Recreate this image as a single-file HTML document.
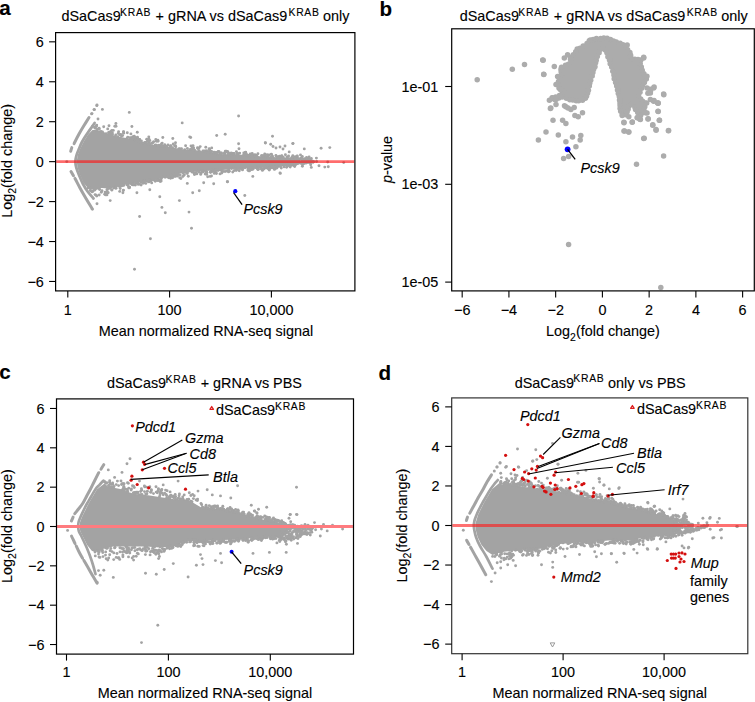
<!DOCTYPE html><html><head><meta charset="utf-8"><style>html,body{margin:0;padding:0;background:#fff;}svg{display:block;}</style></head><body><svg width="755" height="702" viewBox="0 0 755 702" font-family='"Liberation Sans", sans-serif'>
<rect width="755" height="702" fill="#fff"/>
<style>text{stroke:#000;stroke-width:0.12px;}</style>
<text x="-0.8" y="15.4" font-size="20.6" text-anchor="start" font-weight="bold" fill="#000">a</text>
<text x="61.5" y="21.2" font-size="14.4" text-anchor="start" font-weight="normal" fill="#000">dSaCas9</text>
<text x="120.1" y="16.0" font-size="10.4" letter-spacing="0.7">KRAB</text>
<text x="155.6" y="21.2" font-size="14.4" text-anchor="start" font-weight="normal" fill="#000">+ gRNA vs dSaCas9</text>
<text x="288.5" y="16.0" font-size="10.4" letter-spacing="0.7">KRAB</text>
<text x="323.0" y="21.2" font-size="14.4" text-anchor="start" font-weight="normal" fill="#000">only</text>
<polygon points="92.5,130.0 95.0,130.0 101.5,131.0 108.0,134.0 115.0,136.0 121.0,137.0 128.0,138.5 141.0,141.5 154.5,145.0 168.0,146.4 183.0,149.5 196.5,150.2 210.0,152.5 223.0,154.3 236.0,154.2 250.0,155.5 263.0,156.5 282.0,157.4 290.0,158.5 300.0,161.6 290.0,165.4 282.0,166.6 262.7,167.7 249.5,168.1 236.0,168.8 223.0,170.1 209.7,170.7 196.5,171.4 183.0,173.0 167.7,176.5 154.5,180.0 141.2,182.0 128.0,184.0 121.4,185.5 114.7,187.5 108.0,188.5 101.5,188.0 94.9,190.5 87.9,188.0 83.6,183.0 80.0,175.0 77.5,167.6 76.8,161.6 77.6,155.5 80.0,149.0 84.0,141.0 88.5,134.0" fill="#a3a3a3"/>
<circle cx="192.5" cy="149.2" r="1.45" fill="#a3a3a3"/>
<circle cx="296.8" cy="157.8" r="1.45" fill="#a3a3a3"/>
<circle cx="204.7" cy="151.0" r="1.45" fill="#a3a3a3"/>
<circle cx="133.3" cy="138.8" r="1.45" fill="#a3a3a3"/>
<circle cx="231.7" cy="154.4" r="1.45" fill="#a3a3a3"/>
<circle cx="113.3" cy="130.4" r="1.45" fill="#a3a3a3"/>
<circle cx="112.5" cy="134.8" r="1.45" fill="#a3a3a3"/>
<circle cx="245.7" cy="152.2" r="1.45" fill="#a3a3a3"/>
<circle cx="309.6" cy="160.7" r="1.45" fill="#a3a3a3"/>
<circle cx="237.0" cy="153.8" r="1.45" fill="#a3a3a3"/>
<circle cx="127.3" cy="132.8" r="1.45" fill="#a3a3a3"/>
<circle cx="209.3" cy="148.6" r="1.45" fill="#a3a3a3"/>
<circle cx="134.5" cy="137.8" r="1.45" fill="#a3a3a3"/>
<circle cx="99.1" cy="128.2" r="1.45" fill="#a3a3a3"/>
<circle cx="189.9" cy="150.1" r="1.45" fill="#a3a3a3"/>
<circle cx="207.2" cy="151.6" r="1.45" fill="#a3a3a3"/>
<circle cx="202.9" cy="151.0" r="1.45" fill="#a3a3a3"/>
<circle cx="193.6" cy="147.9" r="1.45" fill="#a3a3a3"/>
<circle cx="313.0" cy="162.2" r="1.45" fill="#a3a3a3"/>
<circle cx="278.2" cy="157.2" r="1.45" fill="#a3a3a3"/>
<circle cx="162.2" cy="143.1" r="1.45" fill="#a3a3a3"/>
<circle cx="156.4" cy="141.2" r="1.45" fill="#a3a3a3"/>
<circle cx="261.8" cy="155.7" r="1.45" fill="#a3a3a3"/>
<circle cx="279.6" cy="156.2" r="1.45" fill="#a3a3a3"/>
<circle cx="304.2" cy="159.7" r="1.45" fill="#a3a3a3"/>
<circle cx="92.6" cy="126.3" r="1.45" fill="#a3a3a3"/>
<circle cx="293.7" cy="157.8" r="1.45" fill="#a3a3a3"/>
<circle cx="309.2" cy="159.1" r="1.45" fill="#a3a3a3"/>
<circle cx="108.6" cy="132.7" r="1.45" fill="#a3a3a3"/>
<circle cx="264.6" cy="155.4" r="1.45" fill="#a3a3a3"/>
<circle cx="111.8" cy="130.5" r="1.45" fill="#a3a3a3"/>
<circle cx="305.6" cy="159.6" r="1.45" fill="#a3a3a3"/>
<circle cx="118.6" cy="131.8" r="1.45" fill="#a3a3a3"/>
<circle cx="114.8" cy="126.2" r="1.45" fill="#a3a3a3"/>
<circle cx="268.6" cy="155.1" r="1.45" fill="#a3a3a3"/>
<circle cx="216.1" cy="152.5" r="1.45" fill="#a3a3a3"/>
<circle cx="134.6" cy="140.0" r="1.45" fill="#a3a3a3"/>
<circle cx="121.4" cy="136.1" r="1.45" fill="#a3a3a3"/>
<circle cx="118.2" cy="133.4" r="1.45" fill="#a3a3a3"/>
<circle cx="139.5" cy="139.5" r="1.45" fill="#a3a3a3"/>
<circle cx="307.1" cy="160.0" r="1.45" fill="#a3a3a3"/>
<circle cx="159.7" cy="145.9" r="1.45" fill="#a3a3a3"/>
<circle cx="139.1" cy="139.9" r="1.45" fill="#a3a3a3"/>
<circle cx="281.3" cy="157.2" r="1.45" fill="#a3a3a3"/>
<circle cx="114.7" cy="136.6" r="1.45" fill="#a3a3a3"/>
<circle cx="139.6" cy="139.4" r="1.45" fill="#a3a3a3"/>
<circle cx="263.3" cy="155.6" r="1.45" fill="#a3a3a3"/>
<circle cx="158.0" cy="141.3" r="1.45" fill="#a3a3a3"/>
<circle cx="112.4" cy="133.0" r="1.45" fill="#a3a3a3"/>
<circle cx="146.2" cy="142.4" r="1.45" fill="#a3a3a3"/>
<circle cx="174.6" cy="145.7" r="1.45" fill="#a3a3a3"/>
<circle cx="304.5" cy="158.7" r="1.45" fill="#a3a3a3"/>
<circle cx="219.5" cy="154.3" r="1.45" fill="#a3a3a3"/>
<circle cx="132.9" cy="136.6" r="1.45" fill="#a3a3a3"/>
<circle cx="293.3" cy="158.9" r="1.45" fill="#a3a3a3"/>
<circle cx="147.6" cy="140.8" r="1.45" fill="#a3a3a3"/>
<circle cx="255.9" cy="156.6" r="1.45" fill="#a3a3a3"/>
<circle cx="135.9" cy="141.0" r="1.45" fill="#a3a3a3"/>
<circle cx="287.5" cy="157.8" r="1.45" fill="#a3a3a3"/>
<circle cx="185.6" cy="145.8" r="1.45" fill="#a3a3a3"/>
<circle cx="101.1" cy="131.5" r="1.45" fill="#a3a3a3"/>
<circle cx="145.2" cy="142.5" r="1.45" fill="#a3a3a3"/>
<circle cx="149.3" cy="143.9" r="1.45" fill="#a3a3a3"/>
<circle cx="224.3" cy="153.2" r="1.45" fill="#a3a3a3"/>
<circle cx="131.3" cy="139.1" r="1.45" fill="#a3a3a3"/>
<circle cx="107.7" cy="128.9" r="1.45" fill="#a3a3a3"/>
<circle cx="216.1" cy="153.8" r="1.45" fill="#a3a3a3"/>
<circle cx="228.3" cy="152.8" r="1.45" fill="#a3a3a3"/>
<circle cx="295.2" cy="156.7" r="1.45" fill="#a3a3a3"/>
<circle cx="96.2" cy="126.5" r="1.45" fill="#a3a3a3"/>
<circle cx="191.0" cy="145.9" r="1.45" fill="#a3a3a3"/>
<circle cx="131.5" cy="137.6" r="1.45" fill="#a3a3a3"/>
<circle cx="218.9" cy="151.6" r="1.45" fill="#a3a3a3"/>
<circle cx="172.5" cy="147.6" r="1.45" fill="#a3a3a3"/>
<circle cx="309.2" cy="159.9" r="1.45" fill="#a3a3a3"/>
<circle cx="245.3" cy="154.8" r="1.45" fill="#a3a3a3"/>
<circle cx="123.5" cy="131.6" r="1.45" fill="#a3a3a3"/>
<circle cx="96.5" cy="130.6" r="1.45" fill="#a3a3a3"/>
<circle cx="247.4" cy="156.0" r="1.45" fill="#a3a3a3"/>
<circle cx="97.2" cy="129.2" r="1.45" fill="#a3a3a3"/>
<circle cx="199.1" cy="150.6" r="1.45" fill="#a3a3a3"/>
<circle cx="163.0" cy="146.7" r="1.45" fill="#a3a3a3"/>
<circle cx="109.1" cy="132.1" r="1.45" fill="#a3a3a3"/>
<circle cx="255.4" cy="156.5" r="1.45" fill="#a3a3a3"/>
<circle cx="255.4" cy="156.1" r="1.45" fill="#a3a3a3"/>
<circle cx="267.8" cy="157.3" r="1.45" fill="#a3a3a3"/>
<circle cx="170.3" cy="146.0" r="1.45" fill="#a3a3a3"/>
<circle cx="291.6" cy="159.0" r="1.45" fill="#a3a3a3"/>
<circle cx="184.7" cy="149.6" r="1.45" fill="#a3a3a3"/>
<circle cx="283.3" cy="157.2" r="1.45" fill="#a3a3a3"/>
<circle cx="230.6" cy="153.1" r="1.45" fill="#a3a3a3"/>
<circle cx="221.3" cy="153.9" r="1.45" fill="#a3a3a3"/>
<circle cx="110.2" cy="133.0" r="1.45" fill="#a3a3a3"/>
<circle cx="312.0" cy="161.5" r="1.45" fill="#a3a3a3"/>
<circle cx="253.4" cy="155.1" r="1.45" fill="#a3a3a3"/>
<circle cx="254.9" cy="155.7" r="1.45" fill="#a3a3a3"/>
<circle cx="189.9" cy="150.1" r="1.45" fill="#a3a3a3"/>
<circle cx="111.0" cy="134.0" r="1.45" fill="#a3a3a3"/>
<circle cx="99.1" cy="129.2" r="1.45" fill="#a3a3a3"/>
<circle cx="198.8" cy="148.3" r="1.45" fill="#a3a3a3"/>
<circle cx="246.8" cy="154.7" r="1.45" fill="#a3a3a3"/>
<circle cx="228.3" cy="154.9" r="1.45" fill="#a3a3a3"/>
<circle cx="149.0" cy="139.1" r="1.45" fill="#a3a3a3"/>
<circle cx="159.0" cy="145.1" r="1.45" fill="#a3a3a3"/>
<circle cx="137.3" cy="138.2" r="1.45" fill="#a3a3a3"/>
<circle cx="292.7" cy="158.4" r="1.45" fill="#a3a3a3"/>
<circle cx="190.2" cy="150.3" r="1.45" fill="#a3a3a3"/>
<circle cx="164.8" cy="145.6" r="1.45" fill="#a3a3a3"/>
<circle cx="136.4" cy="139.3" r="1.45" fill="#a3a3a3"/>
<circle cx="270.6" cy="157.5" r="1.45" fill="#a3a3a3"/>
<circle cx="287.0" cy="157.0" r="1.45" fill="#a3a3a3"/>
<circle cx="221.4" cy="153.0" r="1.45" fill="#a3a3a3"/>
<circle cx="122.6" cy="135.6" r="1.45" fill="#a3a3a3"/>
<circle cx="277.5" cy="157.6" r="1.45" fill="#a3a3a3"/>
<circle cx="249.7" cy="156.2" r="1.45" fill="#a3a3a3"/>
<circle cx="153.7" cy="141.8" r="1.45" fill="#a3a3a3"/>
<circle cx="192.1" cy="147.8" r="1.45" fill="#a3a3a3"/>
<circle cx="139.8" cy="140.2" r="1.45" fill="#a3a3a3"/>
<circle cx="230.8" cy="153.5" r="1.45" fill="#a3a3a3"/>
<circle cx="162.2" cy="146.0" r="1.45" fill="#a3a3a3"/>
<circle cx="309.5" cy="159.3" r="1.45" fill="#a3a3a3"/>
<circle cx="109.0" cy="125.7" r="1.45" fill="#a3a3a3"/>
<circle cx="285.4" cy="154.7" r="1.45" fill="#a3a3a3"/>
<circle cx="249.1" cy="155.2" r="1.45" fill="#a3a3a3"/>
<circle cx="160.8" cy="145.7" r="1.45" fill="#a3a3a3"/>
<circle cx="96.7" cy="125.1" r="1.45" fill="#a3a3a3"/>
<circle cx="193.0" cy="145.6" r="1.45" fill="#a3a3a3"/>
<circle cx="275.9" cy="155.5" r="1.45" fill="#a3a3a3"/>
<circle cx="123.6" cy="131.9" r="1.45" fill="#a3a3a3"/>
<circle cx="231.5" cy="153.3" r="1.45" fill="#a3a3a3"/>
<circle cx="231.7" cy="154.0" r="1.45" fill="#a3a3a3"/>
<circle cx="270.9" cy="157.6" r="1.45" fill="#a3a3a3"/>
<circle cx="243.8" cy="153.0" r="1.45" fill="#a3a3a3"/>
<circle cx="197.5" cy="147.7" r="1.45" fill="#a3a3a3"/>
<circle cx="94.9" cy="128.0" r="1.45" fill="#a3a3a3"/>
<circle cx="250.3" cy="154.0" r="1.45" fill="#a3a3a3"/>
<circle cx="152.7" cy="142.7" r="1.45" fill="#a3a3a3"/>
<circle cx="246.6" cy="154.7" r="1.45" fill="#a3a3a3"/>
<circle cx="228.3" cy="154.4" r="1.45" fill="#a3a3a3"/>
<circle cx="179.5" cy="148.7" r="1.45" fill="#a3a3a3"/>
<circle cx="292.8" cy="155.8" r="1.45" fill="#a3a3a3"/>
<circle cx="298.6" cy="158.7" r="1.45" fill="#a3a3a3"/>
<circle cx="121.2" cy="134.9" r="1.45" fill="#a3a3a3"/>
<circle cx="230.7" cy="154.8" r="1.45" fill="#a3a3a3"/>
<circle cx="175.8" cy="146.7" r="1.45" fill="#a3a3a3"/>
<circle cx="286.8" cy="158.3" r="1.45" fill="#a3a3a3"/>
<circle cx="301.2" cy="158.1" r="1.45" fill="#a3a3a3"/>
<circle cx="236.4" cy="151.8" r="1.45" fill="#a3a3a3"/>
<circle cx="252.0" cy="156.1" r="1.45" fill="#a3a3a3"/>
<circle cx="234.3" cy="154.1" r="1.45" fill="#a3a3a3"/>
<circle cx="139.6" cy="141.7" r="1.45" fill="#a3a3a3"/>
<circle cx="309.2" cy="160.6" r="1.45" fill="#a3a3a3"/>
<circle cx="211.2" cy="152.8" r="1.45" fill="#a3a3a3"/>
<circle cx="163.3" cy="146.4" r="1.45" fill="#a3a3a3"/>
<circle cx="281.6" cy="156.1" r="1.45" fill="#a3a3a3"/>
<circle cx="110.8" cy="131.5" r="1.45" fill="#a3a3a3"/>
<circle cx="214.1" cy="153.2" r="1.45" fill="#a3a3a3"/>
<circle cx="200.2" cy="146.6" r="1.45" fill="#a3a3a3"/>
<circle cx="271.3" cy="154.3" r="1.45" fill="#a3a3a3"/>
<circle cx="269.3" cy="155.0" r="1.45" fill="#a3a3a3"/>
<circle cx="166.5" cy="146.3" r="1.45" fill="#a3a3a3"/>
<circle cx="123.6" cy="133.3" r="1.45" fill="#a3a3a3"/>
<circle cx="206.7" cy="151.8" r="1.45" fill="#a3a3a3"/>
<circle cx="278.1" cy="157.2" r="1.45" fill="#a3a3a3"/>
<circle cx="301.5" cy="158.2" r="1.45" fill="#a3a3a3"/>
<circle cx="302.3" cy="156.4" r="1.45" fill="#a3a3a3"/>
<circle cx="141.4" cy="141.0" r="1.45" fill="#a3a3a3"/>
<circle cx="156.6" cy="145.1" r="1.45" fill="#a3a3a3"/>
<circle cx="233.7" cy="153.5" r="1.45" fill="#a3a3a3"/>
<circle cx="278.9" cy="156.8" r="1.45" fill="#a3a3a3"/>
<circle cx="161.4" cy="143.9" r="1.45" fill="#a3a3a3"/>
<circle cx="279.3" cy="157.8" r="1.45" fill="#a3a3a3"/>
<circle cx="138.5" cy="141.3" r="1.45" fill="#a3a3a3"/>
<circle cx="306.5" cy="159.1" r="1.45" fill="#a3a3a3"/>
<circle cx="219.1" cy="152.0" r="1.45" fill="#a3a3a3"/>
<circle cx="210.9" cy="151.7" r="1.45" fill="#a3a3a3"/>
<circle cx="226.3" cy="151.3" r="1.45" fill="#a3a3a3"/>
<circle cx="306.7" cy="159.1" r="1.45" fill="#a3a3a3"/>
<circle cx="181.0" cy="149.1" r="1.45" fill="#a3a3a3"/>
<circle cx="216.9" cy="152.8" r="1.45" fill="#a3a3a3"/>
<circle cx="245.2" cy="152.4" r="1.45" fill="#a3a3a3"/>
<circle cx="211.6" cy="151.5" r="1.45" fill="#a3a3a3"/>
<circle cx="304.0" cy="159.8" r="1.45" fill="#a3a3a3"/>
<circle cx="152.0" cy="143.2" r="1.45" fill="#a3a3a3"/>
<circle cx="120.6" cy="134.5" r="1.45" fill="#a3a3a3"/>
<circle cx="272.8" cy="157.5" r="1.45" fill="#a3a3a3"/>
<circle cx="197.8" cy="148.6" r="1.45" fill="#a3a3a3"/>
<circle cx="134.8" cy="139.6" r="1.45" fill="#a3a3a3"/>
<circle cx="297.0" cy="156.2" r="1.45" fill="#a3a3a3"/>
<circle cx="264.7" cy="153.9" r="1.45" fill="#a3a3a3"/>
<circle cx="135.4" cy="137.9" r="1.45" fill="#a3a3a3"/>
<circle cx="244.3" cy="153.7" r="1.45" fill="#a3a3a3"/>
<circle cx="171.0" cy="145.7" r="1.45" fill="#a3a3a3"/>
<circle cx="115.7" cy="135.0" r="1.45" fill="#a3a3a3"/>
<circle cx="119.6" cy="134.7" r="1.45" fill="#a3a3a3"/>
<circle cx="147.9" cy="140.9" r="1.45" fill="#a3a3a3"/>
<circle cx="209.7" cy="151.2" r="1.45" fill="#a3a3a3"/>
<circle cx="175.5" cy="145.6" r="1.45" fill="#a3a3a3"/>
<circle cx="209.5" cy="149.6" r="1.45" fill="#a3a3a3"/>
<circle cx="137.6" cy="140.4" r="1.45" fill="#a3a3a3"/>
<circle cx="233.6" cy="153.5" r="1.45" fill="#a3a3a3"/>
<circle cx="280.6" cy="157.0" r="1.45" fill="#a3a3a3"/>
<circle cx="281.8" cy="155.6" r="1.45" fill="#a3a3a3"/>
<circle cx="256.2" cy="156.4" r="1.45" fill="#a3a3a3"/>
<circle cx="292.0" cy="157.1" r="1.45" fill="#a3a3a3"/>
<circle cx="162.1" cy="146.3" r="1.45" fill="#a3a3a3"/>
<circle cx="140.7" cy="142.2" r="1.45" fill="#a3a3a3"/>
<circle cx="288.6" cy="155.9" r="1.45" fill="#a3a3a3"/>
<circle cx="145.4" cy="142.6" r="1.45" fill="#a3a3a3"/>
<circle cx="149.8" cy="140.4" r="1.45" fill="#a3a3a3"/>
<circle cx="276.4" cy="156.3" r="1.45" fill="#a3a3a3"/>
<circle cx="267.1" cy="154.8" r="1.45" fill="#a3a3a3"/>
<circle cx="181.5" cy="148.7" r="1.45" fill="#a3a3a3"/>
<circle cx="96.4" cy="125.9" r="1.45" fill="#a3a3a3"/>
<circle cx="243.3" cy="155.5" r="1.45" fill="#a3a3a3"/>
<circle cx="306.5" cy="157.4" r="1.45" fill="#a3a3a3"/>
<circle cx="204.3" cy="151.5" r="1.45" fill="#a3a3a3"/>
<circle cx="203.6" cy="151.2" r="1.45" fill="#a3a3a3"/>
<circle cx="134.3" cy="136.3" r="1.45" fill="#a3a3a3"/>
<circle cx="116.0" cy="126.3" r="1.45" fill="#a3a3a3"/>
<circle cx="214.4" cy="152.4" r="1.45" fill="#a3a3a3"/>
<circle cx="218.2" cy="151.5" r="1.45" fill="#a3a3a3"/>
<circle cx="133.3" cy="137.1" r="1.45" fill="#a3a3a3"/>
<circle cx="278.2" cy="158.0" r="1.45" fill="#a3a3a3"/>
<circle cx="297.3" cy="156.0" r="1.45" fill="#a3a3a3"/>
<circle cx="106.2" cy="133.7" r="1.45" fill="#a3a3a3"/>
<circle cx="194.6" cy="150.1" r="1.45" fill="#a3a3a3"/>
<circle cx="164.7" cy="144.7" r="1.45" fill="#a3a3a3"/>
<circle cx="206.4" cy="150.6" r="1.45" fill="#a3a3a3"/>
<circle cx="225.3" cy="151.2" r="1.45" fill="#a3a3a3"/>
<circle cx="247.4" cy="155.7" r="1.45" fill="#a3a3a3"/>
<circle cx="132.6" cy="138.3" r="1.45" fill="#a3a3a3"/>
<circle cx="255.9" cy="155.3" r="1.45" fill="#a3a3a3"/>
<circle cx="135.6" cy="137.6" r="1.45" fill="#a3a3a3"/>
<circle cx="205.8" cy="147.3" r="1.45" fill="#a3a3a3"/>
<circle cx="289.9" cy="158.8" r="1.45" fill="#a3a3a3"/>
<circle cx="248.2" cy="155.8" r="1.45" fill="#a3a3a3"/>
<circle cx="231.6" cy="153.1" r="1.45" fill="#a3a3a3"/>
<circle cx="225.0" cy="153.8" r="1.45" fill="#a3a3a3"/>
<circle cx="309.7" cy="160.3" r="1.45" fill="#a3a3a3"/>
<circle cx="149.6" cy="144.3" r="1.45" fill="#a3a3a3"/>
<circle cx="257.0" cy="156.4" r="1.45" fill="#a3a3a3"/>
<circle cx="272.5" cy="156.1" r="1.45" fill="#a3a3a3"/>
<circle cx="290.6" cy="159.0" r="1.45" fill="#a3a3a3"/>
<circle cx="246.1" cy="155.4" r="1.45" fill="#a3a3a3"/>
<circle cx="261.6" cy="155.7" r="1.45" fill="#a3a3a3"/>
<circle cx="252.2" cy="153.5" r="1.45" fill="#a3a3a3"/>
<circle cx="168.0" cy="145.0" r="1.45" fill="#a3a3a3"/>
<circle cx="94.8" cy="127.2" r="1.45" fill="#a3a3a3"/>
<circle cx="233.7" cy="153.8" r="1.45" fill="#a3a3a3"/>
<circle cx="143.8" cy="142.9" r="1.45" fill="#a3a3a3"/>
<circle cx="239.7" cy="153.1" r="1.45" fill="#a3a3a3"/>
<circle cx="238.3" cy="153.8" r="1.45" fill="#a3a3a3"/>
<circle cx="210.3" cy="151.1" r="1.45" fill="#a3a3a3"/>
<circle cx="313.5" cy="161.6" r="1.45" fill="#a3a3a3"/>
<circle cx="247.5" cy="155.5" r="1.45" fill="#a3a3a3"/>
<circle cx="309.1" cy="157.0" r="1.45" fill="#a3a3a3"/>
<circle cx="228.5" cy="154.4" r="1.45" fill="#a3a3a3"/>
<circle cx="149.2" cy="142.3" r="1.45" fill="#a3a3a3"/>
<circle cx="103.7" cy="126.8" r="1.45" fill="#a3a3a3"/>
<circle cx="175.5" cy="142.8" r="1.45" fill="#a3a3a3"/>
<circle cx="147.9" cy="143.8" r="1.45" fill="#a3a3a3"/>
<circle cx="214.1" cy="152.3" r="1.45" fill="#a3a3a3"/>
<circle cx="306.2" cy="159.2" r="1.45" fill="#a3a3a3"/>
<circle cx="312.4" cy="161.1" r="1.45" fill="#a3a3a3"/>
<circle cx="271.4" cy="154.4" r="1.45" fill="#a3a3a3"/>
<circle cx="224.6" cy="154.5" r="1.45" fill="#a3a3a3"/>
<circle cx="102.5" cy="131.9" r="1.45" fill="#a3a3a3"/>
<circle cx="127.8" cy="137.1" r="1.45" fill="#a3a3a3"/>
<circle cx="129.9" cy="137.7" r="1.45" fill="#a3a3a3"/>
<circle cx="227.6" cy="151.5" r="1.45" fill="#a3a3a3"/>
<circle cx="301.4" cy="158.0" r="1.45" fill="#a3a3a3"/>
<circle cx="208.9" cy="151.8" r="1.45" fill="#a3a3a3"/>
<circle cx="173.3" cy="144.0" r="1.45" fill="#a3a3a3"/>
<circle cx="237.3" cy="153.7" r="1.45" fill="#a3a3a3"/>
<circle cx="155.2" cy="144.9" r="1.45" fill="#a3a3a3"/>
<circle cx="157.9" cy="140.3" r="1.45" fill="#a3a3a3"/>
<circle cx="146.7" cy="139.3" r="1.45" fill="#a3a3a3"/>
<circle cx="127.1" cy="138.2" r="1.45" fill="#a3a3a3"/>
<circle cx="178.7" cy="149.0" r="1.45" fill="#a3a3a3"/>
<circle cx="257.9" cy="153.8" r="1.45" fill="#a3a3a3"/>
<circle cx="311.0" cy="161.1" r="1.45" fill="#a3a3a3"/>
<circle cx="108.7" cy="134.5" r="1.45" fill="#a3a3a3"/>
<circle cx="187.4" cy="148.5" r="1.45" fill="#a3a3a3"/>
<circle cx="307.6" cy="158.2" r="1.45" fill="#a3a3a3"/>
<circle cx="208.2" cy="152.8" r="1.45" fill="#a3a3a3"/>
<circle cx="252.2" cy="155.2" r="1.45" fill="#a3a3a3"/>
<circle cx="308.8" cy="160.2" r="1.45" fill="#a3a3a3"/>
<circle cx="225.9" cy="152.1" r="1.45" fill="#a3a3a3"/>
<circle cx="230.5" cy="153.4" r="1.45" fill="#a3a3a3"/>
<circle cx="137.5" cy="137.2" r="1.45" fill="#a3a3a3"/>
<circle cx="209.2" cy="149.3" r="1.45" fill="#a3a3a3"/>
<circle cx="190.4" cy="149.5" r="1.45" fill="#a3a3a3"/>
<circle cx="193.2" cy="147.8" r="1.45" fill="#a3a3a3"/>
<circle cx="221.2" cy="153.3" r="1.45" fill="#a3a3a3"/>
<circle cx="264.4" cy="156.3" r="1.45" fill="#a3a3a3"/>
<circle cx="313.0" cy="162.1" r="1.45" fill="#a3a3a3"/>
<circle cx="254.8" cy="154.6" r="1.45" fill="#a3a3a3"/>
<circle cx="117.7" cy="136.6" r="1.45" fill="#a3a3a3"/>
<circle cx="265.8" cy="156.6" r="1.45" fill="#a3a3a3"/>
<circle cx="168.9" cy="177.7" r="1.45" fill="#a3a3a3"/>
<circle cx="242.4" cy="168.9" r="1.45" fill="#a3a3a3"/>
<circle cx="221.4" cy="170.4" r="1.45" fill="#a3a3a3"/>
<circle cx="257.9" cy="169.5" r="1.45" fill="#a3a3a3"/>
<circle cx="144.1" cy="180.8" r="1.45" fill="#a3a3a3"/>
<circle cx="294.5" cy="163.9" r="1.45" fill="#a3a3a3"/>
<circle cx="96.8" cy="196.0" r="1.45" fill="#a3a3a3"/>
<circle cx="149.0" cy="181.9" r="1.45" fill="#a3a3a3"/>
<circle cx="228.5" cy="171.9" r="1.45" fill="#a3a3a3"/>
<circle cx="210.1" cy="176.4" r="1.45" fill="#a3a3a3"/>
<circle cx="107.4" cy="189.4" r="1.45" fill="#a3a3a3"/>
<circle cx="212.1" cy="171.5" r="1.45" fill="#a3a3a3"/>
<circle cx="172.1" cy="176.3" r="1.45" fill="#a3a3a3"/>
<circle cx="135.4" cy="185.0" r="1.45" fill="#a3a3a3"/>
<circle cx="255.9" cy="167.5" r="1.45" fill="#a3a3a3"/>
<circle cx="104.7" cy="194.3" r="1.45" fill="#a3a3a3"/>
<circle cx="270.5" cy="167.3" r="1.45" fill="#a3a3a3"/>
<circle cx="261.3" cy="169.0" r="1.45" fill="#a3a3a3"/>
<circle cx="183.6" cy="175.5" r="1.45" fill="#a3a3a3"/>
<circle cx="270.6" cy="168.1" r="1.45" fill="#a3a3a3"/>
<circle cx="235.4" cy="168.1" r="1.45" fill="#a3a3a3"/>
<circle cx="161.3" cy="178.7" r="1.45" fill="#a3a3a3"/>
<circle cx="256.2" cy="167.3" r="1.45" fill="#a3a3a3"/>
<circle cx="184.4" cy="174.7" r="1.45" fill="#a3a3a3"/>
<circle cx="109.8" cy="188.0" r="1.45" fill="#a3a3a3"/>
<circle cx="105.6" cy="194.9" r="1.45" fill="#a3a3a3"/>
<circle cx="215.2" cy="171.9" r="1.45" fill="#a3a3a3"/>
<circle cx="242.5" cy="169.9" r="1.45" fill="#a3a3a3"/>
<circle cx="262.9" cy="169.6" r="1.45" fill="#a3a3a3"/>
<circle cx="136.0" cy="183.3" r="1.45" fill="#a3a3a3"/>
<circle cx="106.3" cy="192.2" r="1.45" fill="#a3a3a3"/>
<circle cx="251.5" cy="168.1" r="1.45" fill="#a3a3a3"/>
<circle cx="151.7" cy="182.9" r="1.45" fill="#a3a3a3"/>
<circle cx="168.6" cy="176.2" r="1.45" fill="#a3a3a3"/>
<circle cx="170.6" cy="178.3" r="1.45" fill="#a3a3a3"/>
<circle cx="247.9" cy="168.7" r="1.45" fill="#a3a3a3"/>
<circle cx="295.1" cy="163.6" r="1.45" fill="#a3a3a3"/>
<circle cx="294.0" cy="165.2" r="1.45" fill="#a3a3a3"/>
<circle cx="269.1" cy="168.4" r="1.45" fill="#a3a3a3"/>
<circle cx="159.6" cy="179.7" r="1.45" fill="#a3a3a3"/>
<circle cx="298.8" cy="162.9" r="1.45" fill="#a3a3a3"/>
<circle cx="143.9" cy="182.9" r="1.45" fill="#a3a3a3"/>
<circle cx="170.4" cy="177.1" r="1.45" fill="#a3a3a3"/>
<circle cx="177.1" cy="175.8" r="1.45" fill="#a3a3a3"/>
<circle cx="131.9" cy="184.6" r="1.45" fill="#a3a3a3"/>
<circle cx="267.7" cy="167.7" r="1.45" fill="#a3a3a3"/>
<circle cx="276.6" cy="167.3" r="1.45" fill="#a3a3a3"/>
<circle cx="127.7" cy="184.5" r="1.45" fill="#a3a3a3"/>
<circle cx="286.6" cy="167.3" r="1.45" fill="#a3a3a3"/>
<circle cx="92.9" cy="191.2" r="1.45" fill="#a3a3a3"/>
<circle cx="210.7" cy="172.0" r="1.45" fill="#a3a3a3"/>
<circle cx="305.9" cy="163.0" r="1.45" fill="#a3a3a3"/>
<circle cx="269.4" cy="169.6" r="1.45" fill="#a3a3a3"/>
<circle cx="211.3" cy="170.8" r="1.45" fill="#a3a3a3"/>
<circle cx="106.9" cy="194.9" r="1.45" fill="#a3a3a3"/>
<circle cx="254.2" cy="167.4" r="1.45" fill="#a3a3a3"/>
<circle cx="107.0" cy="189.7" r="1.45" fill="#a3a3a3"/>
<circle cx="120.4" cy="186.3" r="1.45" fill="#a3a3a3"/>
<circle cx="234.3" cy="170.5" r="1.45" fill="#a3a3a3"/>
<circle cx="137.6" cy="182.5" r="1.45" fill="#a3a3a3"/>
<circle cx="205.6" cy="171.1" r="1.45" fill="#a3a3a3"/>
<circle cx="176.9" cy="176.1" r="1.45" fill="#a3a3a3"/>
<circle cx="306.3" cy="162.9" r="1.45" fill="#a3a3a3"/>
<circle cx="199.3" cy="172.2" r="1.45" fill="#a3a3a3"/>
<circle cx="250.5" cy="168.1" r="1.45" fill="#a3a3a3"/>
<circle cx="294.3" cy="165.2" r="1.45" fill="#a3a3a3"/>
<circle cx="274.3" cy="167.1" r="1.45" fill="#a3a3a3"/>
<circle cx="280.5" cy="166.4" r="1.45" fill="#a3a3a3"/>
<circle cx="276.0" cy="166.4" r="1.45" fill="#a3a3a3"/>
<circle cx="304.0" cy="163.1" r="1.45" fill="#a3a3a3"/>
<circle cx="206.1" cy="171.4" r="1.45" fill="#a3a3a3"/>
<circle cx="268.9" cy="168.0" r="1.45" fill="#a3a3a3"/>
<circle cx="182.8" cy="176.6" r="1.45" fill="#a3a3a3"/>
<circle cx="255.1" cy="167.2" r="1.45" fill="#a3a3a3"/>
<circle cx="172.6" cy="177.7" r="1.45" fill="#a3a3a3"/>
<circle cx="134.0" cy="184.9" r="1.45" fill="#a3a3a3"/>
<circle cx="153.8" cy="179.4" r="1.45" fill="#a3a3a3"/>
<circle cx="101.3" cy="192.2" r="1.45" fill="#a3a3a3"/>
<circle cx="113.8" cy="188.0" r="1.45" fill="#a3a3a3"/>
<circle cx="263.0" cy="169.0" r="1.45" fill="#a3a3a3"/>
<circle cx="102.0" cy="190.7" r="1.45" fill="#a3a3a3"/>
<circle cx="219.7" cy="169.7" r="1.45" fill="#a3a3a3"/>
<circle cx="96.1" cy="195.3" r="1.45" fill="#a3a3a3"/>
<circle cx="129.5" cy="187.7" r="1.45" fill="#a3a3a3"/>
<circle cx="141.0" cy="182.0" r="1.45" fill="#a3a3a3"/>
<circle cx="222.1" cy="171.9" r="1.45" fill="#a3a3a3"/>
<circle cx="129.6" cy="187.1" r="1.45" fill="#a3a3a3"/>
<circle cx="126.8" cy="184.7" r="1.45" fill="#a3a3a3"/>
<circle cx="158.2" cy="179.5" r="1.45" fill="#a3a3a3"/>
<circle cx="272.2" cy="167.7" r="1.45" fill="#a3a3a3"/>
<circle cx="146.7" cy="180.7" r="1.45" fill="#a3a3a3"/>
<circle cx="294.2" cy="165.5" r="1.45" fill="#a3a3a3"/>
<circle cx="211.4" cy="170.0" r="1.45" fill="#a3a3a3"/>
<circle cx="196.8" cy="173.9" r="1.45" fill="#a3a3a3"/>
<circle cx="99.1" cy="188.4" r="1.45" fill="#a3a3a3"/>
<circle cx="268.7" cy="168.1" r="1.45" fill="#a3a3a3"/>
<circle cx="206.9" cy="172.4" r="1.45" fill="#a3a3a3"/>
<circle cx="149.8" cy="179.9" r="1.45" fill="#a3a3a3"/>
<circle cx="236.2" cy="170.4" r="1.45" fill="#a3a3a3"/>
<circle cx="90.4" cy="190.2" r="1.45" fill="#a3a3a3"/>
<circle cx="171.7" cy="175.3" r="1.45" fill="#a3a3a3"/>
<circle cx="248.8" cy="168.5" r="1.45" fill="#a3a3a3"/>
<circle cx="123.4" cy="190.1" r="1.45" fill="#a3a3a3"/>
<circle cx="160.5" cy="180.1" r="1.45" fill="#a3a3a3"/>
<circle cx="284.0" cy="166.9" r="1.45" fill="#a3a3a3"/>
<circle cx="231.6" cy="168.5" r="1.45" fill="#a3a3a3"/>
<circle cx="148.0" cy="181.6" r="1.45" fill="#a3a3a3"/>
<circle cx="121.9" cy="185.8" r="1.45" fill="#a3a3a3"/>
<circle cx="88.2" cy="187.9" r="1.45" fill="#a3a3a3"/>
<circle cx="278.8" cy="166.4" r="1.45" fill="#a3a3a3"/>
<circle cx="106.5" cy="192.5" r="1.45" fill="#a3a3a3"/>
<circle cx="249.5" cy="170.9" r="1.45" fill="#a3a3a3"/>
<circle cx="196.2" cy="172.5" r="1.45" fill="#a3a3a3"/>
<circle cx="303.5" cy="163.2" r="1.45" fill="#a3a3a3"/>
<circle cx="281.3" cy="168.1" r="1.45" fill="#a3a3a3"/>
<circle cx="266.0" cy="168.1" r="1.45" fill="#a3a3a3"/>
<circle cx="294.7" cy="166.6" r="1.45" fill="#a3a3a3"/>
<circle cx="274.3" cy="168.7" r="1.45" fill="#a3a3a3"/>
<circle cx="210.5" cy="172.3" r="1.45" fill="#a3a3a3"/>
<circle cx="123.4" cy="185.1" r="1.45" fill="#a3a3a3"/>
<circle cx="158.2" cy="180.5" r="1.45" fill="#a3a3a3"/>
<circle cx="105.1" cy="192.1" r="1.45" fill="#a3a3a3"/>
<circle cx="193.3" cy="171.9" r="1.45" fill="#a3a3a3"/>
<circle cx="169.1" cy="176.2" r="1.45" fill="#a3a3a3"/>
<circle cx="111.8" cy="189.9" r="1.45" fill="#a3a3a3"/>
<circle cx="192.1" cy="171.2" r="1.45" fill="#a3a3a3"/>
<circle cx="275.1" cy="167.1" r="1.45" fill="#a3a3a3"/>
<circle cx="90.7" cy="190.9" r="1.45" fill="#a3a3a3"/>
<circle cx="248.1" cy="170.0" r="1.45" fill="#a3a3a3"/>
<circle cx="215.2" cy="172.0" r="1.45" fill="#a3a3a3"/>
<circle cx="90.3" cy="188.1" r="1.45" fill="#a3a3a3"/>
<circle cx="268.3" cy="168.8" r="1.45" fill="#a3a3a3"/>
<circle cx="226.9" cy="171.0" r="1.45" fill="#a3a3a3"/>
<circle cx="172.7" cy="176.0" r="1.45" fill="#a3a3a3"/>
<circle cx="155.2" cy="181.2" r="1.45" fill="#a3a3a3"/>
<circle cx="176.4" cy="174.8" r="1.45" fill="#a3a3a3"/>
<circle cx="145.8" cy="183.4" r="1.45" fill="#a3a3a3"/>
<circle cx="252.9" cy="169.3" r="1.45" fill="#a3a3a3"/>
<circle cx="301.1" cy="163.4" r="1.45" fill="#a3a3a3"/>
<circle cx="251.2" cy="169.4" r="1.45" fill="#a3a3a3"/>
<circle cx="274.4" cy="169.4" r="1.45" fill="#a3a3a3"/>
<circle cx="119.7" cy="191.4" r="1.45" fill="#a3a3a3"/>
<circle cx="240.8" cy="168.5" r="1.45" fill="#a3a3a3"/>
<circle cx="128.5" cy="186.5" r="1.45" fill="#a3a3a3"/>
<circle cx="276.7" cy="167.2" r="1.45" fill="#a3a3a3"/>
<circle cx="108.2" cy="192.8" r="1.45" fill="#a3a3a3"/>
<circle cx="123.3" cy="190.6" r="1.45" fill="#a3a3a3"/>
<circle cx="179.7" cy="177.7" r="1.45" fill="#a3a3a3"/>
<circle cx="295.6" cy="164.8" r="1.45" fill="#a3a3a3"/>
<circle cx="203.3" cy="171.7" r="1.45" fill="#a3a3a3"/>
<circle cx="260.9" cy="167.3" r="1.45" fill="#a3a3a3"/>
<circle cx="175.0" cy="176.5" r="1.45" fill="#a3a3a3"/>
<circle cx="180.9" cy="178.5" r="1.45" fill="#a3a3a3"/>
<circle cx="178.3" cy="174.3" r="1.45" fill="#a3a3a3"/>
<circle cx="309.4" cy="162.6" r="1.45" fill="#a3a3a3"/>
<circle cx="236.8" cy="169.0" r="1.45" fill="#a3a3a3"/>
<circle cx="92.1" cy="191.9" r="1.45" fill="#a3a3a3"/>
<circle cx="165.1" cy="177.3" r="1.45" fill="#a3a3a3"/>
<circle cx="111.9" cy="190.0" r="1.45" fill="#a3a3a3"/>
<circle cx="202.8" cy="171.1" r="1.45" fill="#a3a3a3"/>
<circle cx="274.1" cy="167.2" r="1.45" fill="#a3a3a3"/>
<circle cx="123.6" cy="185.4" r="1.45" fill="#a3a3a3"/>
<circle cx="291.6" cy="165.4" r="1.45" fill="#a3a3a3"/>
<circle cx="167.4" cy="177.1" r="1.45" fill="#a3a3a3"/>
<circle cx="119.9" cy="186.6" r="1.45" fill="#a3a3a3"/>
<circle cx="310.5" cy="163.0" r="1.45" fill="#a3a3a3"/>
<circle cx="249.3" cy="167.8" r="1.45" fill="#a3a3a3"/>
<circle cx="132.4" cy="182.8" r="1.45" fill="#a3a3a3"/>
<circle cx="229.4" cy="171.2" r="1.45" fill="#a3a3a3"/>
<circle cx="106.7" cy="192.7" r="1.45" fill="#a3a3a3"/>
<circle cx="218.0" cy="170.6" r="1.45" fill="#a3a3a3"/>
<circle cx="162.2" cy="177.3" r="1.45" fill="#a3a3a3"/>
<circle cx="169.4" cy="176.9" r="1.45" fill="#a3a3a3"/>
<circle cx="115.9" cy="186.4" r="1.45" fill="#a3a3a3"/>
<circle cx="118.5" cy="186.0" r="1.45" fill="#a3a3a3"/>
<circle cx="210.5" cy="172.1" r="1.45" fill="#a3a3a3"/>
<circle cx="214.3" cy="173.4" r="1.45" fill="#a3a3a3"/>
<circle cx="293.0" cy="163.9" r="1.45" fill="#a3a3a3"/>
<circle cx="272.3" cy="167.3" r="1.45" fill="#a3a3a3"/>
<circle cx="115.6" cy="187.0" r="1.45" fill="#a3a3a3"/>
<circle cx="153.0" cy="179.7" r="1.45" fill="#a3a3a3"/>
<circle cx="142.2" cy="182.3" r="1.45" fill="#a3a3a3"/>
<circle cx="275.3" cy="168.8" r="1.45" fill="#a3a3a3"/>
<circle cx="211.5" cy="176.0" r="1.45" fill="#a3a3a3"/>
<circle cx="95.1" cy="194.6" r="1.45" fill="#a3a3a3"/>
<circle cx="310.6" cy="162.1" r="1.45" fill="#a3a3a3"/>
<circle cx="236.4" cy="170.0" r="1.45" fill="#a3a3a3"/>
<circle cx="239.3" cy="168.5" r="1.45" fill="#a3a3a3"/>
<circle cx="174.0" cy="175.5" r="1.45" fill="#a3a3a3"/>
<circle cx="269.2" cy="170.1" r="1.45" fill="#a3a3a3"/>
<circle cx="132.9" cy="184.9" r="1.45" fill="#a3a3a3"/>
<circle cx="120.2" cy="188.6" r="1.45" fill="#a3a3a3"/>
<circle cx="216.4" cy="173.6" r="1.45" fill="#a3a3a3"/>
<circle cx="205.2" cy="174.0" r="1.45" fill="#a3a3a3"/>
<circle cx="216.0" cy="172.6" r="1.45" fill="#a3a3a3"/>
<circle cx="232.7" cy="172.0" r="1.45" fill="#a3a3a3"/>
<circle cx="239.3" cy="170.8" r="1.45" fill="#a3a3a3"/>
<circle cx="304.3" cy="163.2" r="1.45" fill="#a3a3a3"/>
<circle cx="193.9" cy="173.1" r="1.45" fill="#a3a3a3"/>
<circle cx="228.6" cy="169.5" r="1.45" fill="#a3a3a3"/>
<circle cx="258.9" cy="167.6" r="1.45" fill="#a3a3a3"/>
<circle cx="197.5" cy="170.6" r="1.45" fill="#a3a3a3"/>
<circle cx="277.0" cy="166.4" r="1.45" fill="#a3a3a3"/>
<circle cx="180.2" cy="175.1" r="1.45" fill="#a3a3a3"/>
<circle cx="215.6" cy="170.0" r="1.45" fill="#a3a3a3"/>
<circle cx="206.6" cy="172.3" r="1.45" fill="#a3a3a3"/>
<circle cx="185.4" cy="172.2" r="1.45" fill="#a3a3a3"/>
<circle cx="160.2" cy="181.5" r="1.45" fill="#a3a3a3"/>
<circle cx="251.6" cy="167.5" r="1.45" fill="#a3a3a3"/>
<circle cx="253.0" cy="168.3" r="1.45" fill="#a3a3a3"/>
<circle cx="257.5" cy="169.0" r="1.45" fill="#a3a3a3"/>
<circle cx="221.8" cy="173.0" r="1.45" fill="#a3a3a3"/>
<circle cx="116.0" cy="188.3" r="1.45" fill="#a3a3a3"/>
<circle cx="201.3" cy="173.0" r="1.45" fill="#a3a3a3"/>
<circle cx="99.6" cy="189.6" r="1.45" fill="#a3a3a3"/>
<circle cx="206.6" cy="174.3" r="1.45" fill="#a3a3a3"/>
<circle cx="157.0" cy="180.4" r="1.45" fill="#a3a3a3"/>
<circle cx="141.1" cy="185.1" r="1.45" fill="#a3a3a3"/>
<circle cx="293.5" cy="163.9" r="1.45" fill="#a3a3a3"/>
<circle cx="238.1" cy="168.2" r="1.45" fill="#a3a3a3"/>
<circle cx="183.0" cy="172.9" r="1.45" fill="#a3a3a3"/>
<circle cx="137.9" cy="182.5" r="1.45" fill="#a3a3a3"/>
<circle cx="215.8" cy="170.0" r="1.45" fill="#a3a3a3"/>
<circle cx="110.1" cy="188.3" r="1.45" fill="#a3a3a3"/>
<circle cx="115.8" cy="188.0" r="1.45" fill="#a3a3a3"/>
<circle cx="302.4" cy="166.2" r="1.45" fill="#a3a3a3"/>
<circle cx="142.9" cy="183.3" r="1.45" fill="#a3a3a3"/>
<circle cx="161.2" cy="181.1" r="1.45" fill="#a3a3a3"/>
<circle cx="289.8" cy="165.1" r="1.45" fill="#a3a3a3"/>
<circle cx="177.5" cy="175.9" r="1.45" fill="#a3a3a3"/>
<circle cx="220.0" cy="173.9" r="1.45" fill="#a3a3a3"/>
<circle cx="94.9" cy="190.1" r="1.45" fill="#a3a3a3"/>
<circle cx="157.4" cy="180.0" r="1.45" fill="#a3a3a3"/>
<circle cx="298.6" cy="162.8" r="1.45" fill="#a3a3a3"/>
<circle cx="194.5" cy="174.2" r="1.45" fill="#a3a3a3"/>
<circle cx="154.5" cy="179.4" r="1.45" fill="#a3a3a3"/>
<circle cx="290.2" cy="167.1" r="1.45" fill="#a3a3a3"/>
<circle cx="276.9" cy="168.0" r="1.45" fill="#a3a3a3"/>
<circle cx="194.5" cy="174.4" r="1.45" fill="#a3a3a3"/>
<circle cx="286.4" cy="165.2" r="1.45" fill="#a3a3a3"/>
<circle cx="133.5" cy="183.9" r="1.45" fill="#a3a3a3"/>
<circle cx="131.1" cy="183.2" r="1.45" fill="#a3a3a3"/>
<circle cx="99.2" cy="195.0" r="1.45" fill="#a3a3a3"/>
<circle cx="251.6" cy="169.5" r="1.45" fill="#a3a3a3"/>
<circle cx="291.0" cy="164.7" r="1.45" fill="#a3a3a3"/>
<circle cx="248.8" cy="170.7" r="1.45" fill="#a3a3a3"/>
<circle cx="244.9" cy="167.7" r="1.45" fill="#a3a3a3"/>
<circle cx="188.3" cy="176.3" r="1.45" fill="#a3a3a3"/>
<circle cx="138.3" cy="184.4" r="1.45" fill="#a3a3a3"/>
<circle cx="248.2" cy="170.3" r="1.45" fill="#a3a3a3"/>
<circle cx="128.7" cy="187.8" r="1.45" fill="#a3a3a3"/>
<circle cx="237.8" cy="168.4" r="1.45" fill="#a3a3a3"/>
<circle cx="171.9" cy="175.7" r="1.45" fill="#a3a3a3"/>
<circle cx="287.4" cy="166.1" r="1.45" fill="#a3a3a3"/>
<circle cx="139.6" cy="184.0" r="1.45" fill="#a3a3a3"/>
<circle cx="297.0" cy="163.8" r="1.45" fill="#a3a3a3"/>
<circle cx="150.4" cy="180.9" r="1.45" fill="#a3a3a3"/>
<circle cx="108.2" cy="187.8" r="1.45" fill="#a3a3a3"/>
<circle cx="187.2" cy="173.5" r="1.45" fill="#a3a3a3"/>
<circle cx="207.7" cy="176.7" r="1.45" fill="#a3a3a3"/>
<circle cx="223.2" cy="171.4" r="1.45" fill="#a3a3a3"/>
<circle cx="144.5" cy="181.3" r="1.45" fill="#a3a3a3"/>
<circle cx="107.6" cy="192.4" r="1.45" fill="#a3a3a3"/>
<circle cx="258.4" cy="169.2" r="1.45" fill="#a3a3a3"/>
<circle cx="150.9" cy="181.1" r="1.45" fill="#a3a3a3"/>
<circle cx="129.9" cy="183.4" r="1.45" fill="#a3a3a3"/>
<circle cx="310.7" cy="164.8" r="1.45" fill="#a3a3a3"/>
<circle cx="192.0" cy="172.0" r="1.45" fill="#a3a3a3"/>
<circle cx="174.7" cy="174.3" r="1.45" fill="#a3a3a3"/>
<circle cx="200.7" cy="174.4" r="1.45" fill="#a3a3a3"/>
<circle cx="213.3" cy="171.3" r="1.45" fill="#a3a3a3"/>
<circle cx="169.0" cy="176.3" r="1.45" fill="#a3a3a3"/>
<circle cx="264.5" cy="167.9" r="1.45" fill="#a3a3a3"/>
<circle cx="202.0" cy="170.9" r="1.45" fill="#a3a3a3"/>
<circle cx="242.3" cy="169.0" r="1.45" fill="#a3a3a3"/>
<circle cx="302.6" cy="164.6" r="1.45" fill="#a3a3a3"/>
<circle cx="263.8" cy="169.1" r="1.45" fill="#a3a3a3"/>
<circle cx="225.1" cy="171.5" r="1.45" fill="#a3a3a3"/>
<circle cx="187.3" cy="172.5" r="1.45" fill="#a3a3a3"/>
<circle cx="265.3" cy="167.2" r="1.45" fill="#a3a3a3"/>
<circle cx="294.0" cy="161.5" r="1.45" fill="#a3a3a3"/>
<circle cx="293.6" cy="162.1" r="1.45" fill="#a3a3a3"/>
<circle cx="300.7" cy="158.9" r="1.45" fill="#a3a3a3"/>
<circle cx="303.2" cy="162.0" r="1.45" fill="#a3a3a3"/>
<circle cx="302.6" cy="162.6" r="1.45" fill="#a3a3a3"/>
<circle cx="292.6" cy="159.5" r="1.45" fill="#a3a3a3"/>
<circle cx="288.5" cy="161.9" r="1.45" fill="#a3a3a3"/>
<circle cx="299.1" cy="160.8" r="1.45" fill="#a3a3a3"/>
<circle cx="294.7" cy="163.2" r="1.45" fill="#a3a3a3"/>
<circle cx="289.8" cy="164.8" r="1.45" fill="#a3a3a3"/>
<circle cx="302.5" cy="161.3" r="1.45" fill="#a3a3a3"/>
<circle cx="308.2" cy="160.5" r="1.45" fill="#a3a3a3"/>
<circle cx="291.7" cy="160.6" r="1.45" fill="#a3a3a3"/>
<circle cx="289.1" cy="160.6" r="1.45" fill="#a3a3a3"/>
<circle cx="303.8" cy="161.3" r="1.45" fill="#a3a3a3"/>
<circle cx="294.8" cy="162.0" r="1.45" fill="#a3a3a3"/>
<circle cx="290.3" cy="164.1" r="1.45" fill="#a3a3a3"/>
<circle cx="292.4" cy="160.2" r="1.45" fill="#a3a3a3"/>
<circle cx="292.1" cy="163.0" r="1.45" fill="#a3a3a3"/>
<circle cx="309.2" cy="162.4" r="1.45" fill="#a3a3a3"/>
<circle cx="289.6" cy="161.3" r="1.45" fill="#a3a3a3"/>
<circle cx="297.3" cy="159.8" r="1.45" fill="#a3a3a3"/>
<circle cx="312.7" cy="161.3" r="1.45" fill="#a3a3a3"/>
<circle cx="300.5" cy="162.1" r="1.45" fill="#a3a3a3"/>
<circle cx="313.1" cy="161.5" r="1.45" fill="#a3a3a3"/>
<circle cx="299.6" cy="162.1" r="1.45" fill="#a3a3a3"/>
<circle cx="289.0" cy="160.1" r="1.45" fill="#a3a3a3"/>
<circle cx="310.7" cy="160.7" r="1.45" fill="#a3a3a3"/>
<circle cx="298.0" cy="160.1" r="1.45" fill="#a3a3a3"/>
<circle cx="298.8" cy="159.0" r="1.45" fill="#a3a3a3"/>
<circle cx="288.9" cy="165.5" r="1.45" fill="#a3a3a3"/>
<circle cx="307.5" cy="162.2" r="1.45" fill="#a3a3a3"/>
<circle cx="293.9" cy="160.1" r="1.45" fill="#a3a3a3"/>
<circle cx="302.1" cy="160.0" r="1.45" fill="#a3a3a3"/>
<circle cx="299.8" cy="162.9" r="1.45" fill="#a3a3a3"/>
<circle cx="297.3" cy="160.4" r="1.45" fill="#a3a3a3"/>
<circle cx="313.0" cy="161.6" r="1.45" fill="#a3a3a3"/>
<circle cx="289.0" cy="161.3" r="1.45" fill="#a3a3a3"/>
<circle cx="304.6" cy="159.5" r="1.45" fill="#a3a3a3"/>
<circle cx="296.8" cy="162.3" r="1.45" fill="#a3a3a3"/>
<circle cx="310.0" cy="161.8" r="1.45" fill="#a3a3a3"/>
<circle cx="310.6" cy="161.4" r="1.45" fill="#a3a3a3"/>
<circle cx="298.0" cy="162.9" r="1.45" fill="#a3a3a3"/>
<circle cx="297.7" cy="162.6" r="1.45" fill="#a3a3a3"/>
<circle cx="293.5" cy="160.7" r="1.45" fill="#a3a3a3"/>
<circle cx="292.7" cy="162.0" r="1.45" fill="#a3a3a3"/>
<circle cx="292.2" cy="159.8" r="1.45" fill="#a3a3a3"/>
<circle cx="293.5" cy="161.4" r="1.45" fill="#a3a3a3"/>
<circle cx="295.9" cy="161.1" r="1.45" fill="#a3a3a3"/>
<circle cx="313.3" cy="161.6" r="1.45" fill="#a3a3a3"/>
<circle cx="310.0" cy="160.6" r="1.45" fill="#a3a3a3"/>
<circle cx="297.8" cy="159.0" r="1.45" fill="#a3a3a3"/>
<circle cx="305.6" cy="160.8" r="1.45" fill="#a3a3a3"/>
<circle cx="295.0" cy="158.7" r="1.45" fill="#a3a3a3"/>
<circle cx="292.6" cy="160.2" r="1.45" fill="#a3a3a3"/>
<circle cx="298.0" cy="163.3" r="1.45" fill="#a3a3a3"/>
<circle cx="306.2" cy="160.5" r="1.45" fill="#a3a3a3"/>
<circle cx="297.2" cy="159.4" r="1.45" fill="#a3a3a3"/>
<circle cx="311.9" cy="161.4" r="1.45" fill="#a3a3a3"/>
<circle cx="307.5" cy="162.1" r="1.45" fill="#a3a3a3"/>
<circle cx="311.1" cy="160.6" r="1.45" fill="#a3a3a3"/>
<circle cx="296.2" cy="160.7" r="1.45" fill="#a3a3a3"/>
<circle cx="290.1" cy="164.6" r="1.45" fill="#a3a3a3"/>
<circle cx="296.3" cy="162.8" r="1.45" fill="#a3a3a3"/>
<circle cx="301.2" cy="159.1" r="1.45" fill="#a3a3a3"/>
<circle cx="298.0" cy="159.8" r="1.45" fill="#a3a3a3"/>
<circle cx="289.0" cy="159.5" r="1.45" fill="#a3a3a3"/>
<circle cx="303.2" cy="159.2" r="1.45" fill="#a3a3a3"/>
<circle cx="296.0" cy="160.9" r="1.45" fill="#a3a3a3"/>
<circle cx="301.9" cy="159.5" r="1.45" fill="#a3a3a3"/>
<circle cx="96.8" cy="105.6" r="1.5" fill="#a3a3a3"/>
<circle cx="94.4" cy="109.4" r="1.5" fill="#a3a3a3"/>
<circle cx="91.6" cy="113.7" r="1.5" fill="#a3a3a3"/>
<path d="M89.0,117.5 C88.2,118.8 85.7,122.8 84.0,125.5 C82.3,128.2 80.7,131.0 79.0,134.0 C77.3,137.0 74.9,142.0 74.1,143.6" fill="none" stroke="#a3a3a3" stroke-width="3.0" stroke-linecap="round"/>
<path d="M71.8,147.6 C71.6,148.2 70.9,150.7 70.7,151.3" fill="none" stroke="#a3a3a3" stroke-width="3.0" stroke-linecap="round"/>
<path d="M71.0,171.5 C71.7,172.7 73.5,175.8 75.0,178.5 C76.5,181.2 78.2,184.7 80.0,188.0 C81.8,191.3 84.0,195.1 86.0,198.5 C88.0,201.9 91.0,206.8 92.0,208.5" fill="none" stroke="#a3a3a3" stroke-width="3.0" stroke-linecap="round" stroke-dasharray="5 3 35 3"/>
<path d="M94.6,123.0 C94.1,123.7 92.9,125.6 91.6,127.4 C90.3,129.2 88.6,131.6 87.0,134.0 C85.4,136.4 83.4,139.3 82.0,142.0 C80.6,144.7 79.5,147.7 78.5,150.0 C77.5,152.3 76.8,154.1 76.3,156.0 C75.8,157.9 75.4,159.7 75.4,161.6 C75.4,163.5 75.7,165.4 76.3,167.6 C76.9,169.8 77.9,172.3 79.0,175.0 C80.1,177.7 81.5,181.2 83.0,184.0 C84.5,186.8 86.2,189.6 88.0,192.0 C89.8,194.4 92.6,197.4 93.5,198.5" fill="none" stroke="#a3a3a3" stroke-width="2.8" stroke-linecap="round"/>
<circle cx="97.0" cy="105.0" r="1.45" fill="#a3a3a3"/>
<circle cx="94.0" cy="109.6" r="1.45" fill="#a3a3a3"/>
<circle cx="102.4" cy="109.4" r="1.45" fill="#a3a3a3"/>
<circle cx="92.0" cy="113.6" r="1.45" fill="#a3a3a3"/>
<circle cx="98.0" cy="119.0" r="1.45" fill="#a3a3a3"/>
<circle cx="129.3" cy="112.4" r="1.45" fill="#a3a3a3"/>
<circle cx="182.2" cy="122.9" r="1.45" fill="#a3a3a3"/>
<circle cx="131.9" cy="126.5" r="1.45" fill="#a3a3a3"/>
<circle cx="137.3" cy="132.3" r="1.45" fill="#a3a3a3"/>
<circle cx="115.9" cy="123.5" r="1.45" fill="#a3a3a3"/>
<circle cx="216.7" cy="135.5" r="1.45" fill="#a3a3a3"/>
<circle cx="225.2" cy="134.3" r="1.45" fill="#a3a3a3"/>
<circle cx="238.6" cy="116.0" r="1.45" fill="#a3a3a3"/>
<circle cx="189.7" cy="136.9" r="1.45" fill="#a3a3a3"/>
<circle cx="190.7" cy="137.5" r="1.45" fill="#a3a3a3"/>
<circle cx="162.8" cy="137.5" r="1.45" fill="#a3a3a3"/>
<circle cx="172.8" cy="138.5" r="1.45" fill="#a3a3a3"/>
<circle cx="148.8" cy="136.9" r="1.45" fill="#a3a3a3"/>
<circle cx="155.8" cy="139.5" r="1.45" fill="#a3a3a3"/>
<circle cx="130.9" cy="133.9" r="1.45" fill="#a3a3a3"/>
<circle cx="211.7" cy="147.9" r="1.45" fill="#a3a3a3"/>
<circle cx="159.8" cy="196.7" r="1.45" fill="#a3a3a3"/>
<circle cx="161.9" cy="207.4" r="1.45" fill="#a3a3a3"/>
<circle cx="165.3" cy="212.7" r="1.45" fill="#a3a3a3"/>
<circle cx="139.6" cy="216.5" r="1.45" fill="#a3a3a3"/>
<circle cx="150.4" cy="238.8" r="1.45" fill="#a3a3a3"/>
<circle cx="134.5" cy="269.3" r="1.45" fill="#a3a3a3"/>
<circle cx="179.4" cy="200.6" r="1.45" fill="#a3a3a3"/>
<circle cx="189.0" cy="212.1" r="1.45" fill="#a3a3a3"/>
<circle cx="191.5" cy="228.2" r="1.45" fill="#a3a3a3"/>
<circle cx="192.7" cy="192.8" r="1.45" fill="#a3a3a3"/>
<circle cx="199.3" cy="190.8" r="1.45" fill="#a3a3a3"/>
<circle cx="187.3" cy="183.4" r="1.45" fill="#a3a3a3"/>
<circle cx="203.7" cy="182.8" r="1.45" fill="#a3a3a3"/>
<circle cx="213.7" cy="183.8" r="1.45" fill="#a3a3a3"/>
<circle cx="227.6" cy="181.8" r="1.45" fill="#a3a3a3"/>
<circle cx="110.2" cy="200.6" r="1.45" fill="#a3a3a3"/>
<circle cx="97.0" cy="203.7" r="1.45" fill="#a3a3a3"/>
<circle cx="92.4" cy="209.3" r="1.45" fill="#a3a3a3"/>
<circle cx="122.9" cy="192.8" r="1.45" fill="#a3a3a3"/>
<circle cx="136.9" cy="192.8" r="1.45" fill="#a3a3a3"/>
<circle cx="149.8" cy="189.8" r="1.45" fill="#a3a3a3"/>
<circle cx="272.5" cy="136.3" r="1.45" fill="#a3a3a3"/>
<circle cx="238.6" cy="143.7" r="1.45" fill="#a3a3a3"/>
<circle cx="239.0" cy="148.7" r="1.45" fill="#a3a3a3"/>
<circle cx="265.3" cy="142.7" r="1.45" fill="#a3a3a3"/>
<circle cx="293.0" cy="143.5" r="1.45" fill="#a3a3a3"/>
<circle cx="304.3" cy="148.9" r="1.45" fill="#a3a3a3"/>
<circle cx="321.1" cy="148.3" r="1.45" fill="#a3a3a3"/>
<circle cx="329.8" cy="147.6" r="1.45" fill="#a3a3a3"/>
<circle cx="343.7" cy="162.6" r="1.45" fill="#a3a3a3"/>
<circle cx="327.7" cy="162.0" r="1.45" fill="#a3a3a3"/>
<circle cx="324.8" cy="167.1" r="1.45" fill="#a3a3a3"/>
<circle cx="328.3" cy="166.7" r="1.45" fill="#a3a3a3"/>
<circle cx="316.4" cy="158.1" r="1.45" fill="#a3a3a3"/>
<circle cx="319.0" cy="165.7" r="1.45" fill="#a3a3a3"/>
<circle cx="244.8" cy="195.5" r="1.45" fill="#a3a3a3"/>
<circle cx="227.3" cy="181.7" r="1.45" fill="#a3a3a3"/>
<circle cx="252.8" cy="176.4" r="1.45" fill="#a3a3a3"/>
<circle cx="280.0" cy="172.9" r="1.45" fill="#a3a3a3"/>
<circle cx="265.4" cy="143.0" r="1.45" fill="#a3a3a3"/>
<circle cx="270.7" cy="144.2" r="1.45" fill="#a3a3a3"/>
<circle cx="273.0" cy="146.5" r="1.45" fill="#a3a3a3"/>
<circle cx="276.0" cy="148.0" r="1.45" fill="#a3a3a3"/>
<circle cx="280.0" cy="147.0" r="1.45" fill="#a3a3a3"/>
<circle cx="283.0" cy="149.0" r="1.45" fill="#a3a3a3"/>
<circle cx="285.0" cy="146.0" r="1.45" fill="#a3a3a3"/>
<circle cx="292.8" cy="143.6" r="1.45" fill="#a3a3a3"/>
<circle cx="289.2" cy="151.9" r="1.45" fill="#a3a3a3"/>
<circle cx="300.5" cy="154.9" r="1.45" fill="#a3a3a3"/>
<circle cx="311.3" cy="158.5" r="1.45" fill="#a3a3a3"/>
<circle cx="316.6" cy="161.5" r="1.45" fill="#a3a3a3"/>
<circle cx="311.3" cy="167.4" r="1.45" fill="#a3a3a3"/>
<circle cx="280.3" cy="173.4" r="1.45" fill="#a3a3a3"/>
<circle cx="262.4" cy="170.4" r="1.45" fill="#a3a3a3"/>
<circle cx="66.8" cy="161.6" r="1.45" fill="#a3a3a3"/>
<line x1="56.2" y1="161.65" x2="354.3" y2="161.65" stroke="#ff1414" stroke-opacity="0.62" stroke-width="2.8"/>
<circle cx="235.3" cy="191.2" r="2.1" fill="#0000ff"/>
<line x1="233.50" y1="192.50" x2="242.10" y2="204.70" stroke="#000" stroke-width="1.3"/>
<text x="243.4" y="213.7" font-size="14.4" text-anchor="start" font-weight="normal" font-style="italic" fill="#000">Pcsk9</text>
<rect x="55.60" y="32.60" width="299.30" height="258.30" fill="none" stroke="#000" stroke-width="1.2"/>
<line x1="49.10" y1="41.83" x2="55.60" y2="41.83" stroke="#000" stroke-width="1.1"/>
<text x="43.8" y="46.9" font-size="14.4" text-anchor="end" font-weight="normal" fill="#000">6</text>
<line x1="49.10" y1="81.77" x2="55.60" y2="81.77" stroke="#000" stroke-width="1.1"/>
<text x="43.8" y="86.9" font-size="14.4" text-anchor="end" font-weight="normal" fill="#000">4</text>
<line x1="49.10" y1="121.71" x2="55.60" y2="121.71" stroke="#000" stroke-width="1.1"/>
<text x="43.8" y="126.8" font-size="14.4" text-anchor="end" font-weight="normal" fill="#000">2</text>
<line x1="49.10" y1="161.65" x2="55.60" y2="161.65" stroke="#000" stroke-width="1.1"/>
<text x="43.8" y="166.8" font-size="14.4" text-anchor="end" font-weight="normal" fill="#000">0</text>
<line x1="49.10" y1="201.59" x2="55.60" y2="201.59" stroke="#000" stroke-width="1.1"/>
<text x="43.8" y="206.7" font-size="14.4" text-anchor="end" font-weight="normal" fill="#000">−2</text>
<line x1="49.10" y1="241.53" x2="55.60" y2="241.53" stroke="#000" stroke-width="1.1"/>
<text x="43.8" y="246.6" font-size="14.4" text-anchor="end" font-weight="normal" fill="#000">−4</text>
<line x1="49.10" y1="281.47" x2="55.60" y2="281.47" stroke="#000" stroke-width="1.1"/>
<text x="43.8" y="286.6" font-size="14.4" text-anchor="end" font-weight="normal" fill="#000">−6</text>
<line x1="67.80" y1="290.90" x2="67.80" y2="297.40" stroke="#000" stroke-width="1.1"/>
<text x="67.8" y="314.6" font-size="14.4" text-anchor="middle" font-weight="normal" fill="#000">1</text>
<line x1="169.60" y1="290.90" x2="169.60" y2="297.40" stroke="#000" stroke-width="1.1"/>
<text x="169.6" y="314.6" font-size="14.4" text-anchor="middle" font-weight="normal" fill="#000">100</text>
<line x1="271.40" y1="290.90" x2="271.40" y2="297.40" stroke="#000" stroke-width="1.1"/>
<text x="271.4" y="314.6" font-size="14.4" text-anchor="middle" font-weight="normal" fill="#000">10,000</text>
<text x="206.0" y="336.0" font-size="14.4" text-anchor="middle" font-weight="normal" fill="#000">Mean normalized RNA-seq signal</text>
<text transform="translate(11.8,160.9) rotate(-90)" font-size="14.4" text-anchor="middle">Log<tspan font-size="10.4" dy="4.6">2</tspan><tspan dy="-4.6">(fold change)</tspan></text>
<text x="379.4" y="15.5" font-size="20.6" text-anchor="start" font-weight="bold" fill="#000">b</text>
<text x="459.7" y="21.2" font-size="14.4" text-anchor="start" font-weight="normal" fill="#000">dSaCas9</text>
<text x="518.3" y="16.0" font-size="10.4" letter-spacing="0.7">KRAB</text>
<text x="553.8" y="21.2" font-size="14.4" text-anchor="start" font-weight="normal" fill="#000">+ gRNA vs dSaCas9</text>
<text x="686.7" y="16.0" font-size="10.4" letter-spacing="0.7">KRAB</text>
<text x="721.2" y="21.2" font-size="14.4" text-anchor="start" font-weight="normal" fill="#000">only</text>
<polygon points="588.8,39.9 584.5,44.8 584.4,44.9 584.3,45.0 584.1,45.1 584.0,45.1 575.6,49.3 575.2,51.4 575.1,51.6 575.1,51.7 575.0,51.9 574.9,52.0 574.8,52.2 574.7,52.3 569.2,57.3 570.1,60.9 570.1,61.1 570.1,61.2 570.1,61.4 570.1,61.6 570.0,61.7 570.0,61.9 569.9,62.0 569.9,62.2 569.8,62.3 569.7,62.4 569.5,62.5 569.4,62.6 569.3,62.7 569.1,62.8 562.4,65.6 558.6,67.9 560.0,69.4 560.0,69.5 560.1,69.6 560.2,69.7 560.3,69.9 560.3,70.0 560.4,70.2 560.4,70.3 561.0,75.4 561.0,75.6 561.0,75.7 561.0,75.9 560.9,76.0 560.9,76.1 560.8,76.3 560.8,76.4 557.6,81.8 557.1,86.4 562.2,91.6 562.3,91.7 562.4,91.8 562.5,91.9 562.6,92.1 562.6,92.2 562.7,92.4 562.7,92.6 562.7,92.7 562.7,92.9 562.7,93.0 562.6,93.2 562.6,93.3 562.5,93.5 562.4,93.6 562.3,93.7 562.2,93.8 562.1,93.9 562.0,94.0 561.8,94.1 561.7,94.2 561.5,94.2 552.2,96.9 550.5,98.4 554.9,100.1 562.4,98.0 562.5,97.9 562.7,97.9 562.8,97.9 563.0,97.9 563.1,97.9 563.3,98.0 563.4,98.0 570.0,100.8 583.7,101.3 587.5,96.5 589.1,89.0 589.1,88.9 592.0,77.5 592.1,77.4 595.5,66.1 598.3,55.8 598.3,55.6 598.4,55.5 601.6,48.9 601.6,48.8 601.7,48.6 601.8,48.5 601.9,48.4 602.1,48.3 602.2,48.2 602.3,48.2 602.5,48.1 602.6,48.0 602.8,48.0 602.9,48.0 603.1,48.0 603.2,48.0 603.4,48.0 603.5,48.1 603.7,48.1 603.8,48.2 603.9,48.3 604.1,48.4 604.2,48.5 604.3,48.6 604.4,48.8 604.4,48.9 604.5,49.0 608.7,60.2 608.7,60.4 612.2,72.9 612.2,72.9 615.6,85.4 615.7,85.4 618.7,98.0 618.7,98.2 619.8,109.5 620.9,114.4 624.1,115.8 626.9,114.9 630.2,106.1 630.3,106.0 630.3,105.9 630.4,105.7 630.5,105.6 630.6,105.5 630.8,105.4 630.9,105.3 631.0,105.2 631.2,105.2 631.3,105.1 631.5,105.1 631.6,105.1 631.8,105.1 631.9,105.1 632.1,105.1 632.2,105.2 632.4,105.3 632.5,105.3 632.6,105.4 632.8,105.5 632.9,105.6 633.0,105.7 633.1,105.9 636.6,111.7 640.1,116.2 644.6,111.8 646.6,103.6 639.9,97.3 639.8,97.1 639.7,97.0 639.6,96.9 639.5,96.7 639.5,96.6 639.4,96.4 639.4,96.3 639.4,96.1 639.4,96.0 639.4,95.8 639.5,95.7 639.5,95.5 641.8,89.8 644.1,84.1 644.2,84.0 644.2,83.9 644.3,83.7 647.4,79.6 647.4,75.8 644.6,73.4 644.5,73.3 644.3,73.2 644.2,73.1 644.2,72.9 644.1,72.7 641.2,64.7 641.1,64.6 641.1,64.4 641.1,64.2 641.1,64.1 641.6,58.9 632.9,58.4 632.7,58.4 632.6,58.3 632.4,58.3 632.3,58.2 632.2,58.2 632.0,58.1 631.9,58.0 631.8,57.8 631.7,57.7 631.6,57.6 631.5,57.4 631.5,57.3 631.4,57.1 630.4,52.4 625.2,45.5 618.7,42.2 608.7,37.9 597.2,37.3" fill="#acacac"/>
<circle cx="589.3" cy="40.7" r="2.75" fill="#acacac"/>
<circle cx="587.0" cy="43.6" r="2.75" fill="#acacac"/>
<circle cx="583.2" cy="46.1" r="2.75" fill="#acacac"/>
<circle cx="580.0" cy="48.3" r="2.75" fill="#acacac"/>
<circle cx="577.2" cy="49.1" r="2.75" fill="#acacac"/>
<circle cx="575.7" cy="51.7" r="2.75" fill="#acacac"/>
<circle cx="573.3" cy="54.7" r="2.75" fill="#acacac"/>
<circle cx="570.4" cy="57.2" r="2.75" fill="#acacac"/>
<circle cx="570.5" cy="59.3" r="2.75" fill="#acacac"/>
<circle cx="570.9" cy="62.1" r="2.75" fill="#acacac"/>
<circle cx="568.4" cy="64.3" r="2.75" fill="#acacac"/>
<circle cx="565.5" cy="65.3" r="2.75" fill="#acacac"/>
<circle cx="561.5" cy="67.2" r="2.75" fill="#acacac"/>
<circle cx="561.0" cy="69.4" r="2.75" fill="#acacac"/>
<circle cx="561.2" cy="71.9" r="2.75" fill="#acacac"/>
<circle cx="561.3" cy="75.0" r="2.75" fill="#acacac"/>
<circle cx="560.0" cy="78.6" r="2.75" fill="#acacac"/>
<circle cx="558.5" cy="81.5" r="2.75" fill="#acacac"/>
<circle cx="557.8" cy="84.6" r="2.75" fill="#acacac"/>
<circle cx="559.0" cy="88.1" r="2.75" fill="#acacac"/>
<circle cx="561.6" cy="90.0" r="2.75" fill="#acacac"/>
<circle cx="563.5" cy="91.7" r="2.75" fill="#acacac"/>
<circle cx="561.6" cy="94.5" r="2.75" fill="#acacac"/>
<circle cx="559.4" cy="95.4" r="2.75" fill="#acacac"/>
<circle cx="555.7" cy="97.1" r="2.75" fill="#acacac"/>
<circle cx="552.1" cy="97.8" r="2.75" fill="#acacac"/>
<circle cx="554.6" cy="99.6" r="2.75" fill="#acacac"/>
<circle cx="558.9" cy="97.9" r="2.75" fill="#acacac"/>
<circle cx="562.3" cy="97.1" r="2.75" fill="#acacac"/>
<circle cx="566.4" cy="98.3" r="2.75" fill="#acacac"/>
<circle cx="569.8" cy="99.8" r="2.75" fill="#acacac"/>
<circle cx="572.8" cy="99.9" r="2.75" fill="#acacac"/>
<circle cx="576.2" cy="100.7" r="2.75" fill="#acacac"/>
<circle cx="578.7" cy="100.8" r="2.75" fill="#acacac"/>
<circle cx="582.5" cy="100.3" r="2.75" fill="#acacac"/>
<circle cx="585.4" cy="98.3" r="2.75" fill="#acacac"/>
<circle cx="586.6" cy="95.9" r="2.75" fill="#acacac"/>
<circle cx="587.6" cy="93.0" r="2.75" fill="#acacac"/>
<circle cx="588.4" cy="90.2" r="2.75" fill="#acacac"/>
<circle cx="589.3" cy="85.9" r="2.75" fill="#acacac"/>
<circle cx="589.7" cy="83.2" r="2.75" fill="#acacac"/>
<circle cx="590.7" cy="80.2" r="2.75" fill="#acacac"/>
<circle cx="592.2" cy="76.0" r="2.75" fill="#acacac"/>
<circle cx="592.9" cy="72.6" r="2.75" fill="#acacac"/>
<circle cx="593.6" cy="69.3" r="2.75" fill="#acacac"/>
<circle cx="595.0" cy="66.8" r="2.75" fill="#acacac"/>
<circle cx="595.6" cy="62.7" r="2.75" fill="#acacac"/>
<circle cx="596.2" cy="60.2" r="2.75" fill="#acacac"/>
<circle cx="597.3" cy="56.4" r="2.75" fill="#acacac"/>
<circle cx="599.1" cy="52.7" r="2.75" fill="#acacac"/>
<circle cx="600.6" cy="49.3" r="2.75" fill="#acacac"/>
<circle cx="603.0" cy="47.5" r="2.75" fill="#acacac"/>
<circle cx="605.3" cy="50.1" r="2.75" fill="#acacac"/>
<circle cx="606.9" cy="52.8" r="2.75" fill="#acacac"/>
<circle cx="607.9" cy="56.7" r="2.75" fill="#acacac"/>
<circle cx="609.5" cy="59.9" r="2.75" fill="#acacac"/>
<circle cx="610.2" cy="63.7" r="2.75" fill="#acacac"/>
<circle cx="611.7" cy="67.1" r="2.75" fill="#acacac"/>
<circle cx="612.8" cy="71.2" r="2.75" fill="#acacac"/>
<circle cx="613.9" cy="75.1" r="2.75" fill="#acacac"/>
<circle cx="614.2" cy="78.8" r="2.75" fill="#acacac"/>
<circle cx="615.6" cy="82.6" r="2.75" fill="#acacac"/>
<circle cx="616.7" cy="85.9" r="2.75" fill="#acacac"/>
<circle cx="617.5" cy="90.1" r="2.75" fill="#acacac"/>
<circle cx="618.3" cy="93.5" r="2.75" fill="#acacac"/>
<circle cx="619.3" cy="96.5" r="2.75" fill="#acacac"/>
<circle cx="619.5" cy="99.9" r="2.75" fill="#acacac"/>
<circle cx="620.0" cy="103.0" r="2.75" fill="#acacac"/>
<circle cx="620.1" cy="105.5" r="2.75" fill="#acacac"/>
<circle cx="620.1" cy="108.5" r="2.75" fill="#acacac"/>
<circle cx="620.7" cy="111.2" r="2.75" fill="#acacac"/>
<circle cx="622.4" cy="114.4" r="2.75" fill="#acacac"/>
<circle cx="625.7" cy="114.8" r="2.75" fill="#acacac"/>
<circle cx="627.1" cy="112.0" r="2.75" fill="#acacac"/>
<circle cx="628.1" cy="109.3" r="2.75" fill="#acacac"/>
<circle cx="629.2" cy="106.0" r="2.75" fill="#acacac"/>
<circle cx="631.9" cy="104.3" r="2.75" fill="#acacac"/>
<circle cx="634.8" cy="107.0" r="2.75" fill="#acacac"/>
<circle cx="636.4" cy="109.7" r="2.75" fill="#acacac"/>
<circle cx="637.7" cy="112.4" r="2.75" fill="#acacac"/>
<circle cx="640.6" cy="115.5" r="2.75" fill="#acacac"/>
<circle cx="642.7" cy="112.8" r="2.75" fill="#acacac"/>
<circle cx="643.9" cy="110.3" r="2.75" fill="#acacac"/>
<circle cx="644.8" cy="106.8" r="2.75" fill="#acacac"/>
<circle cx="644.9" cy="103.0" r="2.75" fill="#acacac"/>
<circle cx="642.6" cy="101.3" r="2.75" fill="#acacac"/>
<circle cx="640.7" cy="99.0" r="2.75" fill="#acacac"/>
<circle cx="638.6" cy="96.0" r="2.75" fill="#acacac"/>
<circle cx="640.0" cy="92.2" r="2.75" fill="#acacac"/>
<circle cx="641.6" cy="88.3" r="2.75" fill="#acacac"/>
<circle cx="642.6" cy="85.4" r="2.75" fill="#acacac"/>
<circle cx="644.4" cy="82.5" r="2.75" fill="#acacac"/>
<circle cx="646.3" cy="79.1" r="2.75" fill="#acacac"/>
<circle cx="646.9" cy="76.2" r="2.75" fill="#acacac"/>
<circle cx="643.9" cy="73.7" r="2.75" fill="#acacac"/>
<circle cx="642.2" cy="70.2" r="2.75" fill="#acacac"/>
<circle cx="641.3" cy="67.0" r="2.75" fill="#acacac"/>
<circle cx="640.2" cy="63.4" r="2.75" fill="#acacac"/>
<circle cx="640.8" cy="59.9" r="2.75" fill="#acacac"/>
<circle cx="638.0" cy="59.4" r="2.75" fill="#acacac"/>
<circle cx="634.9" cy="59.3" r="2.75" fill="#acacac"/>
<circle cx="631.7" cy="58.8" r="2.75" fill="#acacac"/>
<circle cx="630.6" cy="55.3" r="2.75" fill="#acacac"/>
<circle cx="629.9" cy="52.5" r="2.75" fill="#acacac"/>
<circle cx="627.6" cy="49.8" r="2.75" fill="#acacac"/>
<circle cx="625.7" cy="46.8" r="2.75" fill="#acacac"/>
<circle cx="623.0" cy="44.8" r="2.75" fill="#acacac"/>
<circle cx="620.1" cy="43.2" r="2.75" fill="#acacac"/>
<circle cx="616.3" cy="41.9" r="2.75" fill="#acacac"/>
<circle cx="613.5" cy="41.0" r="2.75" fill="#acacac"/>
<circle cx="610.5" cy="39.5" r="2.75" fill="#acacac"/>
<circle cx="607.1" cy="38.2" r="2.75" fill="#acacac"/>
<circle cx="603.8" cy="38.0" r="2.75" fill="#acacac"/>
<circle cx="600.7" cy="38.4" r="2.75" fill="#acacac"/>
<circle cx="596.4" cy="38.4" r="2.75" fill="#acacac"/>
<circle cx="593.2" cy="39.6" r="2.75" fill="#acacac"/>
<circle cx="590.3" cy="40.0" r="2.75" fill="#acacac"/>
<circle cx="477.2" cy="79.8" r="2.75" fill="#acacac"/>
<circle cx="512.3" cy="69.2" r="2.75" fill="#acacac"/>
<circle cx="524.5" cy="64.6" r="2.75" fill="#acacac"/>
<circle cx="542.7" cy="59.9" r="2.75" fill="#acacac"/>
<circle cx="543.7" cy="74.2" r="2.75" fill="#acacac"/>
<circle cx="543.2" cy="60.2" r="2.75" fill="#acacac"/>
<circle cx="543.8" cy="74.4" r="2.75" fill="#acacac"/>
<circle cx="550.8" cy="108.1" r="2.75" fill="#acacac"/>
<circle cx="564.5" cy="105.8" r="2.75" fill="#acacac"/>
<circle cx="574.2" cy="107.5" r="2.75" fill="#acacac"/>
<circle cx="568.0" cy="108.0" r="2.75" fill="#acacac"/>
<circle cx="556.0" cy="104.5" r="2.75" fill="#acacac"/>
<circle cx="550.4" cy="108.6" r="2.75" fill="#acacac"/>
<circle cx="553.0" cy="120.2" r="2.75" fill="#acacac"/>
<circle cx="546.0" cy="132.1" r="2.75" fill="#acacac"/>
<circle cx="538.4" cy="140.0" r="2.75" fill="#acacac"/>
<circle cx="558.3" cy="135.1" r="2.75" fill="#acacac"/>
<circle cx="562.6" cy="120.2" r="2.75" fill="#acacac"/>
<circle cx="565.9" cy="123.5" r="2.75" fill="#acacac"/>
<circle cx="565.9" cy="141.7" r="2.75" fill="#acacac"/>
<circle cx="572.5" cy="137.1" r="2.75" fill="#acacac"/>
<circle cx="580.8" cy="135.4" r="2.75" fill="#acacac"/>
<circle cx="580.2" cy="140.0" r="2.75" fill="#acacac"/>
<circle cx="575.9" cy="146.7" r="2.75" fill="#acacac"/>
<circle cx="563.6" cy="158.6" r="2.75" fill="#acacac"/>
<circle cx="568.6" cy="156.6" r="2.75" fill="#acacac"/>
<circle cx="636.5" cy="164.2" r="2.75" fill="#acacac"/>
<circle cx="663.6" cy="156.0" r="2.75" fill="#acacac"/>
<circle cx="643.7" cy="138.4" r="2.75" fill="#acacac"/>
<circle cx="668.6" cy="130.5" r="2.75" fill="#acacac"/>
<circle cx="656.0" cy="129.5" r="2.75" fill="#acacac"/>
<circle cx="652.7" cy="125.2" r="2.75" fill="#acacac"/>
<circle cx="659.3" cy="120.2" r="2.75" fill="#acacac"/>
<circle cx="648.0" cy="118.9" r="2.75" fill="#acacac"/>
<circle cx="658.0" cy="111.3" r="2.75" fill="#acacac"/>
<circle cx="663.6" cy="94.0" r="2.75" fill="#acacac"/>
<circle cx="624.5" cy="131.1" r="2.75" fill="#acacac"/>
<circle cx="628.8" cy="132.1" r="2.75" fill="#acacac"/>
<circle cx="623.9" cy="122.2" r="2.75" fill="#acacac"/>
<circle cx="632.2" cy="122.2" r="2.75" fill="#acacac"/>
<circle cx="638.8" cy="117.9" r="2.75" fill="#acacac"/>
<circle cx="647.0" cy="112.9" r="2.75" fill="#acacac"/>
<circle cx="653.7" cy="101.3" r="2.75" fill="#acacac"/>
<circle cx="657.6" cy="103.0" r="2.75" fill="#acacac"/>
<circle cx="653.7" cy="88.1" r="2.75" fill="#acacac"/>
<circle cx="650.4" cy="93.0" r="2.75" fill="#acacac"/>
<circle cx="643.7" cy="57.3" r="2.75" fill="#acacac"/>
<circle cx="654.1" cy="87.0" r="2.75" fill="#acacac"/>
<circle cx="650.1" cy="89.3" r="2.75" fill="#acacac"/>
<circle cx="663.8" cy="94.7" r="2.75" fill="#acacac"/>
<circle cx="653.6" cy="100.7" r="2.75" fill="#acacac"/>
<circle cx="658.1" cy="102.9" r="2.75" fill="#acacac"/>
<circle cx="647.9" cy="93.2" r="2.75" fill="#acacac"/>
<circle cx="646.7" cy="102.9" r="2.75" fill="#acacac"/>
<circle cx="624.0" cy="122.8" r="2.75" fill="#acacac"/>
<circle cx="632.3" cy="122.0" r="2.75" fill="#acacac"/>
<circle cx="624.0" cy="131.1" r="2.75" fill="#acacac"/>
<circle cx="628.7" cy="132.0" r="2.75" fill="#acacac"/>
<circle cx="644.2" cy="138.3" r="2.75" fill="#acacac"/>
<circle cx="648.2" cy="118.8" r="2.75" fill="#acacac"/>
<circle cx="652.8" cy="124.8" r="2.75" fill="#acacac"/>
<circle cx="656.1" cy="130.2" r="2.75" fill="#acacac"/>
<circle cx="659.5" cy="120.2" r="2.75" fill="#acacac"/>
<circle cx="658.2" cy="111.5" r="2.75" fill="#acacac"/>
<circle cx="658.2" cy="103.3" r="2.75" fill="#acacac"/>
<circle cx="654.0" cy="100.5" r="2.75" fill="#acacac"/>
<circle cx="668.4" cy="130.8" r="2.75" fill="#acacac"/>
<circle cx="637.7" cy="117.4" r="2.75" fill="#acacac"/>
<circle cx="640.0" cy="119.2" r="2.75" fill="#acacac"/>
<circle cx="565.9" cy="106.8" r="2.75" fill="#acacac"/>
<circle cx="570.9" cy="109.5" r="2.75" fill="#acacac"/>
<circle cx="574.9" cy="115.4" r="2.75" fill="#acacac"/>
<circle cx="582.5" cy="112.8" r="2.75" fill="#acacac"/>
<circle cx="578.2" cy="116.8" r="2.75" fill="#acacac"/>
<circle cx="552.7" cy="97.9" r="2.75" fill="#acacac"/>
<circle cx="549.4" cy="100.2" r="2.75" fill="#acacac"/>
<circle cx="556.0" cy="99.5" r="2.75" fill="#acacac"/>
<circle cx="622.2" cy="115.4" r="2.75" fill="#acacac"/>
<circle cx="628.8" cy="116.8" r="2.75" fill="#acacac"/>
<circle cx="637.1" cy="117.7" r="2.75" fill="#acacac"/>
<circle cx="640.4" cy="119.4" r="2.75" fill="#acacac"/>
<circle cx="635.5" cy="109.5" r="2.75" fill="#acacac"/>
<circle cx="645.4" cy="112.8" r="2.75" fill="#acacac"/>
<circle cx="650.4" cy="91.3" r="2.75" fill="#acacac"/>
<circle cx="650.4" cy="99.5" r="2.75" fill="#acacac"/>
<circle cx="647.0" cy="88.0" r="2.75" fill="#acacac"/>
<circle cx="643.7" cy="58.1" r="2.75" fill="#acacac"/>
<circle cx="627.2" cy="44.9" r="2.75" fill="#acacac"/>
<circle cx="554.3" cy="66.4" r="2.75" fill="#acacac"/>
<circle cx="557.6" cy="76.4" r="2.75" fill="#acacac"/>
<circle cx="556.0" cy="84.6" r="2.75" fill="#acacac"/>
<circle cx="560.3" cy="89.6" r="2.75" fill="#acacac"/>
<circle cx="564.3" cy="58.1" r="2.75" fill="#acacac"/>
<circle cx="567.6" cy="54.8" r="2.75" fill="#acacac"/>
<circle cx="568.6" cy="244.4" r="2.75" fill="#acacac"/>
<circle cx="660.8" cy="287.4" r="2.75" fill="#acacac"/>
<circle cx="567.6" cy="149.3" r="2.9" fill="#0000ff"/>
<line x1="567.60" y1="149.30" x2="575.20" y2="159.30" stroke="#000" stroke-width="1.3"/>
<text x="580.5" y="172.6" font-size="14.4" text-anchor="start" font-weight="normal" font-style="italic" fill="#000">Pcsk9</text>
<rect x="451.70" y="28.80" width="302.60" height="262.10" fill="none" stroke="#000" stroke-width="1.2"/>
<line x1="445.20" y1="86.50" x2="451.70" y2="86.50" stroke="#000" stroke-width="1.1"/>
<text x="438.2" y="91.6" font-size="14.4" text-anchor="end" font-weight="normal" fill="#000">1e-01</text>
<line x1="445.20" y1="184.30" x2="451.70" y2="184.30" stroke="#000" stroke-width="1.1"/>
<text x="438.2" y="189.4" font-size="14.4" text-anchor="end" font-weight="normal" fill="#000">1e-03</text>
<line x1="445.20" y1="282.10" x2="451.70" y2="282.10" stroke="#000" stroke-width="1.1"/>
<text x="438.2" y="287.2" font-size="14.4" text-anchor="end" font-weight="normal" fill="#000">1e-05</text>
<line x1="462.18" y1="290.90" x2="462.18" y2="297.40" stroke="#000" stroke-width="1.1"/>
<text x="462.2" y="314.6" font-size="14.4" text-anchor="middle" font-weight="normal" fill="#000">−6</text>
<line x1="508.92" y1="290.90" x2="508.92" y2="297.40" stroke="#000" stroke-width="1.1"/>
<text x="508.9" y="314.6" font-size="14.4" text-anchor="middle" font-weight="normal" fill="#000">−4</text>
<line x1="555.66" y1="290.90" x2="555.66" y2="297.40" stroke="#000" stroke-width="1.1"/>
<text x="555.7" y="314.6" font-size="14.4" text-anchor="middle" font-weight="normal" fill="#000">−2</text>
<line x1="602.40" y1="290.90" x2="602.40" y2="297.40" stroke="#000" stroke-width="1.1"/>
<text x="602.4" y="314.6" font-size="14.4" text-anchor="middle" font-weight="normal" fill="#000">0</text>
<line x1="649.14" y1="290.90" x2="649.14" y2="297.40" stroke="#000" stroke-width="1.1"/>
<text x="649.1" y="314.6" font-size="14.4" text-anchor="middle" font-weight="normal" fill="#000">2</text>
<line x1="695.88" y1="290.90" x2="695.88" y2="297.40" stroke="#000" stroke-width="1.1"/>
<text x="695.9" y="314.6" font-size="14.4" text-anchor="middle" font-weight="normal" fill="#000">4</text>
<line x1="742.62" y1="290.90" x2="742.62" y2="297.40" stroke="#000" stroke-width="1.1"/>
<text x="742.6" y="314.6" font-size="14.4" text-anchor="middle" font-weight="normal" fill="#000">6</text>
<text x="603" y="336" font-size="14.4" text-anchor="middle">Log<tspan font-size="10.4" dy="4.6">2</tspan><tspan dy="-4.6">(fold change)</tspan></text>
<text transform="translate(392,159.5) rotate(-90)" font-size="14.4" text-anchor="middle"><tspan font-style="italic">p</tspan>-value</text>
<text x="-0.8" y="379.4" font-size="20.6" text-anchor="start" font-weight="bold" fill="#000">c</text>
<text x="106.9" y="388.1" font-size="14.4" text-anchor="start" font-weight="normal" fill="#000">dSaCas9</text>
<text x="165.5" y="382.9" font-size="10.4" letter-spacing="0.7">KRAB</text>
<text x="200.7" y="388.1" font-size="14.4" text-anchor="start" font-weight="normal" fill="#000">+ gRNA vs PBS</text>
<polygon points="104.5,483.5 108.0,486.6 115.0,487.9 121.5,489.2 128.0,491.9 135.0,493.9 148.0,495.2 161.0,497.2 174.5,499.2 188.0,499.8 203.0,508.6 216.5,508.6 230.0,510.5 243.0,513.9 256.0,517.8 269.5,521.1 280.0,522.5 282.0,523.3 292.0,526.5 282.0,538.0 280.0,538.0 269.5,536.5 256.0,537.7 243.0,539.0 230.0,539.7 216.5,540.3 203.0,540.3 190.0,540.3 173.0,546.5 159.5,547.5 146.0,546.5 133.0,546.5 120.0,546.5 113.0,546.5 106.5,548.5 100.0,549.2 94.5,551.5 92.0,551.0 87.1,545.0 82.6,536.0 80.2,531.0 79.6,526.5 80.1,522.0 82.2,516.5 89.0,502.8 97.0,489.2" fill="#a3a3a3"/>
<circle cx="297.3" cy="528.0" r="1.45" fill="#a3a3a3"/>
<circle cx="290.6" cy="524.8" r="1.45" fill="#a3a3a3"/>
<circle cx="227.9" cy="509.2" r="1.45" fill="#a3a3a3"/>
<circle cx="215.0" cy="505.9" r="1.45" fill="#a3a3a3"/>
<circle cx="144.5" cy="491.6" r="1.45" fill="#a3a3a3"/>
<circle cx="150.6" cy="492.3" r="1.45" fill="#a3a3a3"/>
<circle cx="109.7" cy="480.8" r="1.45" fill="#a3a3a3"/>
<circle cx="252.5" cy="515.1" r="1.45" fill="#a3a3a3"/>
<circle cx="211.4" cy="508.6" r="1.45" fill="#a3a3a3"/>
<circle cx="179.4" cy="493.9" r="1.45" fill="#a3a3a3"/>
<circle cx="267.8" cy="519.9" r="1.45" fill="#a3a3a3"/>
<circle cx="241.7" cy="513.5" r="1.45" fill="#a3a3a3"/>
<circle cx="306.9" cy="526.8" r="1.45" fill="#a3a3a3"/>
<circle cx="262.9" cy="517.4" r="1.45" fill="#a3a3a3"/>
<circle cx="223.8" cy="509.4" r="1.45" fill="#a3a3a3"/>
<circle cx="170.1" cy="491.9" r="1.45" fill="#a3a3a3"/>
<circle cx="203.3" cy="508.5" r="1.45" fill="#a3a3a3"/>
<circle cx="227.6" cy="509.2" r="1.45" fill="#a3a3a3"/>
<circle cx="238.4" cy="511.0" r="1.45" fill="#a3a3a3"/>
<circle cx="141.7" cy="490.3" r="1.45" fill="#a3a3a3"/>
<circle cx="274.6" cy="519.5" r="1.45" fill="#a3a3a3"/>
<circle cx="128.3" cy="483.3" r="1.45" fill="#a3a3a3"/>
<circle cx="112.6" cy="483.0" r="1.45" fill="#a3a3a3"/>
<circle cx="223.9" cy="509.9" r="1.45" fill="#a3a3a3"/>
<circle cx="173.5" cy="496.1" r="1.45" fill="#a3a3a3"/>
<circle cx="164.6" cy="493.1" r="1.45" fill="#a3a3a3"/>
<circle cx="266.6" cy="519.4" r="1.45" fill="#a3a3a3"/>
<circle cx="158.4" cy="488.7" r="1.45" fill="#a3a3a3"/>
<circle cx="267.9" cy="520.4" r="1.45" fill="#a3a3a3"/>
<circle cx="277.3" cy="520.3" r="1.45" fill="#a3a3a3"/>
<circle cx="218.2" cy="509.4" r="1.45" fill="#a3a3a3"/>
<circle cx="228.1" cy="510.9" r="1.45" fill="#a3a3a3"/>
<circle cx="139.4" cy="495.0" r="1.45" fill="#a3a3a3"/>
<circle cx="116.2" cy="484.6" r="1.45" fill="#a3a3a3"/>
<circle cx="109.4" cy="486.7" r="1.45" fill="#a3a3a3"/>
<circle cx="247.8" cy="516.1" r="1.45" fill="#a3a3a3"/>
<circle cx="272.3" cy="522.1" r="1.45" fill="#a3a3a3"/>
<circle cx="216.8" cy="509.4" r="1.45" fill="#a3a3a3"/>
<circle cx="260.7" cy="516.7" r="1.45" fill="#a3a3a3"/>
<circle cx="307.7" cy="526.8" r="1.45" fill="#a3a3a3"/>
<circle cx="144.8" cy="486.9" r="1.45" fill="#a3a3a3"/>
<circle cx="201.7" cy="504.8" r="1.45" fill="#a3a3a3"/>
<circle cx="299.2" cy="528.1" r="1.45" fill="#a3a3a3"/>
<circle cx="149.5" cy="487.6" r="1.45" fill="#a3a3a3"/>
<circle cx="214.8" cy="506.2" r="1.45" fill="#a3a3a3"/>
<circle cx="217.9" cy="509.1" r="1.45" fill="#a3a3a3"/>
<circle cx="157.3" cy="492.8" r="1.45" fill="#a3a3a3"/>
<circle cx="292.3" cy="526.4" r="1.45" fill="#a3a3a3"/>
<circle cx="176.0" cy="499.6" r="1.45" fill="#a3a3a3"/>
<circle cx="274.2" cy="522.2" r="1.45" fill="#a3a3a3"/>
<circle cx="247.9" cy="514.2" r="1.45" fill="#a3a3a3"/>
<circle cx="249.0" cy="516.0" r="1.45" fill="#a3a3a3"/>
<circle cx="237.8" cy="511.0" r="1.45" fill="#a3a3a3"/>
<circle cx="166.1" cy="494.5" r="1.45" fill="#a3a3a3"/>
<circle cx="265.4" cy="519.1" r="1.45" fill="#a3a3a3"/>
<circle cx="219.2" cy="509.3" r="1.45" fill="#a3a3a3"/>
<circle cx="127.1" cy="489.5" r="1.45" fill="#a3a3a3"/>
<circle cx="173.8" cy="497.5" r="1.45" fill="#a3a3a3"/>
<circle cx="278.7" cy="520.7" r="1.45" fill="#a3a3a3"/>
<circle cx="302.9" cy="526.1" r="1.45" fill="#a3a3a3"/>
<circle cx="221.7" cy="508.7" r="1.45" fill="#a3a3a3"/>
<circle cx="153.5" cy="493.6" r="1.45" fill="#a3a3a3"/>
<circle cx="202.6" cy="507.1" r="1.45" fill="#a3a3a3"/>
<circle cx="254.3" cy="511.1" r="1.45" fill="#a3a3a3"/>
<circle cx="183.1" cy="499.5" r="1.45" fill="#a3a3a3"/>
<circle cx="134.1" cy="493.7" r="1.45" fill="#a3a3a3"/>
<circle cx="146.9" cy="493.7" r="1.45" fill="#a3a3a3"/>
<circle cx="140.6" cy="491.5" r="1.45" fill="#a3a3a3"/>
<circle cx="192.6" cy="494.4" r="1.45" fill="#a3a3a3"/>
<circle cx="250.4" cy="515.0" r="1.45" fill="#a3a3a3"/>
<circle cx="248.2" cy="514.8" r="1.45" fill="#a3a3a3"/>
<circle cx="220.4" cy="508.5" r="1.45" fill="#a3a3a3"/>
<circle cx="166.6" cy="498.2" r="1.45" fill="#a3a3a3"/>
<circle cx="122.5" cy="489.6" r="1.45" fill="#a3a3a3"/>
<circle cx="284.5" cy="524.0" r="1.45" fill="#a3a3a3"/>
<circle cx="266.5" cy="519.9" r="1.45" fill="#a3a3a3"/>
<circle cx="230.7" cy="509.1" r="1.45" fill="#a3a3a3"/>
<circle cx="171.1" cy="495.3" r="1.45" fill="#a3a3a3"/>
<circle cx="167.5" cy="498.7" r="1.45" fill="#a3a3a3"/>
<circle cx="175.7" cy="496.7" r="1.45" fill="#a3a3a3"/>
<circle cx="192.0" cy="501.7" r="1.45" fill="#a3a3a3"/>
<circle cx="204.1" cy="507.9" r="1.45" fill="#a3a3a3"/>
<circle cx="157.8" cy="491.3" r="1.45" fill="#a3a3a3"/>
<circle cx="123.1" cy="483.7" r="1.45" fill="#a3a3a3"/>
<circle cx="159.5" cy="496.8" r="1.45" fill="#a3a3a3"/>
<circle cx="209.3" cy="505.6" r="1.45" fill="#a3a3a3"/>
<circle cx="201.0" cy="503.5" r="1.45" fill="#a3a3a3"/>
<circle cx="222.5" cy="508.5" r="1.45" fill="#a3a3a3"/>
<circle cx="283.5" cy="522.7" r="1.45" fill="#a3a3a3"/>
<circle cx="281.9" cy="522.0" r="1.45" fill="#a3a3a3"/>
<circle cx="309.4" cy="527.1" r="1.45" fill="#a3a3a3"/>
<circle cx="113.4" cy="487.3" r="1.45" fill="#a3a3a3"/>
<circle cx="162.0" cy="493.0" r="1.45" fill="#a3a3a3"/>
<circle cx="135.1" cy="493.8" r="1.45" fill="#a3a3a3"/>
<circle cx="123.3" cy="488.9" r="1.45" fill="#a3a3a3"/>
<circle cx="187.0" cy="499.4" r="1.45" fill="#a3a3a3"/>
<circle cx="165.6" cy="490.1" r="1.45" fill="#a3a3a3"/>
<circle cx="295.3" cy="527.2" r="1.45" fill="#a3a3a3"/>
<circle cx="139.9" cy="495.1" r="1.45" fill="#a3a3a3"/>
<circle cx="294.6" cy="525.9" r="1.45" fill="#a3a3a3"/>
<circle cx="108.5" cy="485.5" r="1.45" fill="#a3a3a3"/>
<circle cx="133.5" cy="492.6" r="1.45" fill="#a3a3a3"/>
<circle cx="202.3" cy="507.9" r="1.45" fill="#a3a3a3"/>
<circle cx="223.3" cy="509.7" r="1.45" fill="#a3a3a3"/>
<circle cx="275.8" cy="521.5" r="1.45" fill="#a3a3a3"/>
<circle cx="227.8" cy="508.7" r="1.45" fill="#a3a3a3"/>
<circle cx="132.5" cy="485.7" r="1.45" fill="#a3a3a3"/>
<circle cx="283.2" cy="522.4" r="1.45" fill="#a3a3a3"/>
<circle cx="193.4" cy="498.6" r="1.45" fill="#a3a3a3"/>
<circle cx="233.7" cy="510.9" r="1.45" fill="#a3a3a3"/>
<circle cx="283.6" cy="523.4" r="1.45" fill="#a3a3a3"/>
<circle cx="180.0" cy="498.7" r="1.45" fill="#a3a3a3"/>
<circle cx="259.8" cy="519.2" r="1.45" fill="#a3a3a3"/>
<circle cx="169.5" cy="498.6" r="1.45" fill="#a3a3a3"/>
<circle cx="309.1" cy="527.6" r="1.45" fill="#a3a3a3"/>
<circle cx="131.4" cy="488.9" r="1.45" fill="#a3a3a3"/>
<circle cx="265.9" cy="520.4" r="1.45" fill="#a3a3a3"/>
<circle cx="112.7" cy="484.2" r="1.45" fill="#a3a3a3"/>
<circle cx="255.5" cy="517.4" r="1.45" fill="#a3a3a3"/>
<circle cx="216.1" cy="506.5" r="1.45" fill="#a3a3a3"/>
<circle cx="189.3" cy="492.7" r="1.45" fill="#a3a3a3"/>
<circle cx="170.3" cy="495.8" r="1.45" fill="#a3a3a3"/>
<circle cx="276.1" cy="521.6" r="1.45" fill="#a3a3a3"/>
<circle cx="190.9" cy="495.5" r="1.45" fill="#a3a3a3"/>
<circle cx="170.2" cy="497.5" r="1.45" fill="#a3a3a3"/>
<circle cx="197.4" cy="500.6" r="1.45" fill="#a3a3a3"/>
<circle cx="275.8" cy="521.5" r="1.45" fill="#a3a3a3"/>
<circle cx="306.2" cy="527.1" r="1.45" fill="#a3a3a3"/>
<circle cx="234.4" cy="510.8" r="1.45" fill="#a3a3a3"/>
<circle cx="231.3" cy="511.4" r="1.45" fill="#a3a3a3"/>
<circle cx="309.1" cy="527.2" r="1.45" fill="#a3a3a3"/>
<circle cx="194.2" cy="495.7" r="1.45" fill="#a3a3a3"/>
<circle cx="279.7" cy="521.5" r="1.45" fill="#a3a3a3"/>
<circle cx="184.2" cy="494.9" r="1.45" fill="#a3a3a3"/>
<circle cx="111.6" cy="484.1" r="1.45" fill="#a3a3a3"/>
<circle cx="307.7" cy="527.4" r="1.45" fill="#a3a3a3"/>
<circle cx="252.3" cy="516.2" r="1.45" fill="#a3a3a3"/>
<circle cx="161.4" cy="490.3" r="1.45" fill="#a3a3a3"/>
<circle cx="230.1" cy="507.4" r="1.45" fill="#a3a3a3"/>
<circle cx="227.1" cy="509.4" r="1.45" fill="#a3a3a3"/>
<circle cx="217.6" cy="506.0" r="1.45" fill="#a3a3a3"/>
<circle cx="118.6" cy="485.6" r="1.45" fill="#a3a3a3"/>
<circle cx="134.9" cy="492.5" r="1.45" fill="#a3a3a3"/>
<circle cx="169.0" cy="496.9" r="1.45" fill="#a3a3a3"/>
<circle cx="260.9" cy="518.1" r="1.45" fill="#a3a3a3"/>
<circle cx="215.3" cy="506.4" r="1.45" fill="#a3a3a3"/>
<circle cx="176.9" cy="500.0" r="1.45" fill="#a3a3a3"/>
<circle cx="160.5" cy="491.7" r="1.45" fill="#a3a3a3"/>
<circle cx="207.3" cy="507.9" r="1.45" fill="#a3a3a3"/>
<circle cx="269.4" cy="518.9" r="1.45" fill="#a3a3a3"/>
<circle cx="305.2" cy="525.7" r="1.45" fill="#a3a3a3"/>
<circle cx="269.3" cy="520.2" r="1.45" fill="#a3a3a3"/>
<circle cx="292.4" cy="525.4" r="1.45" fill="#a3a3a3"/>
<circle cx="248.2" cy="516.1" r="1.45" fill="#a3a3a3"/>
<circle cx="243.6" cy="512.1" r="1.45" fill="#a3a3a3"/>
<circle cx="296.5" cy="527.9" r="1.45" fill="#a3a3a3"/>
<circle cx="127.6" cy="491.3" r="1.45" fill="#a3a3a3"/>
<circle cx="121.0" cy="480.9" r="1.45" fill="#a3a3a3"/>
<circle cx="270.3" cy="521.0" r="1.45" fill="#a3a3a3"/>
<circle cx="304.1" cy="527.4" r="1.45" fill="#a3a3a3"/>
<circle cx="211.2" cy="506.7" r="1.45" fill="#a3a3a3"/>
<circle cx="223.9" cy="510.4" r="1.45" fill="#a3a3a3"/>
<circle cx="239.3" cy="513.5" r="1.45" fill="#a3a3a3"/>
<circle cx="145.7" cy="494.0" r="1.45" fill="#a3a3a3"/>
<circle cx="257.1" cy="513.1" r="1.45" fill="#a3a3a3"/>
<circle cx="275.5" cy="519.6" r="1.45" fill="#a3a3a3"/>
<circle cx="149.8" cy="486.7" r="1.45" fill="#a3a3a3"/>
<circle cx="242.7" cy="512.1" r="1.45" fill="#a3a3a3"/>
<circle cx="307.9" cy="525.3" r="1.45" fill="#a3a3a3"/>
<circle cx="273.3" cy="521.7" r="1.45" fill="#a3a3a3"/>
<circle cx="223.2" cy="509.0" r="1.45" fill="#a3a3a3"/>
<circle cx="270.9" cy="520.8" r="1.45" fill="#a3a3a3"/>
<circle cx="133.6" cy="493.1" r="1.45" fill="#a3a3a3"/>
<circle cx="178.3" cy="498.2" r="1.45" fill="#a3a3a3"/>
<circle cx="211.3" cy="509.1" r="1.45" fill="#a3a3a3"/>
<circle cx="190.9" cy="501.3" r="1.45" fill="#a3a3a3"/>
<circle cx="121.6" cy="484.6" r="1.45" fill="#a3a3a3"/>
<circle cx="244.3" cy="514.1" r="1.45" fill="#a3a3a3"/>
<circle cx="278.0" cy="520.4" r="1.45" fill="#a3a3a3"/>
<circle cx="272.2" cy="521.6" r="1.45" fill="#a3a3a3"/>
<circle cx="134.3" cy="487.6" r="1.45" fill="#a3a3a3"/>
<circle cx="226.1" cy="510.7" r="1.45" fill="#a3a3a3"/>
<circle cx="232.5" cy="510.2" r="1.45" fill="#a3a3a3"/>
<circle cx="210.2" cy="508.8" r="1.45" fill="#a3a3a3"/>
<circle cx="213.4" cy="507.9" r="1.45" fill="#a3a3a3"/>
<circle cx="228.2" cy="510.9" r="1.45" fill="#a3a3a3"/>
<circle cx="271.4" cy="521.6" r="1.45" fill="#a3a3a3"/>
<circle cx="160.0" cy="494.9" r="1.45" fill="#a3a3a3"/>
<circle cx="276.1" cy="522.0" r="1.45" fill="#a3a3a3"/>
<circle cx="303.0" cy="528.0" r="1.45" fill="#a3a3a3"/>
<circle cx="131.1" cy="490.0" r="1.45" fill="#a3a3a3"/>
<circle cx="179.1" cy="495.7" r="1.45" fill="#a3a3a3"/>
<circle cx="208.9" cy="509.4" r="1.45" fill="#a3a3a3"/>
<circle cx="264.7" cy="515.9" r="1.45" fill="#a3a3a3"/>
<circle cx="156.2" cy="492.1" r="1.45" fill="#a3a3a3"/>
<circle cx="289.1" cy="525.7" r="1.45" fill="#a3a3a3"/>
<circle cx="137.8" cy="492.1" r="1.45" fill="#a3a3a3"/>
<circle cx="156.0" cy="486.8" r="1.45" fill="#a3a3a3"/>
<circle cx="228.1" cy="511.0" r="1.45" fill="#a3a3a3"/>
<circle cx="266.3" cy="520.1" r="1.45" fill="#a3a3a3"/>
<circle cx="136.3" cy="492.1" r="1.45" fill="#a3a3a3"/>
<circle cx="237.3" cy="512.6" r="1.45" fill="#a3a3a3"/>
<circle cx="197.6" cy="499.1" r="1.45" fill="#a3a3a3"/>
<circle cx="297.9" cy="526.6" r="1.45" fill="#a3a3a3"/>
<circle cx="258.5" cy="516.7" r="1.45" fill="#a3a3a3"/>
<circle cx="267.0" cy="518.4" r="1.45" fill="#a3a3a3"/>
<circle cx="123.8" cy="486.4" r="1.45" fill="#a3a3a3"/>
<circle cx="204.6" cy="508.7" r="1.45" fill="#a3a3a3"/>
<circle cx="188.7" cy="499.3" r="1.45" fill="#a3a3a3"/>
<circle cx="183.0" cy="499.3" r="1.45" fill="#a3a3a3"/>
<circle cx="140.8" cy="494.6" r="1.45" fill="#a3a3a3"/>
<circle cx="301.4" cy="525.7" r="1.45" fill="#a3a3a3"/>
<circle cx="283.5" cy="524.2" r="1.45" fill="#a3a3a3"/>
<circle cx="249.0" cy="512.6" r="1.45" fill="#a3a3a3"/>
<circle cx="257.3" cy="518.0" r="1.45" fill="#a3a3a3"/>
<circle cx="235.1" cy="512.5" r="1.45" fill="#a3a3a3"/>
<circle cx="301.9" cy="527.6" r="1.45" fill="#a3a3a3"/>
<circle cx="297.4" cy="526.1" r="1.45" fill="#a3a3a3"/>
<circle cx="166.7" cy="495.7" r="1.45" fill="#a3a3a3"/>
<circle cx="213.5" cy="509.3" r="1.45" fill="#a3a3a3"/>
<circle cx="237.1" cy="512.2" r="1.45" fill="#a3a3a3"/>
<circle cx="234.0" cy="512.2" r="1.45" fill="#a3a3a3"/>
<circle cx="188.0" cy="499.7" r="1.45" fill="#a3a3a3"/>
<circle cx="229.6" cy="509.3" r="1.45" fill="#a3a3a3"/>
<circle cx="175.2" cy="494.5" r="1.45" fill="#a3a3a3"/>
<circle cx="106.8" cy="482.8" r="1.45" fill="#a3a3a3"/>
<circle cx="167.1" cy="490.7" r="1.45" fill="#a3a3a3"/>
<circle cx="205.7" cy="507.0" r="1.45" fill="#a3a3a3"/>
<circle cx="297.6" cy="527.7" r="1.45" fill="#a3a3a3"/>
<circle cx="243.2" cy="514.4" r="1.45" fill="#a3a3a3"/>
<circle cx="161.8" cy="489.5" r="1.45" fill="#a3a3a3"/>
<circle cx="231.6" cy="509.0" r="1.45" fill="#a3a3a3"/>
<circle cx="309.9" cy="526.8" r="1.45" fill="#a3a3a3"/>
<circle cx="289.3" cy="525.2" r="1.45" fill="#a3a3a3"/>
<circle cx="124.0" cy="488.3" r="1.45" fill="#a3a3a3"/>
<circle cx="249.0" cy="513.6" r="1.45" fill="#a3a3a3"/>
<circle cx="297.7" cy="528.0" r="1.45" fill="#a3a3a3"/>
<circle cx="247.8" cy="516.1" r="1.45" fill="#a3a3a3"/>
<circle cx="309.5" cy="526.2" r="1.45" fill="#a3a3a3"/>
<circle cx="256.8" cy="517.7" r="1.45" fill="#a3a3a3"/>
<circle cx="257.1" cy="515.6" r="1.45" fill="#a3a3a3"/>
<circle cx="217.8" cy="508.3" r="1.45" fill="#a3a3a3"/>
<circle cx="281.7" cy="520.7" r="1.45" fill="#a3a3a3"/>
<circle cx="182.7" cy="497.0" r="1.45" fill="#a3a3a3"/>
<circle cx="269.5" cy="517.6" r="1.45" fill="#a3a3a3"/>
<circle cx="117.4" cy="481.1" r="1.45" fill="#a3a3a3"/>
<circle cx="128.7" cy="488.2" r="1.45" fill="#a3a3a3"/>
<circle cx="285.0" cy="523.7" r="1.45" fill="#a3a3a3"/>
<circle cx="125.6" cy="489.2" r="1.45" fill="#a3a3a3"/>
<circle cx="173.9" cy="497.6" r="1.45" fill="#a3a3a3"/>
<circle cx="260.4" cy="517.2" r="1.45" fill="#a3a3a3"/>
<circle cx="257.4" cy="517.3" r="1.45" fill="#a3a3a3"/>
<circle cx="282.1" cy="523.6" r="1.45" fill="#a3a3a3"/>
<circle cx="292.4" cy="527.1" r="1.45" fill="#a3a3a3"/>
<circle cx="163.3" cy="494.7" r="1.45" fill="#a3a3a3"/>
<circle cx="265.5" cy="520.1" r="1.45" fill="#a3a3a3"/>
<circle cx="256.8" cy="518.1" r="1.45" fill="#a3a3a3"/>
<circle cx="276.4" cy="521.4" r="1.45" fill="#a3a3a3"/>
<circle cx="238.0" cy="509.9" r="1.45" fill="#a3a3a3"/>
<circle cx="204.0" cy="508.5" r="1.45" fill="#a3a3a3"/>
<circle cx="295.0" cy="527.5" r="1.45" fill="#a3a3a3"/>
<circle cx="196.1" cy="500.0" r="1.45" fill="#a3a3a3"/>
<circle cx="289.1" cy="526.3" r="1.45" fill="#a3a3a3"/>
<circle cx="144.4" cy="485.9" r="1.45" fill="#a3a3a3"/>
<circle cx="287.6" cy="525.4" r="1.45" fill="#a3a3a3"/>
<circle cx="127.3" cy="492.3" r="1.45" fill="#a3a3a3"/>
<circle cx="226.9" cy="510.2" r="1.45" fill="#a3a3a3"/>
<circle cx="272.6" cy="519.4" r="1.45" fill="#a3a3a3"/>
<circle cx="213.4" cy="506.2" r="1.45" fill="#a3a3a3"/>
<circle cx="232.2" cy="510.1" r="1.45" fill="#a3a3a3"/>
<circle cx="269.2" cy="517.5" r="1.45" fill="#a3a3a3"/>
<circle cx="147.4" cy="491.2" r="1.45" fill="#a3a3a3"/>
<circle cx="104.8" cy="481.9" r="1.45" fill="#a3a3a3"/>
<circle cx="305.2" cy="527.7" r="1.45" fill="#a3a3a3"/>
<circle cx="142.0" cy="494.4" r="1.45" fill="#a3a3a3"/>
<circle cx="151.4" cy="490.0" r="1.45" fill="#a3a3a3"/>
<circle cx="237.4" cy="511.2" r="1.45" fill="#a3a3a3"/>
<circle cx="146.5" cy="487.1" r="1.45" fill="#a3a3a3"/>
<circle cx="141.4" cy="488.8" r="1.45" fill="#a3a3a3"/>
<circle cx="294.6" cy="525.1" r="1.45" fill="#a3a3a3"/>
<circle cx="217.1" cy="506.6" r="1.45" fill="#a3a3a3"/>
<circle cx="254.7" cy="511.0" r="1.45" fill="#a3a3a3"/>
<circle cx="181.9" cy="499.2" r="1.45" fill="#a3a3a3"/>
<circle cx="109.9" cy="484.2" r="1.45" fill="#a3a3a3"/>
<circle cx="172.5" cy="496.7" r="1.45" fill="#a3a3a3"/>
<circle cx="235.6" cy="509.4" r="1.45" fill="#a3a3a3"/>
<circle cx="285.0" cy="523.5" r="1.45" fill="#a3a3a3"/>
<circle cx="265.5" cy="516.5" r="1.45" fill="#a3a3a3"/>
<circle cx="124.1" cy="483.7" r="1.45" fill="#a3a3a3"/>
<circle cx="122.0" cy="483.8" r="1.45" fill="#a3a3a3"/>
<circle cx="133.6" cy="486.3" r="1.45" fill="#a3a3a3"/>
<circle cx="282.1" cy="523.0" r="1.45" fill="#a3a3a3"/>
<circle cx="208.0" cy="507.7" r="1.45" fill="#a3a3a3"/>
<circle cx="273.5" cy="517.9" r="1.45" fill="#a3a3a3"/>
<circle cx="114.0" cy="486.4" r="1.45" fill="#a3a3a3"/>
<circle cx="106.0" cy="483.3" r="1.45" fill="#a3a3a3"/>
<circle cx="234.8" cy="512.2" r="1.45" fill="#a3a3a3"/>
<circle cx="104.6" cy="481.7" r="1.45" fill="#a3a3a3"/>
<circle cx="169.8" cy="496.8" r="1.45" fill="#a3a3a3"/>
<circle cx="111.4" cy="486.7" r="1.45" fill="#a3a3a3"/>
<circle cx="304.0" cy="527.3" r="1.45" fill="#a3a3a3"/>
<circle cx="243.4" cy="514.5" r="1.45" fill="#a3a3a3"/>
<circle cx="280.4" cy="523.0" r="1.45" fill="#a3a3a3"/>
<circle cx="206.1" cy="505.3" r="1.45" fill="#a3a3a3"/>
<circle cx="270.1" cy="521.5" r="1.45" fill="#a3a3a3"/>
<circle cx="250.6" cy="514.2" r="1.45" fill="#a3a3a3"/>
<circle cx="307.8" cy="527.2" r="1.45" fill="#a3a3a3"/>
<circle cx="169.6" cy="498.1" r="1.45" fill="#a3a3a3"/>
<circle cx="151.2" cy="490.0" r="1.45" fill="#a3a3a3"/>
<circle cx="293.2" cy="525.0" r="1.45" fill="#a3a3a3"/>
<circle cx="285.8" cy="524.2" r="1.45" fill="#a3a3a3"/>
<circle cx="223.8" cy="509.5" r="1.45" fill="#a3a3a3"/>
<circle cx="292.7" cy="525.7" r="1.45" fill="#a3a3a3"/>
<circle cx="123.9" cy="487.2" r="1.45" fill="#a3a3a3"/>
<circle cx="151.2" cy="492.0" r="1.45" fill="#a3a3a3"/>
<circle cx="127.5" cy="482.8" r="1.45" fill="#a3a3a3"/>
<circle cx="222.8" cy="506.2" r="1.45" fill="#a3a3a3"/>
<circle cx="160.1" cy="492.9" r="1.45" fill="#a3a3a3"/>
<circle cx="124.3" cy="489.8" r="1.45" fill="#a3a3a3"/>
<circle cx="292.5" cy="524.7" r="1.45" fill="#a3a3a3"/>
<circle cx="272.7" cy="518.9" r="1.45" fill="#a3a3a3"/>
<circle cx="256.6" cy="512.8" r="1.45" fill="#a3a3a3"/>
<circle cx="259.9" cy="519.3" r="1.45" fill="#a3a3a3"/>
<circle cx="158.5" cy="489.8" r="1.45" fill="#a3a3a3"/>
<circle cx="175.5" cy="499.4" r="1.45" fill="#a3a3a3"/>
<circle cx="267.2" cy="517.2" r="1.45" fill="#a3a3a3"/>
<circle cx="292.5" cy="527.1" r="1.45" fill="#a3a3a3"/>
<circle cx="304.1" cy="528.0" r="1.45" fill="#a3a3a3"/>
<circle cx="137.5" cy="493.3" r="1.45" fill="#a3a3a3"/>
<circle cx="109.6" cy="482.3" r="1.45" fill="#a3a3a3"/>
<circle cx="211.7" cy="542.5" r="1.45" fill="#a3a3a3"/>
<circle cx="142.2" cy="550.5" r="1.45" fill="#a3a3a3"/>
<circle cx="194.9" cy="539.8" r="1.45" fill="#a3a3a3"/>
<circle cx="221.5" cy="540.6" r="1.45" fill="#a3a3a3"/>
<circle cx="251.7" cy="540.3" r="1.45" fill="#a3a3a3"/>
<circle cx="270.0" cy="536.3" r="1.45" fill="#a3a3a3"/>
<circle cx="272.4" cy="537.5" r="1.45" fill="#a3a3a3"/>
<circle cx="212.9" cy="543.5" r="1.45" fill="#a3a3a3"/>
<circle cx="194.7" cy="541.1" r="1.45" fill="#a3a3a3"/>
<circle cx="302.1" cy="534.0" r="1.45" fill="#a3a3a3"/>
<circle cx="168.6" cy="547.0" r="1.45" fill="#a3a3a3"/>
<circle cx="281.5" cy="537.3" r="1.45" fill="#a3a3a3"/>
<circle cx="243.2" cy="540.4" r="1.45" fill="#a3a3a3"/>
<circle cx="285.4" cy="541.7" r="1.45" fill="#a3a3a3"/>
<circle cx="218.5" cy="541.0" r="1.45" fill="#a3a3a3"/>
<circle cx="287.4" cy="538.3" r="1.45" fill="#a3a3a3"/>
<circle cx="138.3" cy="553.9" r="1.45" fill="#a3a3a3"/>
<circle cx="102.4" cy="550.2" r="1.45" fill="#a3a3a3"/>
<circle cx="265.6" cy="537.7" r="1.45" fill="#a3a3a3"/>
<circle cx="143.4" cy="548.6" r="1.45" fill="#a3a3a3"/>
<circle cx="137.2" cy="549.7" r="1.45" fill="#a3a3a3"/>
<circle cx="169.6" cy="548.8" r="1.45" fill="#a3a3a3"/>
<circle cx="245.5" cy="540.6" r="1.45" fill="#a3a3a3"/>
<circle cx="166.9" cy="548.2" r="1.45" fill="#a3a3a3"/>
<circle cx="300.3" cy="536.6" r="1.45" fill="#a3a3a3"/>
<circle cx="161.5" cy="551.9" r="1.45" fill="#a3a3a3"/>
<circle cx="163.3" cy="549.5" r="1.45" fill="#a3a3a3"/>
<circle cx="273.7" cy="538.9" r="1.45" fill="#a3a3a3"/>
<circle cx="251.6" cy="539.2" r="1.45" fill="#a3a3a3"/>
<circle cx="219.5" cy="540.8" r="1.45" fill="#a3a3a3"/>
<circle cx="226.2" cy="542.3" r="1.45" fill="#a3a3a3"/>
<circle cx="229.1" cy="541.1" r="1.45" fill="#a3a3a3"/>
<circle cx="265.8" cy="537.0" r="1.45" fill="#a3a3a3"/>
<circle cx="183.6" cy="541.9" r="1.45" fill="#a3a3a3"/>
<circle cx="133.6" cy="560.1" r="1.45" fill="#a3a3a3"/>
<circle cx="121.4" cy="548.2" r="1.45" fill="#a3a3a3"/>
<circle cx="114.6" cy="547.9" r="1.45" fill="#a3a3a3"/>
<circle cx="113.8" cy="552.9" r="1.45" fill="#a3a3a3"/>
<circle cx="230.5" cy="543.9" r="1.45" fill="#a3a3a3"/>
<circle cx="189.1" cy="539.8" r="1.45" fill="#a3a3a3"/>
<circle cx="253.5" cy="539.1" r="1.45" fill="#a3a3a3"/>
<circle cx="293.0" cy="537.4" r="1.45" fill="#a3a3a3"/>
<circle cx="271.7" cy="537.8" r="1.45" fill="#a3a3a3"/>
<circle cx="177.9" cy="544.8" r="1.45" fill="#a3a3a3"/>
<circle cx="260.8" cy="537.3" r="1.45" fill="#a3a3a3"/>
<circle cx="127.3" cy="551.2" r="1.45" fill="#a3a3a3"/>
<circle cx="164.0" cy="551.4" r="1.45" fill="#a3a3a3"/>
<circle cx="119.9" cy="547.7" r="1.45" fill="#a3a3a3"/>
<circle cx="125.4" cy="552.0" r="1.45" fill="#a3a3a3"/>
<circle cx="98.6" cy="551.6" r="1.45" fill="#a3a3a3"/>
<circle cx="231.1" cy="543.1" r="1.45" fill="#a3a3a3"/>
<circle cx="302.1" cy="533.8" r="1.45" fill="#a3a3a3"/>
<circle cx="258.4" cy="537.2" r="1.45" fill="#a3a3a3"/>
<circle cx="248.2" cy="542.2" r="1.45" fill="#a3a3a3"/>
<circle cx="154.2" cy="552.3" r="1.45" fill="#a3a3a3"/>
<circle cx="99.2" cy="552.0" r="1.45" fill="#a3a3a3"/>
<circle cx="223.7" cy="541.3" r="1.45" fill="#a3a3a3"/>
<circle cx="258.0" cy="539.4" r="1.45" fill="#a3a3a3"/>
<circle cx="155.9" cy="554.3" r="1.45" fill="#a3a3a3"/>
<circle cx="145.9" cy="546.5" r="1.45" fill="#a3a3a3"/>
<circle cx="201.6" cy="540.6" r="1.45" fill="#a3a3a3"/>
<circle cx="284.1" cy="538.2" r="1.45" fill="#a3a3a3"/>
<circle cx="173.4" cy="545.6" r="1.45" fill="#a3a3a3"/>
<circle cx="112.0" cy="551.6" r="1.45" fill="#a3a3a3"/>
<circle cx="287.9" cy="538.1" r="1.45" fill="#a3a3a3"/>
<circle cx="171.8" cy="546.3" r="1.45" fill="#a3a3a3"/>
<circle cx="260.1" cy="537.3" r="1.45" fill="#a3a3a3"/>
<circle cx="152.7" cy="548.2" r="1.45" fill="#a3a3a3"/>
<circle cx="237.8" cy="538.9" r="1.45" fill="#a3a3a3"/>
<circle cx="206.6" cy="539.8" r="1.45" fill="#a3a3a3"/>
<circle cx="251.8" cy="540.2" r="1.45" fill="#a3a3a3"/>
<circle cx="220.9" cy="542.2" r="1.45" fill="#a3a3a3"/>
<circle cx="229.4" cy="541.4" r="1.45" fill="#a3a3a3"/>
<circle cx="312.6" cy="527.5" r="1.45" fill="#a3a3a3"/>
<circle cx="267.1" cy="536.3" r="1.45" fill="#a3a3a3"/>
<circle cx="176.1" cy="545.8" r="1.45" fill="#a3a3a3"/>
<circle cx="145.4" cy="549.7" r="1.45" fill="#a3a3a3"/>
<circle cx="190.5" cy="540.8" r="1.45" fill="#a3a3a3"/>
<circle cx="205.5" cy="543.9" r="1.45" fill="#a3a3a3"/>
<circle cx="236.3" cy="540.1" r="1.45" fill="#a3a3a3"/>
<circle cx="209.2" cy="541.6" r="1.45" fill="#a3a3a3"/>
<circle cx="283.9" cy="538.2" r="1.45" fill="#a3a3a3"/>
<circle cx="239.1" cy="540.0" r="1.45" fill="#a3a3a3"/>
<circle cx="182.3" cy="544.6" r="1.45" fill="#a3a3a3"/>
<circle cx="242.8" cy="540.0" r="1.45" fill="#a3a3a3"/>
<circle cx="109.7" cy="554.7" r="1.45" fill="#a3a3a3"/>
<circle cx="106.2" cy="558.7" r="1.45" fill="#a3a3a3"/>
<circle cx="173.0" cy="547.5" r="1.45" fill="#a3a3a3"/>
<circle cx="194.2" cy="543.9" r="1.45" fill="#a3a3a3"/>
<circle cx="145.4" cy="549.1" r="1.45" fill="#a3a3a3"/>
<circle cx="158.0" cy="552.6" r="1.45" fill="#a3a3a3"/>
<circle cx="201.9" cy="540.5" r="1.45" fill="#a3a3a3"/>
<circle cx="107.8" cy="560.1" r="1.45" fill="#a3a3a3"/>
<circle cx="192.4" cy="539.9" r="1.45" fill="#a3a3a3"/>
<circle cx="232.6" cy="541.0" r="1.45" fill="#a3a3a3"/>
<circle cx="307.0" cy="533.3" r="1.45" fill="#a3a3a3"/>
<circle cx="274.9" cy="536.8" r="1.45" fill="#a3a3a3"/>
<circle cx="103.0" cy="556.6" r="1.45" fill="#a3a3a3"/>
<circle cx="267.3" cy="537.5" r="1.45" fill="#a3a3a3"/>
<circle cx="291.2" cy="540.3" r="1.45" fill="#a3a3a3"/>
<circle cx="299.4" cy="535.2" r="1.45" fill="#a3a3a3"/>
<circle cx="184.4" cy="542.2" r="1.45" fill="#a3a3a3"/>
<circle cx="211.5" cy="541.4" r="1.45" fill="#a3a3a3"/>
<circle cx="134.8" cy="547.5" r="1.45" fill="#a3a3a3"/>
<circle cx="126.5" cy="552.8" r="1.45" fill="#a3a3a3"/>
<circle cx="113.7" cy="559.6" r="1.45" fill="#a3a3a3"/>
<circle cx="159.4" cy="556.5" r="1.45" fill="#a3a3a3"/>
<circle cx="197.0" cy="542.8" r="1.45" fill="#a3a3a3"/>
<circle cx="98.5" cy="554.1" r="1.45" fill="#a3a3a3"/>
<circle cx="157.1" cy="552.9" r="1.45" fill="#a3a3a3"/>
<circle cx="212.7" cy="541.8" r="1.45" fill="#a3a3a3"/>
<circle cx="106.4" cy="548.2" r="1.45" fill="#a3a3a3"/>
<circle cx="306.8" cy="534.4" r="1.45" fill="#a3a3a3"/>
<circle cx="238.6" cy="539.7" r="1.45" fill="#a3a3a3"/>
<circle cx="148.8" cy="548.7" r="1.45" fill="#a3a3a3"/>
<circle cx="152.5" cy="551.6" r="1.45" fill="#a3a3a3"/>
<circle cx="193.6" cy="545.8" r="1.45" fill="#a3a3a3"/>
<circle cx="144.8" cy="545.8" r="1.45" fill="#a3a3a3"/>
<circle cx="262.8" cy="538.3" r="1.45" fill="#a3a3a3"/>
<circle cx="312.3" cy="528.2" r="1.45" fill="#a3a3a3"/>
<circle cx="280.5" cy="539.4" r="1.45" fill="#a3a3a3"/>
<circle cx="289.9" cy="538.8" r="1.45" fill="#a3a3a3"/>
<circle cx="285.0" cy="540.4" r="1.45" fill="#a3a3a3"/>
<circle cx="180.7" cy="545.5" r="1.45" fill="#a3a3a3"/>
<circle cx="265.3" cy="536.4" r="1.45" fill="#a3a3a3"/>
<circle cx="124.1" cy="551.2" r="1.45" fill="#a3a3a3"/>
<circle cx="132.2" cy="558.0" r="1.45" fill="#a3a3a3"/>
<circle cx="122.9" cy="556.7" r="1.45" fill="#a3a3a3"/>
<circle cx="160.4" cy="550.7" r="1.45" fill="#a3a3a3"/>
<circle cx="292.2" cy="537.4" r="1.45" fill="#a3a3a3"/>
<circle cx="260.7" cy="538.5" r="1.45" fill="#a3a3a3"/>
<circle cx="164.8" cy="549.6" r="1.45" fill="#a3a3a3"/>
<circle cx="145.4" cy="554.6" r="1.45" fill="#a3a3a3"/>
<circle cx="154.7" cy="546.8" r="1.45" fill="#a3a3a3"/>
<circle cx="105.7" cy="551.9" r="1.45" fill="#a3a3a3"/>
<circle cx="145.2" cy="547.0" r="1.45" fill="#a3a3a3"/>
<circle cx="102.8" cy="552.5" r="1.45" fill="#a3a3a3"/>
<circle cx="252.9" cy="538.9" r="1.45" fill="#a3a3a3"/>
<circle cx="125.9" cy="546.6" r="1.45" fill="#a3a3a3"/>
<circle cx="98.7" cy="549.5" r="1.45" fill="#a3a3a3"/>
<circle cx="273.3" cy="536.5" r="1.45" fill="#a3a3a3"/>
<circle cx="283.6" cy="539.3" r="1.45" fill="#a3a3a3"/>
<circle cx="231.3" cy="540.7" r="1.45" fill="#a3a3a3"/>
<circle cx="222.3" cy="541.3" r="1.45" fill="#a3a3a3"/>
<circle cx="281.2" cy="539.5" r="1.45" fill="#a3a3a3"/>
<circle cx="217.1" cy="543.0" r="1.45" fill="#a3a3a3"/>
<circle cx="107.3" cy="548.3" r="1.45" fill="#a3a3a3"/>
<circle cx="172.4" cy="547.7" r="1.45" fill="#a3a3a3"/>
<circle cx="309.9" cy="532.6" r="1.45" fill="#a3a3a3"/>
<circle cx="128.5" cy="549.9" r="1.45" fill="#a3a3a3"/>
<circle cx="200.1" cy="541.3" r="1.45" fill="#a3a3a3"/>
<circle cx="154.1" cy="551.8" r="1.45" fill="#a3a3a3"/>
<circle cx="300.9" cy="534.9" r="1.45" fill="#a3a3a3"/>
<circle cx="214.9" cy="540.3" r="1.45" fill="#a3a3a3"/>
<circle cx="258.8" cy="539.5" r="1.45" fill="#a3a3a3"/>
<circle cx="265.6" cy="537.4" r="1.45" fill="#a3a3a3"/>
<circle cx="127.4" cy="552.6" r="1.45" fill="#a3a3a3"/>
<circle cx="311.0" cy="530.2" r="1.45" fill="#a3a3a3"/>
<circle cx="291.9" cy="538.0" r="1.45" fill="#a3a3a3"/>
<circle cx="233.5" cy="540.8" r="1.45" fill="#a3a3a3"/>
<circle cx="255.0" cy="538.4" r="1.45" fill="#a3a3a3"/>
<circle cx="172.6" cy="545.8" r="1.45" fill="#a3a3a3"/>
<circle cx="204.0" cy="545.7" r="1.45" fill="#a3a3a3"/>
<circle cx="272.4" cy="539.1" r="1.45" fill="#a3a3a3"/>
<circle cx="155.7" cy="550.3" r="1.45" fill="#a3a3a3"/>
<circle cx="140.7" cy="549.9" r="1.45" fill="#a3a3a3"/>
<circle cx="190.6" cy="541.7" r="1.45" fill="#a3a3a3"/>
<circle cx="237.0" cy="539.5" r="1.45" fill="#a3a3a3"/>
<circle cx="105.5" cy="555.1" r="1.45" fill="#a3a3a3"/>
<circle cx="120.0" cy="551.9" r="1.45" fill="#a3a3a3"/>
<circle cx="194.3" cy="540.1" r="1.45" fill="#a3a3a3"/>
<circle cx="97.6" cy="551.0" r="1.45" fill="#a3a3a3"/>
<circle cx="128.5" cy="547.9" r="1.45" fill="#a3a3a3"/>
<circle cx="279.9" cy="537.2" r="1.45" fill="#a3a3a3"/>
<circle cx="220.3" cy="543.2" r="1.45" fill="#a3a3a3"/>
<circle cx="157.3" cy="550.7" r="1.45" fill="#a3a3a3"/>
<circle cx="241.9" cy="538.3" r="1.45" fill="#a3a3a3"/>
<circle cx="286.0" cy="541.0" r="1.45" fill="#a3a3a3"/>
<circle cx="122.6" cy="548.6" r="1.45" fill="#a3a3a3"/>
<circle cx="139.8" cy="548.8" r="1.45" fill="#a3a3a3"/>
<circle cx="205.8" cy="541.4" r="1.45" fill="#a3a3a3"/>
<circle cx="170.8" cy="546.1" r="1.45" fill="#a3a3a3"/>
<circle cx="158.6" cy="551.6" r="1.45" fill="#a3a3a3"/>
<circle cx="129.8" cy="553.1" r="1.45" fill="#a3a3a3"/>
<circle cx="123.5" cy="548.7" r="1.45" fill="#a3a3a3"/>
<circle cx="99.0" cy="557.0" r="1.45" fill="#a3a3a3"/>
<circle cx="271.0" cy="536.2" r="1.45" fill="#a3a3a3"/>
<circle cx="168.7" cy="547.0" r="1.45" fill="#a3a3a3"/>
<circle cx="271.5" cy="536.8" r="1.45" fill="#a3a3a3"/>
<circle cx="230.2" cy="539.7" r="1.45" fill="#a3a3a3"/>
<circle cx="164.3" cy="550.4" r="1.45" fill="#a3a3a3"/>
<circle cx="150.5" cy="551.7" r="1.45" fill="#a3a3a3"/>
<circle cx="206.7" cy="541.4" r="1.45" fill="#a3a3a3"/>
<circle cx="136.2" cy="556.3" r="1.45" fill="#a3a3a3"/>
<circle cx="99.9" cy="557.4" r="1.45" fill="#a3a3a3"/>
<circle cx="128.6" cy="549.1" r="1.45" fill="#a3a3a3"/>
<circle cx="271.9" cy="537.2" r="1.45" fill="#a3a3a3"/>
<circle cx="235.2" cy="540.6" r="1.45" fill="#a3a3a3"/>
<circle cx="110.8" cy="548.5" r="1.45" fill="#a3a3a3"/>
<circle cx="261.8" cy="539.3" r="1.45" fill="#a3a3a3"/>
<circle cx="162.3" cy="548.4" r="1.45" fill="#a3a3a3"/>
<circle cx="248.7" cy="540.8" r="1.45" fill="#a3a3a3"/>
<circle cx="179.1" cy="545.7" r="1.45" fill="#a3a3a3"/>
<circle cx="213.8" cy="540.0" r="1.45" fill="#a3a3a3"/>
<circle cx="126.5" cy="551.7" r="1.45" fill="#a3a3a3"/>
<circle cx="296.1" cy="537.9" r="1.45" fill="#a3a3a3"/>
<circle cx="133.1" cy="547.6" r="1.45" fill="#a3a3a3"/>
<circle cx="230.8" cy="540.7" r="1.45" fill="#a3a3a3"/>
<circle cx="194.7" cy="545.5" r="1.45" fill="#a3a3a3"/>
<circle cx="234.5" cy="541.4" r="1.45" fill="#a3a3a3"/>
<circle cx="190.9" cy="539.8" r="1.45" fill="#a3a3a3"/>
<circle cx="202.9" cy="542.5" r="1.45" fill="#a3a3a3"/>
<circle cx="171.5" cy="548.4" r="1.45" fill="#a3a3a3"/>
<circle cx="229.5" cy="539.8" r="1.45" fill="#a3a3a3"/>
<circle cx="119.7" cy="559.4" r="1.45" fill="#a3a3a3"/>
<circle cx="180.8" cy="546.5" r="1.45" fill="#a3a3a3"/>
<circle cx="225.3" cy="542.4" r="1.45" fill="#a3a3a3"/>
<circle cx="204.7" cy="541.9" r="1.45" fill="#a3a3a3"/>
<circle cx="307.1" cy="534.0" r="1.45" fill="#a3a3a3"/>
<circle cx="151.8" cy="550.8" r="1.45" fill="#a3a3a3"/>
<circle cx="238.5" cy="541.2" r="1.45" fill="#a3a3a3"/>
<circle cx="147.3" cy="547.4" r="1.45" fill="#a3a3a3"/>
<circle cx="210.2" cy="544.0" r="1.45" fill="#a3a3a3"/>
<circle cx="279.4" cy="540.3" r="1.45" fill="#a3a3a3"/>
<circle cx="159.2" cy="549.9" r="1.45" fill="#a3a3a3"/>
<circle cx="194.3" cy="540.5" r="1.45" fill="#a3a3a3"/>
<circle cx="126.9" cy="548.7" r="1.45" fill="#a3a3a3"/>
<circle cx="133.6" cy="556.4" r="1.45" fill="#a3a3a3"/>
<circle cx="247.2" cy="538.4" r="1.45" fill="#a3a3a3"/>
<circle cx="118.1" cy="557.9" r="1.45" fill="#a3a3a3"/>
<circle cx="138.4" cy="549.1" r="1.45" fill="#a3a3a3"/>
<circle cx="101.4" cy="548.6" r="1.45" fill="#a3a3a3"/>
<circle cx="98.5" cy="551.2" r="1.45" fill="#a3a3a3"/>
<circle cx="270.4" cy="537.4" r="1.45" fill="#a3a3a3"/>
<circle cx="272.6" cy="538.7" r="1.45" fill="#a3a3a3"/>
<circle cx="263.8" cy="537.3" r="1.45" fill="#a3a3a3"/>
<circle cx="280.5" cy="537.8" r="1.45" fill="#a3a3a3"/>
<circle cx="266.4" cy="536.3" r="1.45" fill="#a3a3a3"/>
<circle cx="150.1" cy="554.9" r="1.45" fill="#a3a3a3"/>
<circle cx="131.9" cy="547.9" r="1.45" fill="#a3a3a3"/>
<circle cx="207.6" cy="541.5" r="1.45" fill="#a3a3a3"/>
<circle cx="197.9" cy="546.2" r="1.45" fill="#a3a3a3"/>
<circle cx="296.8" cy="536.2" r="1.45" fill="#a3a3a3"/>
<circle cx="222.4" cy="540.8" r="1.45" fill="#a3a3a3"/>
<circle cx="287.8" cy="538.7" r="1.45" fill="#a3a3a3"/>
<circle cx="212.3" cy="540.1" r="1.45" fill="#a3a3a3"/>
<circle cx="126.9" cy="547.1" r="1.45" fill="#a3a3a3"/>
<circle cx="231.0" cy="541.3" r="1.45" fill="#a3a3a3"/>
<circle cx="127.0" cy="550.1" r="1.45" fill="#a3a3a3"/>
<circle cx="158.6" cy="558.6" r="1.45" fill="#a3a3a3"/>
<circle cx="274.7" cy="537.1" r="1.45" fill="#a3a3a3"/>
<circle cx="291.1" cy="537.5" r="1.45" fill="#a3a3a3"/>
<circle cx="183.2" cy="542.3" r="1.45" fill="#a3a3a3"/>
<circle cx="147.0" cy="550.8" r="1.45" fill="#a3a3a3"/>
<circle cx="196.9" cy="540.9" r="1.45" fill="#a3a3a3"/>
<circle cx="116.2" cy="557.4" r="1.45" fill="#a3a3a3"/>
<circle cx="298.0" cy="538.5" r="1.45" fill="#a3a3a3"/>
<circle cx="256.7" cy="538.5" r="1.45" fill="#a3a3a3"/>
<circle cx="304.2" cy="533.6" r="1.45" fill="#a3a3a3"/>
<circle cx="195.9" cy="541.6" r="1.45" fill="#a3a3a3"/>
<circle cx="246.8" cy="540.4" r="1.45" fill="#a3a3a3"/>
<circle cx="98.7" cy="549.0" r="1.45" fill="#a3a3a3"/>
<circle cx="213.3" cy="540.1" r="1.45" fill="#a3a3a3"/>
<circle cx="212.1" cy="543.6" r="1.45" fill="#a3a3a3"/>
<circle cx="117.0" cy="553.5" r="1.45" fill="#a3a3a3"/>
<circle cx="305.4" cy="533.4" r="1.45" fill="#a3a3a3"/>
<circle cx="158.4" cy="550.8" r="1.45" fill="#a3a3a3"/>
<circle cx="306.0" cy="533.9" r="1.45" fill="#a3a3a3"/>
<circle cx="163.7" cy="549.1" r="1.45" fill="#a3a3a3"/>
<circle cx="131.4" cy="549.7" r="1.45" fill="#a3a3a3"/>
<circle cx="110.2" cy="550.8" r="1.45" fill="#a3a3a3"/>
<circle cx="118.8" cy="557.6" r="1.45" fill="#a3a3a3"/>
<circle cx="259.5" cy="538.0" r="1.45" fill="#a3a3a3"/>
<circle cx="129.4" cy="551.6" r="1.45" fill="#a3a3a3"/>
<circle cx="288.5" cy="539.1" r="1.45" fill="#a3a3a3"/>
<circle cx="154.2" cy="549.9" r="1.45" fill="#a3a3a3"/>
<circle cx="290.1" cy="538.2" r="1.45" fill="#a3a3a3"/>
<circle cx="198.0" cy="541.2" r="1.45" fill="#a3a3a3"/>
<circle cx="171.6" cy="546.0" r="1.45" fill="#a3a3a3"/>
<circle cx="154.0" cy="552.5" r="1.45" fill="#a3a3a3"/>
<circle cx="201.0" cy="540.3" r="1.45" fill="#a3a3a3"/>
<circle cx="263.2" cy="537.1" r="1.45" fill="#a3a3a3"/>
<circle cx="95.0" cy="552.0" r="1.45" fill="#a3a3a3"/>
<circle cx="293.7" cy="539.0" r="1.45" fill="#a3a3a3"/>
<circle cx="137.4" cy="553.3" r="1.45" fill="#a3a3a3"/>
<circle cx="122.9" cy="555.0" r="1.45" fill="#a3a3a3"/>
<circle cx="204.2" cy="540.8" r="1.45" fill="#a3a3a3"/>
<circle cx="196.0" cy="541.6" r="1.45" fill="#a3a3a3"/>
<circle cx="244.6" cy="538.5" r="1.45" fill="#a3a3a3"/>
<circle cx="307.0" cy="533.3" r="1.45" fill="#a3a3a3"/>
<circle cx="203.1" cy="545.6" r="1.45" fill="#a3a3a3"/>
<circle cx="158.8" cy="553.7" r="1.45" fill="#a3a3a3"/>
<circle cx="304.1" cy="533.9" r="1.45" fill="#a3a3a3"/>
<circle cx="122.5" cy="552.0" r="1.45" fill="#a3a3a3"/>
<circle cx="186.7" cy="542.2" r="1.45" fill="#a3a3a3"/>
<circle cx="307.4" cy="533.9" r="1.45" fill="#a3a3a3"/>
<circle cx="247.2" cy="539.7" r="1.45" fill="#a3a3a3"/>
<circle cx="292.1" cy="537.9" r="1.45" fill="#a3a3a3"/>
<circle cx="262.0" cy="537.5" r="1.45" fill="#a3a3a3"/>
<circle cx="251.8" cy="538.0" r="1.45" fill="#a3a3a3"/>
<circle cx="179.8" cy="545.2" r="1.45" fill="#a3a3a3"/>
<circle cx="230.1" cy="539.8" r="1.45" fill="#a3a3a3"/>
<circle cx="224.0" cy="541.3" r="1.45" fill="#a3a3a3"/>
<circle cx="201.3" cy="541.8" r="1.45" fill="#a3a3a3"/>
<circle cx="177.8" cy="546.4" r="1.45" fill="#a3a3a3"/>
<circle cx="108.7" cy="558.0" r="1.45" fill="#a3a3a3"/>
<circle cx="128.5" cy="556.9" r="1.45" fill="#a3a3a3"/>
<circle cx="175.9" cy="544.7" r="1.45" fill="#a3a3a3"/>
<circle cx="182.1" cy="542.7" r="1.45" fill="#a3a3a3"/>
<circle cx="244.9" cy="538.2" r="1.45" fill="#a3a3a3"/>
<circle cx="236.9" cy="538.6" r="1.45" fill="#a3a3a3"/>
<circle cx="270.4" cy="538.8" r="1.45" fill="#a3a3a3"/>
<circle cx="95.1" cy="550.7" r="1.45" fill="#a3a3a3"/>
<circle cx="169.0" cy="547.3" r="1.45" fill="#a3a3a3"/>
<circle cx="302.8" cy="533.7" r="1.45" fill="#a3a3a3"/>
<circle cx="209.2" cy="542.2" r="1.45" fill="#a3a3a3"/>
<circle cx="223.5" cy="540.1" r="1.45" fill="#a3a3a3"/>
<circle cx="115.0" cy="547.3" r="1.45" fill="#a3a3a3"/>
<circle cx="95.3" cy="555.9" r="1.45" fill="#a3a3a3"/>
<circle cx="278.9" cy="537.3" r="1.45" fill="#a3a3a3"/>
<circle cx="282.8" cy="537.6" r="1.45" fill="#a3a3a3"/>
<circle cx="193.9" cy="542.3" r="1.45" fill="#a3a3a3"/>
<circle cx="199.1" cy="541.7" r="1.45" fill="#a3a3a3"/>
<circle cx="142.0" cy="550.4" r="1.45" fill="#a3a3a3"/>
<circle cx="199.2" cy="546.4" r="1.45" fill="#a3a3a3"/>
<circle cx="219.5" cy="543.1" r="1.45" fill="#a3a3a3"/>
<circle cx="216.7" cy="543.1" r="1.45" fill="#a3a3a3"/>
<circle cx="134.9" cy="550.8" r="1.45" fill="#a3a3a3"/>
<circle cx="260.5" cy="536.5" r="1.45" fill="#a3a3a3"/>
<circle cx="261.8" cy="536.8" r="1.45" fill="#a3a3a3"/>
<circle cx="189.6" cy="541.9" r="1.45" fill="#a3a3a3"/>
<circle cx="214.0" cy="539.6" r="1.45" fill="#a3a3a3"/>
<circle cx="279.8" cy="541.6" r="1.45" fill="#a3a3a3"/>
<circle cx="245.3" cy="538.8" r="1.45" fill="#a3a3a3"/>
<circle cx="289.1" cy="537.4" r="1.45" fill="#a3a3a3"/>
<circle cx="181.1" cy="545.0" r="1.45" fill="#a3a3a3"/>
<circle cx="145.9" cy="551.3" r="1.45" fill="#a3a3a3"/>
<circle cx="286.4" cy="537.9" r="1.45" fill="#a3a3a3"/>
<circle cx="275.9" cy="538.6" r="1.45" fill="#a3a3a3"/>
<circle cx="261.4" cy="540.6" r="1.45" fill="#a3a3a3"/>
<circle cx="203.4" cy="543.0" r="1.45" fill="#a3a3a3"/>
<circle cx="160.1" cy="546.7" r="1.45" fill="#a3a3a3"/>
<circle cx="95.2" cy="550.7" r="1.45" fill="#a3a3a3"/>
<circle cx="240.5" cy="538.4" r="1.45" fill="#a3a3a3"/>
<circle cx="183.1" cy="542.4" r="1.45" fill="#a3a3a3"/>
<circle cx="215.0" cy="540.7" r="1.45" fill="#a3a3a3"/>
<circle cx="231.6" cy="541.7" r="1.45" fill="#a3a3a3"/>
<circle cx="226.8" cy="542.3" r="1.45" fill="#a3a3a3"/>
<circle cx="101.6" cy="550.6" r="1.45" fill="#a3a3a3"/>
<circle cx="100.3" cy="549.0" r="1.45" fill="#a3a3a3"/>
<circle cx="287.5" cy="536.9" r="1.45" fill="#a3a3a3"/>
<circle cx="290.1" cy="534.7" r="1.45" fill="#a3a3a3"/>
<circle cx="291.2" cy="534.3" r="1.45" fill="#a3a3a3"/>
<circle cx="286.0" cy="527.9" r="1.45" fill="#a3a3a3"/>
<circle cx="288.8" cy="537.8" r="1.45" fill="#a3a3a3"/>
<circle cx="309.8" cy="529.2" r="1.45" fill="#a3a3a3"/>
<circle cx="311.6" cy="529.3" r="1.45" fill="#a3a3a3"/>
<circle cx="284.7" cy="532.8" r="1.45" fill="#a3a3a3"/>
<circle cx="287.0" cy="529.7" r="1.45" fill="#a3a3a3"/>
<circle cx="290.1" cy="529.1" r="1.45" fill="#a3a3a3"/>
<circle cx="299.4" cy="529.1" r="1.45" fill="#a3a3a3"/>
<circle cx="291.0" cy="528.2" r="1.45" fill="#a3a3a3"/>
<circle cx="288.8" cy="535.3" r="1.45" fill="#a3a3a3"/>
<circle cx="289.5" cy="537.6" r="1.45" fill="#a3a3a3"/>
<circle cx="283.7" cy="524.3" r="1.45" fill="#a3a3a3"/>
<circle cx="288.2" cy="532.1" r="1.45" fill="#a3a3a3"/>
<circle cx="290.2" cy="531.1" r="1.45" fill="#a3a3a3"/>
<circle cx="304.7" cy="531.7" r="1.45" fill="#a3a3a3"/>
<circle cx="288.0" cy="536.5" r="1.45" fill="#a3a3a3"/>
<circle cx="291.9" cy="532.8" r="1.45" fill="#a3a3a3"/>
<circle cx="291.9" cy="534.8" r="1.45" fill="#a3a3a3"/>
<circle cx="299.1" cy="531.3" r="1.45" fill="#a3a3a3"/>
<circle cx="285.7" cy="525.8" r="1.45" fill="#a3a3a3"/>
<circle cx="288.6" cy="536.2" r="1.45" fill="#a3a3a3"/>
<circle cx="310.5" cy="528.8" r="1.45" fill="#a3a3a3"/>
<circle cx="282.4" cy="526.4" r="1.45" fill="#a3a3a3"/>
<circle cx="310.9" cy="527.2" r="1.45" fill="#a3a3a3"/>
<circle cx="293.7" cy="527.6" r="1.45" fill="#a3a3a3"/>
<circle cx="296.4" cy="530.2" r="1.45" fill="#a3a3a3"/>
<circle cx="312.5" cy="527.6" r="1.45" fill="#a3a3a3"/>
<circle cx="296.6" cy="534.6" r="1.45" fill="#a3a3a3"/>
<circle cx="302.2" cy="530.7" r="1.45" fill="#a3a3a3"/>
<circle cx="305.4" cy="527.3" r="1.45" fill="#a3a3a3"/>
<circle cx="285.6" cy="535.7" r="1.45" fill="#a3a3a3"/>
<circle cx="297.1" cy="533.1" r="1.45" fill="#a3a3a3"/>
<circle cx="300.0" cy="533.8" r="1.45" fill="#a3a3a3"/>
<circle cx="288.3" cy="528.0" r="1.45" fill="#a3a3a3"/>
<circle cx="289.5" cy="536.5" r="1.45" fill="#a3a3a3"/>
<circle cx="296.6" cy="533.9" r="1.45" fill="#a3a3a3"/>
<circle cx="305.5" cy="529.4" r="1.45" fill="#a3a3a3"/>
<circle cx="304.3" cy="532.7" r="1.45" fill="#a3a3a3"/>
<circle cx="296.8" cy="531.8" r="1.45" fill="#a3a3a3"/>
<circle cx="295.5" cy="531.3" r="1.45" fill="#a3a3a3"/>
<circle cx="287.0" cy="532.6" r="1.45" fill="#a3a3a3"/>
<circle cx="308.3" cy="528.5" r="1.45" fill="#a3a3a3"/>
<circle cx="293.8" cy="530.6" r="1.45" fill="#a3a3a3"/>
<circle cx="289.8" cy="537.1" r="1.45" fill="#a3a3a3"/>
<circle cx="304.0" cy="527.8" r="1.45" fill="#a3a3a3"/>
<circle cx="297.0" cy="530.2" r="1.45" fill="#a3a3a3"/>
<circle cx="292.1" cy="527.9" r="1.45" fill="#a3a3a3"/>
<circle cx="299.9" cy="530.2" r="1.45" fill="#a3a3a3"/>
<circle cx="302.4" cy="528.2" r="1.45" fill="#a3a3a3"/>
<circle cx="297.1" cy="531.1" r="1.45" fill="#a3a3a3"/>
<circle cx="301.1" cy="527.9" r="1.45" fill="#a3a3a3"/>
<circle cx="306.0" cy="530.6" r="1.45" fill="#a3a3a3"/>
<circle cx="288.3" cy="527.9" r="1.45" fill="#a3a3a3"/>
<circle cx="306.9" cy="527.1" r="1.45" fill="#a3a3a3"/>
<circle cx="299.3" cy="529.8" r="1.45" fill="#a3a3a3"/>
<circle cx="291.3" cy="537.2" r="1.45" fill="#a3a3a3"/>
<circle cx="284.6" cy="526.8" r="1.45" fill="#a3a3a3"/>
<circle cx="280.4" cy="528.3" r="1.45" fill="#a3a3a3"/>
<circle cx="282.5" cy="524.1" r="1.45" fill="#a3a3a3"/>
<circle cx="302.6" cy="534.1" r="1.45" fill="#a3a3a3"/>
<circle cx="285.6" cy="532.7" r="1.45" fill="#a3a3a3"/>
<circle cx="311.8" cy="527.0" r="1.45" fill="#a3a3a3"/>
<circle cx="285.1" cy="531.3" r="1.45" fill="#a3a3a3"/>
<circle cx="281.7" cy="531.8" r="1.45" fill="#a3a3a3"/>
<circle cx="307.5" cy="532.7" r="1.45" fill="#a3a3a3"/>
<circle cx="283.8" cy="531.8" r="1.45" fill="#a3a3a3"/>
<circle cx="296.6" cy="531.2" r="1.45" fill="#a3a3a3"/>
<circle cx="286.1" cy="532.8" r="1.45" fill="#a3a3a3"/>
<circle cx="285.0" cy="533.7" r="1.45" fill="#a3a3a3"/>
<circle cx="282.9" cy="523.7" r="1.45" fill="#a3a3a3"/>
<circle cx="308.2" cy="529.1" r="1.45" fill="#a3a3a3"/>
<circle cx="293.5" cy="532.0" r="1.45" fill="#a3a3a3"/>
<circle cx="295.8" cy="527.2" r="1.45" fill="#a3a3a3"/>
<circle cx="307.0" cy="533.5" r="1.45" fill="#a3a3a3"/>
<circle cx="290.0" cy="529.8" r="1.45" fill="#a3a3a3"/>
<circle cx="289.2" cy="534.0" r="1.45" fill="#a3a3a3"/>
<circle cx="297.4" cy="532.0" r="1.45" fill="#a3a3a3"/>
<circle cx="300.2" cy="529.4" r="1.45" fill="#a3a3a3"/>
<circle cx="297.2" cy="531.8" r="1.45" fill="#a3a3a3"/>
<circle cx="300.7" cy="532.2" r="1.45" fill="#a3a3a3"/>
<circle cx="312.4" cy="526.7" r="1.45" fill="#a3a3a3"/>
<circle cx="296.8" cy="532.4" r="1.45" fill="#a3a3a3"/>
<circle cx="285.3" cy="529.6" r="1.45" fill="#a3a3a3"/>
<circle cx="288.1" cy="532.4" r="1.45" fill="#a3a3a3"/>
<circle cx="303.2" cy="529.1" r="1.45" fill="#a3a3a3"/>
<circle cx="295.3" cy="529.0" r="1.45" fill="#a3a3a3"/>
<circle cx="293.5" cy="536.8" r="1.45" fill="#a3a3a3"/>
<path d="M103.8,464.7 C103.3,465.4 101.5,468.4 101.0,469.2" fill="none" stroke="#a3a3a3" stroke-width="3.0" stroke-linecap="round"/>
<path d="M98.7,472.7 C98.0,474.1 95.9,478.3 94.5,481.0 C93.1,483.7 91.8,486.5 90.5,489.0 C89.2,491.5 88.0,493.7 86.7,496.0 C85.5,498.3 84.4,500.8 83.0,503.0 C81.6,505.2 79.9,507.2 78.5,509.0 C77.1,510.8 75.4,512.9 74.8,513.7" fill="none" stroke="#a3a3a3" stroke-width="3.0" stroke-linecap="round"/>
<path d="M73.1,517.1 C72.8,517.8 71.7,520.4 71.4,521.0" fill="none" stroke="#a3a3a3" stroke-width="3.0" stroke-linecap="round"/>
<path d="M71.5,536.0 C72.2,537.6 74.6,542.5 76.0,545.5 C77.4,548.5 78.3,550.7 80.0,553.8 C81.7,556.9 84.0,560.6 86.0,564.0 C88.0,567.4 90.1,571.2 91.9,574.4 C93.8,577.6 96.2,581.8 97.1,583.3" fill="none" stroke="#a3a3a3" stroke-width="3.0" stroke-linecap="round" stroke-dasharray="8 3 14 2.5 40"/>
<path d="M103.4,480.6 C102.8,481.3 100.8,483.4 99.5,484.8 C98.2,486.2 96.8,487.3 95.5,489.2 C94.2,491.1 92.8,493.7 91.5,496.0 C90.2,498.3 88.8,500.6 87.5,502.8 C86.2,505.1 85.1,507.2 84.0,509.5 C82.9,511.8 81.6,514.4 80.7,516.5 C79.8,518.6 79.0,520.3 78.6,522.0 C78.2,523.7 78.2,525.0 78.2,526.5 C78.2,528.0 78.3,529.4 78.8,531.0 C79.3,532.6 80.1,533.5 81.3,536.0 C82.5,538.5 84.5,542.7 86.0,546.0 C87.5,549.3 88.8,552.8 90.0,556.0 C91.2,559.2 92.1,562.0 93.0,565.0 C93.9,568.0 95.1,572.5 95.5,574.0" fill="none" stroke="#a3a3a3" stroke-width="2.7" stroke-linecap="round"/>
<circle cx="67.6" cy="530.4" r="1.45" fill="#a3a3a3"/>
<circle cx="130.0" cy="458.7" r="1.45" fill="#a3a3a3"/>
<circle cx="127.0" cy="463.7" r="1.45" fill="#a3a3a3"/>
<circle cx="108.3" cy="469.9" r="1.45" fill="#a3a3a3"/>
<circle cx="122.0" cy="472.4" r="1.45" fill="#a3a3a3"/>
<circle cx="114.6" cy="477.4" r="1.45" fill="#a3a3a3"/>
<circle cx="139.5" cy="481.1" r="1.45" fill="#a3a3a3"/>
<circle cx="163.2" cy="484.9" r="1.45" fill="#a3a3a3"/>
<circle cx="178.1" cy="481.1" r="1.45" fill="#a3a3a3"/>
<circle cx="198.0" cy="491.1" r="1.45" fill="#a3a3a3"/>
<circle cx="113.3" cy="577.4" r="1.45" fill="#a3a3a3"/>
<circle cx="97.1" cy="582.2" r="1.45" fill="#a3a3a3"/>
<circle cx="145.5" cy="573.3" r="1.45" fill="#a3a3a3"/>
<circle cx="156.3" cy="574.2" r="1.45" fill="#a3a3a3"/>
<circle cx="164.2" cy="569.5" r="1.45" fill="#a3a3a3"/>
<circle cx="188.1" cy="577.0" r="1.45" fill="#a3a3a3"/>
<circle cx="173.3" cy="563.6" r="1.45" fill="#a3a3a3"/>
<circle cx="196.4" cy="565.3" r="1.45" fill="#a3a3a3"/>
<circle cx="203.0" cy="564.6" r="1.45" fill="#a3a3a3"/>
<circle cx="200.5" cy="554.6" r="1.45" fill="#a3a3a3"/>
<circle cx="100.2" cy="575.3" r="1.45" fill="#a3a3a3"/>
<circle cx="98.5" cy="570.6" r="1.45" fill="#a3a3a3"/>
<circle cx="103.8" cy="570.2" r="1.45" fill="#a3a3a3"/>
<circle cx="207.2" cy="489.8" r="1.45" fill="#a3a3a3"/>
<circle cx="212.3" cy="494.9" r="1.45" fill="#a3a3a3"/>
<circle cx="220.5" cy="495.9" r="1.45" fill="#a3a3a3"/>
<circle cx="230.8" cy="498.0" r="1.45" fill="#a3a3a3"/>
<circle cx="237.6" cy="485.7" r="1.45" fill="#a3a3a3"/>
<circle cx="296.5" cy="487.3" r="1.45" fill="#a3a3a3"/>
<circle cx="251.3" cy="505.2" r="1.45" fill="#a3a3a3"/>
<circle cx="258.5" cy="509.3" r="1.45" fill="#a3a3a3"/>
<circle cx="266.7" cy="507.2" r="1.45" fill="#a3a3a3"/>
<circle cx="290.3" cy="514.4" r="1.45" fill="#a3a3a3"/>
<circle cx="296.5" cy="514.4" r="1.45" fill="#a3a3a3"/>
<circle cx="290.1" cy="514.6" r="1.45" fill="#a3a3a3"/>
<circle cx="297.0" cy="514.6" r="1.45" fill="#a3a3a3"/>
<circle cx="289.0" cy="518.2" r="1.45" fill="#a3a3a3"/>
<circle cx="290.7" cy="521.7" r="1.45" fill="#a3a3a3"/>
<circle cx="305.0" cy="524.4" r="1.45" fill="#a3a3a3"/>
<circle cx="314.5" cy="522.6" r="1.45" fill="#a3a3a3"/>
<circle cx="323.5" cy="524.4" r="1.45" fill="#a3a3a3"/>
<circle cx="332.5" cy="525.2" r="1.45" fill="#a3a3a3"/>
<circle cx="315.6" cy="529.7" r="1.45" fill="#a3a3a3"/>
<circle cx="321.4" cy="529.1" r="1.45" fill="#a3a3a3"/>
<circle cx="327.2" cy="530.9" r="1.45" fill="#a3a3a3"/>
<circle cx="342.6" cy="529.1" r="1.45" fill="#a3a3a3"/>
<circle cx="320.3" cy="536.0" r="1.45" fill="#a3a3a3"/>
<circle cx="311.8" cy="532.3" r="1.45" fill="#a3a3a3"/>
<circle cx="310.3" cy="535.0" r="1.45" fill="#a3a3a3"/>
<circle cx="299.1" cy="536.5" r="1.45" fill="#a3a3a3"/>
<circle cx="276.9" cy="542.9" r="1.45" fill="#a3a3a3"/>
<circle cx="286.4" cy="544.3" r="1.45" fill="#a3a3a3"/>
<circle cx="297.5" cy="543.4" r="1.45" fill="#a3a3a3"/>
<circle cx="215.4" cy="560.6" r="1.45" fill="#a3a3a3"/>
<circle cx="221.6" cy="562.7" r="1.45" fill="#a3a3a3"/>
<circle cx="220.5" cy="553.4" r="1.45" fill="#a3a3a3"/>
<circle cx="253.0" cy="553.4" r="1.45" fill="#a3a3a3"/>
<circle cx="269.4" cy="552.4" r="1.45" fill="#a3a3a3"/>
<circle cx="286.2" cy="552.4" r="1.45" fill="#a3a3a3"/>
<circle cx="202.0" cy="558.6" r="1.45" fill="#a3a3a3"/>
<circle cx="157.8" cy="625.3" r="1.45" fill="#a3a3a3"/>
<circle cx="141.5" cy="642.6" r="1.45" fill="#a3a3a3"/>
<line x1="57.1" y1="526.50" x2="352.9" y2="526.50" stroke="#ff7b7f" stroke-width="3.0"/>
<circle cx="132.4" cy="425.8" r="1.6" fill="#d40f0f"/>
<circle cx="143.5" cy="462.2" r="1.6" fill="#d40f0f"/>
<circle cx="144.6" cy="464.3" r="1.6" fill="#d40f0f"/>
<circle cx="142.3" cy="469.8" r="1.6" fill="#d40f0f"/>
<circle cx="164.5" cy="468.3" r="1.6" fill="#d40f0f"/>
<circle cx="131.9" cy="476.2" r="1.6" fill="#d40f0f"/>
<circle cx="131.1" cy="480.2" r="1.6" fill="#d40f0f"/>
<circle cx="137.2" cy="484.5" r="1.6" fill="#d40f0f"/>
<circle cx="148.6" cy="487.8" r="1.6" fill="#d40f0f"/>
<circle cx="185.5" cy="489.2" r="1.6" fill="#d40f0f"/>
<polygon points="211.7,406.5 213.5,409.3 209.9,409.3" fill="none" stroke="#dd1c1c" stroke-width="1.25" stroke-linejoin="round"/>
<text x="215.9" y="415.3" font-size="14.4" text-anchor="start" font-weight="normal" fill="#000">dSaCas9</text>
<text x="275.0" y="410.4" font-size="10.4" letter-spacing="0.7">KRAB</text>
<text x="135.2" y="432.1" font-size="14.4" text-anchor="start" font-weight="normal" font-style="italic" fill="#000">Pdcd1</text>
<text x="185.1" y="442.7" font-size="14.4" text-anchor="start" font-weight="normal" font-style="italic" fill="#000">Gzma</text>
<text x="189.6" y="458.9" font-size="14.4" text-anchor="start" font-weight="normal" font-style="italic" fill="#000">Cd8</text>
<text x="167.6" y="472.6" font-size="14.4" text-anchor="start" font-weight="normal" font-style="italic" fill="#000">Ccl5</text>
<text x="213.1" y="481.7" font-size="14.4" text-anchor="start" font-weight="normal" font-style="italic" fill="#000">Btla</text>
<line x1="143.50" y1="462.20" x2="182.30" y2="440.00" stroke="#000" stroke-width="1.1"/>
<line x1="144.60" y1="464.60" x2="186.50" y2="453.20" stroke="#000" stroke-width="1.1"/>
<line x1="142.30" y1="469.80" x2="186.50" y2="453.20" stroke="#000" stroke-width="1.1"/>
<line x1="130.80" y1="479.40" x2="208.70" y2="474.90" stroke="#000" stroke-width="1.1"/>
<circle cx="231.6" cy="551.8" r="2.0" fill="#0000ff"/>
<line x1="231.60" y1="551.80" x2="241.20" y2="563.60" stroke="#000" stroke-width="1.3"/>
<text x="243.6" y="575.1" font-size="14.4" text-anchor="start" font-weight="normal" font-style="italic" fill="#000">Pcsk9</text>
<rect x="56.50" y="398.90" width="297.00" height="255.20" fill="none" stroke="#000" stroke-width="1.2"/>
<line x1="50.00" y1="408.48" x2="56.50" y2="408.48" stroke="#000" stroke-width="1.1"/>
<text x="44.5" y="413.6" font-size="14.4" text-anchor="end" font-weight="normal" fill="#000">6</text>
<line x1="50.00" y1="447.82" x2="56.50" y2="447.82" stroke="#000" stroke-width="1.1"/>
<text x="44.5" y="452.9" font-size="14.4" text-anchor="end" font-weight="normal" fill="#000">4</text>
<line x1="50.00" y1="487.16" x2="56.50" y2="487.16" stroke="#000" stroke-width="1.1"/>
<text x="44.5" y="492.3" font-size="14.4" text-anchor="end" font-weight="normal" fill="#000">2</text>
<line x1="50.00" y1="526.50" x2="56.50" y2="526.50" stroke="#000" stroke-width="1.1"/>
<text x="44.5" y="531.6" font-size="14.4" text-anchor="end" font-weight="normal" fill="#000">0</text>
<line x1="50.00" y1="565.84" x2="56.50" y2="565.84" stroke="#000" stroke-width="1.1"/>
<text x="44.5" y="570.9" font-size="14.4" text-anchor="end" font-weight="normal" fill="#000">−2</text>
<line x1="50.00" y1="605.18" x2="56.50" y2="605.18" stroke="#000" stroke-width="1.1"/>
<text x="44.5" y="610.3" font-size="14.4" text-anchor="end" font-weight="normal" fill="#000">−4</text>
<line x1="50.00" y1="644.52" x2="56.50" y2="644.52" stroke="#000" stroke-width="1.1"/>
<text x="44.5" y="649.6" font-size="14.4" text-anchor="end" font-weight="normal" fill="#000">−6</text>
<line x1="66.50" y1="654.10" x2="66.50" y2="660.60" stroke="#000" stroke-width="1.1"/>
<text x="66.5" y="677.0" font-size="14.4" text-anchor="middle" font-weight="normal" fill="#000">1</text>
<line x1="168.40" y1="654.10" x2="168.40" y2="660.60" stroke="#000" stroke-width="1.1"/>
<text x="168.4" y="677.0" font-size="14.4" text-anchor="middle" font-weight="normal" fill="#000">100</text>
<line x1="270.30" y1="654.10" x2="270.30" y2="660.60" stroke="#000" stroke-width="1.1"/>
<text x="270.3" y="677.0" font-size="14.4" text-anchor="middle" font-weight="normal" fill="#000">10,000</text>
<text x="205.0" y="698.2" font-size="14.4" text-anchor="middle" font-weight="normal" fill="#000">Mean normalized RNA-seq signal</text>
<text transform="translate(11.8,526.0) rotate(-90)" font-size="14.4" text-anchor="middle">Log<tspan font-size="10.4" dy="4.6">2</tspan><tspan dy="-4.6">(fold change)</tspan></text>
<text x="378.6" y="379.5" font-size="20.6" text-anchor="start" font-weight="bold" fill="#000">d</text>
<text x="514.7" y="387.5" font-size="14.4" text-anchor="start" font-weight="normal" fill="#000">dSaCas9</text>
<text x="573.3" y="382.3" font-size="10.4" letter-spacing="0.7">KRAB</text>
<text x="608.1" y="387.5" font-size="14.4" text-anchor="start" font-weight="normal" fill="#000">only vs PBS</text>
<polygon points="499.3,483.0 502.0,484.8 508.4,483.5 515.0,485.5 528.0,487.5 541.0,488.8 555.0,491.0 568.0,493.5 581.5,496.0 595.0,500.0 608.0,501.5 621.0,505.5 634.5,508.8 648.0,511.4 653.0,512.9 666.5,516.9 672.0,518.0 682.0,525.5 672.0,534.3 666.5,535.4 653.0,536.7 640.0,538.0 634.5,540.5 621.0,540.5 608.0,540.5 595.0,541.9 581.5,542.5 568.0,543.2 555.0,544.5 541.0,548.8 528.0,549.5 515.0,550.2 502.0,552.1 492.5,555.0 486.5,551.0 481.5,545.0 477.6,537.0 475.8,530.0 475.3,525.5 475.5,523.3 478.3,514.2 484.0,502.8 492.0,489.2" fill="#a3a3a3"/>
<circle cx="631.4" cy="505.5" r="1.45" fill="#a3a3a3"/>
<circle cx="619.0" cy="505.2" r="1.45" fill="#a3a3a3"/>
<circle cx="661.0" cy="514.0" r="1.45" fill="#a3a3a3"/>
<circle cx="621.5" cy="504.4" r="1.45" fill="#a3a3a3"/>
<circle cx="601.6" cy="496.7" r="1.45" fill="#a3a3a3"/>
<circle cx="631.6" cy="507.8" r="1.45" fill="#a3a3a3"/>
<circle cx="553.9" cy="488.8" r="1.45" fill="#a3a3a3"/>
<circle cx="641.9" cy="509.3" r="1.45" fill="#a3a3a3"/>
<circle cx="685.2" cy="522.5" r="1.45" fill="#a3a3a3"/>
<circle cx="661.7" cy="511.0" r="1.45" fill="#a3a3a3"/>
<circle cx="513.9" cy="480.8" r="1.45" fill="#a3a3a3"/>
<circle cx="569.2" cy="493.5" r="1.45" fill="#a3a3a3"/>
<circle cx="659.5" cy="513.8" r="1.45" fill="#a3a3a3"/>
<circle cx="623.1" cy="505.6" r="1.45" fill="#a3a3a3"/>
<circle cx="505.9" cy="482.3" r="1.45" fill="#a3a3a3"/>
<circle cx="540.6" cy="486.9" r="1.45" fill="#a3a3a3"/>
<circle cx="501.0" cy="483.5" r="1.45" fill="#a3a3a3"/>
<circle cx="675.6" cy="515.3" r="1.45" fill="#a3a3a3"/>
<circle cx="611.7" cy="498.1" r="1.45" fill="#a3a3a3"/>
<circle cx="567.5" cy="490.6" r="1.45" fill="#a3a3a3"/>
<circle cx="666.0" cy="516.4" r="1.45" fill="#a3a3a3"/>
<circle cx="673.0" cy="515.6" r="1.45" fill="#a3a3a3"/>
<circle cx="638.6" cy="509.6" r="1.45" fill="#a3a3a3"/>
<circle cx="598.2" cy="500.8" r="1.45" fill="#a3a3a3"/>
<circle cx="620.3" cy="503.6" r="1.45" fill="#a3a3a3"/>
<circle cx="638.2" cy="508.8" r="1.45" fill="#a3a3a3"/>
<circle cx="540.6" cy="488.0" r="1.45" fill="#a3a3a3"/>
<circle cx="508.7" cy="481.0" r="1.45" fill="#a3a3a3"/>
<circle cx="607.1" cy="495.8" r="1.45" fill="#a3a3a3"/>
<circle cx="624.9" cy="503.7" r="1.45" fill="#a3a3a3"/>
<circle cx="625.2" cy="505.2" r="1.45" fill="#a3a3a3"/>
<circle cx="505.0" cy="485.0" r="1.45" fill="#a3a3a3"/>
<circle cx="511.7" cy="478.8" r="1.45" fill="#a3a3a3"/>
<circle cx="597.3" cy="497.1" r="1.45" fill="#a3a3a3"/>
<circle cx="602.0" cy="499.4" r="1.45" fill="#a3a3a3"/>
<circle cx="611.0" cy="501.6" r="1.45" fill="#a3a3a3"/>
<circle cx="556.3" cy="488.2" r="1.45" fill="#a3a3a3"/>
<circle cx="633.8" cy="507.8" r="1.45" fill="#a3a3a3"/>
<circle cx="600.1" cy="501.1" r="1.45" fill="#a3a3a3"/>
<circle cx="500.9" cy="481.4" r="1.45" fill="#a3a3a3"/>
<circle cx="608.4" cy="497.4" r="1.45" fill="#a3a3a3"/>
<circle cx="645.3" cy="509.8" r="1.45" fill="#a3a3a3"/>
<circle cx="560.6" cy="489.1" r="1.45" fill="#a3a3a3"/>
<circle cx="686.6" cy="516.9" r="1.45" fill="#a3a3a3"/>
<circle cx="658.4" cy="514.2" r="1.45" fill="#a3a3a3"/>
<circle cx="673.1" cy="518.0" r="1.45" fill="#a3a3a3"/>
<circle cx="566.5" cy="492.4" r="1.45" fill="#a3a3a3"/>
<circle cx="677.8" cy="515.8" r="1.45" fill="#a3a3a3"/>
<circle cx="663.9" cy="515.5" r="1.45" fill="#a3a3a3"/>
<circle cx="537.4" cy="489.1" r="1.45" fill="#a3a3a3"/>
<circle cx="557.3" cy="485.7" r="1.45" fill="#a3a3a3"/>
<circle cx="551.1" cy="489.1" r="1.45" fill="#a3a3a3"/>
<circle cx="504.7" cy="483.0" r="1.45" fill="#a3a3a3"/>
<circle cx="585.4" cy="494.8" r="1.45" fill="#a3a3a3"/>
<circle cx="645.7" cy="510.6" r="1.45" fill="#a3a3a3"/>
<circle cx="686.3" cy="522.6" r="1.45" fill="#a3a3a3"/>
<circle cx="665.9" cy="517.3" r="1.45" fill="#a3a3a3"/>
<circle cx="663.9" cy="514.6" r="1.45" fill="#a3a3a3"/>
<circle cx="512.6" cy="482.0" r="1.45" fill="#a3a3a3"/>
<circle cx="619.3" cy="505.7" r="1.45" fill="#a3a3a3"/>
<circle cx="626.0" cy="506.3" r="1.45" fill="#a3a3a3"/>
<circle cx="516.0" cy="484.3" r="1.45" fill="#a3a3a3"/>
<circle cx="506.5" cy="478.8" r="1.45" fill="#a3a3a3"/>
<circle cx="507.7" cy="483.0" r="1.45" fill="#a3a3a3"/>
<circle cx="681.6" cy="519.7" r="1.45" fill="#a3a3a3"/>
<circle cx="516.2" cy="484.9" r="1.45" fill="#a3a3a3"/>
<circle cx="533.1" cy="487.3" r="1.45" fill="#a3a3a3"/>
<circle cx="630.3" cy="508.4" r="1.45" fill="#a3a3a3"/>
<circle cx="531.3" cy="483.3" r="1.45" fill="#a3a3a3"/>
<circle cx="561.1" cy="488.1" r="1.45" fill="#a3a3a3"/>
<circle cx="682.4" cy="520.1" r="1.45" fill="#a3a3a3"/>
<circle cx="519.9" cy="483.6" r="1.45" fill="#a3a3a3"/>
<circle cx="518.4" cy="486.6" r="1.45" fill="#a3a3a3"/>
<circle cx="568.9" cy="488.7" r="1.45" fill="#a3a3a3"/>
<circle cx="642.7" cy="509.0" r="1.45" fill="#a3a3a3"/>
<circle cx="625.1" cy="506.7" r="1.45" fill="#a3a3a3"/>
<circle cx="513.8" cy="483.0" r="1.45" fill="#a3a3a3"/>
<circle cx="683.4" cy="518.2" r="1.45" fill="#a3a3a3"/>
<circle cx="547.6" cy="489.3" r="1.45" fill="#a3a3a3"/>
<circle cx="510.5" cy="483.9" r="1.45" fill="#a3a3a3"/>
<circle cx="654.7" cy="514.0" r="1.45" fill="#a3a3a3"/>
<circle cx="660.7" cy="514.2" r="1.45" fill="#a3a3a3"/>
<circle cx="588.4" cy="496.8" r="1.45" fill="#a3a3a3"/>
<circle cx="622.5" cy="506.6" r="1.45" fill="#a3a3a3"/>
<circle cx="528.8" cy="485.1" r="1.45" fill="#a3a3a3"/>
<circle cx="586.5" cy="494.4" r="1.45" fill="#a3a3a3"/>
<circle cx="531.0" cy="487.4" r="1.45" fill="#a3a3a3"/>
<circle cx="612.6" cy="502.7" r="1.45" fill="#a3a3a3"/>
<circle cx="549.1" cy="488.6" r="1.45" fill="#a3a3a3"/>
<circle cx="530.1" cy="482.0" r="1.45" fill="#a3a3a3"/>
<circle cx="525.4" cy="485.7" r="1.45" fill="#a3a3a3"/>
<circle cx="663.5" cy="514.9" r="1.45" fill="#a3a3a3"/>
<circle cx="650.4" cy="508.7" r="1.45" fill="#a3a3a3"/>
<circle cx="599.7" cy="496.6" r="1.45" fill="#a3a3a3"/>
<circle cx="600.9" cy="497.8" r="1.45" fill="#a3a3a3"/>
<circle cx="548.5" cy="490.5" r="1.45" fill="#a3a3a3"/>
<circle cx="605.5" cy="498.5" r="1.45" fill="#a3a3a3"/>
<circle cx="594.2" cy="496.9" r="1.45" fill="#a3a3a3"/>
<circle cx="653.3" cy="511.3" r="1.45" fill="#a3a3a3"/>
<circle cx="662.5" cy="514.8" r="1.45" fill="#a3a3a3"/>
<circle cx="625.5" cy="506.3" r="1.45" fill="#a3a3a3"/>
<circle cx="612.9" cy="499.2" r="1.45" fill="#a3a3a3"/>
<circle cx="652.4" cy="512.1" r="1.45" fill="#a3a3a3"/>
<circle cx="542.7" cy="487.7" r="1.45" fill="#a3a3a3"/>
<circle cx="683.5" cy="520.5" r="1.45" fill="#a3a3a3"/>
<circle cx="606.3" cy="500.3" r="1.45" fill="#a3a3a3"/>
<circle cx="512.7" cy="482.4" r="1.45" fill="#a3a3a3"/>
<circle cx="583.1" cy="495.8" r="1.45" fill="#a3a3a3"/>
<circle cx="569.4" cy="490.8" r="1.45" fill="#a3a3a3"/>
<circle cx="663.8" cy="513.0" r="1.45" fill="#a3a3a3"/>
<circle cx="543.0" cy="487.4" r="1.45" fill="#a3a3a3"/>
<circle cx="682.1" cy="520.3" r="1.45" fill="#a3a3a3"/>
<circle cx="526.7" cy="480.3" r="1.45" fill="#a3a3a3"/>
<circle cx="596.2" cy="495.0" r="1.45" fill="#a3a3a3"/>
<circle cx="543.3" cy="485.1" r="1.45" fill="#a3a3a3"/>
<circle cx="666.7" cy="517.3" r="1.45" fill="#a3a3a3"/>
<circle cx="667.6" cy="516.5" r="1.45" fill="#a3a3a3"/>
<circle cx="507.0" cy="480.0" r="1.45" fill="#a3a3a3"/>
<circle cx="659.7" cy="509.8" r="1.45" fill="#a3a3a3"/>
<circle cx="595.8" cy="500.0" r="1.45" fill="#a3a3a3"/>
<circle cx="549.0" cy="487.9" r="1.45" fill="#a3a3a3"/>
<circle cx="622.4" cy="505.7" r="1.45" fill="#a3a3a3"/>
<circle cx="529.0" cy="487.2" r="1.45" fill="#a3a3a3"/>
<circle cx="515.4" cy="479.6" r="1.45" fill="#a3a3a3"/>
<circle cx="560.3" cy="489.1" r="1.45" fill="#a3a3a3"/>
<circle cx="587.6" cy="495.5" r="1.45" fill="#a3a3a3"/>
<circle cx="639.9" cy="510.2" r="1.45" fill="#a3a3a3"/>
<circle cx="648.8" cy="512.0" r="1.45" fill="#a3a3a3"/>
<circle cx="548.2" cy="489.4" r="1.45" fill="#a3a3a3"/>
<circle cx="652.1" cy="512.9" r="1.45" fill="#a3a3a3"/>
<circle cx="580.8" cy="496.3" r="1.45" fill="#a3a3a3"/>
<circle cx="568.9" cy="494.1" r="1.45" fill="#a3a3a3"/>
<circle cx="629.3" cy="504.7" r="1.45" fill="#a3a3a3"/>
<circle cx="676.9" cy="519.1" r="1.45" fill="#a3a3a3"/>
<circle cx="604.9" cy="501.8" r="1.45" fill="#a3a3a3"/>
<circle cx="670.9" cy="517.8" r="1.45" fill="#a3a3a3"/>
<circle cx="647.2" cy="511.3" r="1.45" fill="#a3a3a3"/>
<circle cx="521.8" cy="484.7" r="1.45" fill="#a3a3a3"/>
<circle cx="500.5" cy="482.5" r="1.45" fill="#a3a3a3"/>
<circle cx="532.8" cy="487.2" r="1.45" fill="#a3a3a3"/>
<circle cx="676.5" cy="516.6" r="1.45" fill="#a3a3a3"/>
<circle cx="608.0" cy="499.2" r="1.45" fill="#a3a3a3"/>
<circle cx="688.4" cy="522.3" r="1.45" fill="#a3a3a3"/>
<circle cx="532.9" cy="486.8" r="1.45" fill="#a3a3a3"/>
<circle cx="589.6" cy="497.0" r="1.45" fill="#a3a3a3"/>
<circle cx="586.4" cy="493.7" r="1.45" fill="#a3a3a3"/>
<circle cx="522.3" cy="484.9" r="1.45" fill="#a3a3a3"/>
<circle cx="524.3" cy="483.5" r="1.45" fill="#a3a3a3"/>
<circle cx="608.7" cy="501.8" r="1.45" fill="#a3a3a3"/>
<circle cx="529.6" cy="484.3" r="1.45" fill="#a3a3a3"/>
<circle cx="521.3" cy="481.5" r="1.45" fill="#a3a3a3"/>
<circle cx="686.7" cy="522.1" r="1.45" fill="#a3a3a3"/>
<circle cx="512.5" cy="485.5" r="1.45" fill="#a3a3a3"/>
<circle cx="564.4" cy="492.0" r="1.45" fill="#a3a3a3"/>
<circle cx="652.3" cy="510.1" r="1.45" fill="#a3a3a3"/>
<circle cx="554.9" cy="488.6" r="1.45" fill="#a3a3a3"/>
<circle cx="615.4" cy="504.5" r="1.45" fill="#a3a3a3"/>
<circle cx="529.6" cy="488.3" r="1.45" fill="#a3a3a3"/>
<circle cx="610.6" cy="501.1" r="1.45" fill="#a3a3a3"/>
<circle cx="513.3" cy="484.1" r="1.45" fill="#a3a3a3"/>
<circle cx="514.3" cy="485.2" r="1.45" fill="#a3a3a3"/>
<circle cx="551.8" cy="490.6" r="1.45" fill="#a3a3a3"/>
<circle cx="645.1" cy="509.6" r="1.45" fill="#a3a3a3"/>
<circle cx="555.2" cy="490.0" r="1.45" fill="#a3a3a3"/>
<circle cx="589.3" cy="496.3" r="1.45" fill="#a3a3a3"/>
<circle cx="691.6" cy="524.3" r="1.45" fill="#a3a3a3"/>
<circle cx="567.1" cy="493.3" r="1.45" fill="#a3a3a3"/>
<circle cx="585.6" cy="494.3" r="1.45" fill="#a3a3a3"/>
<circle cx="580.4" cy="491.8" r="1.45" fill="#a3a3a3"/>
<circle cx="531.4" cy="487.7" r="1.45" fill="#a3a3a3"/>
<circle cx="589.8" cy="496.7" r="1.45" fill="#a3a3a3"/>
<circle cx="587.2" cy="494.1" r="1.45" fill="#a3a3a3"/>
<circle cx="522.6" cy="477.4" r="1.45" fill="#a3a3a3"/>
<circle cx="614.1" cy="501.5" r="1.45" fill="#a3a3a3"/>
<circle cx="629.5" cy="506.2" r="1.45" fill="#a3a3a3"/>
<circle cx="650.4" cy="512.7" r="1.45" fill="#a3a3a3"/>
<circle cx="571.4" cy="493.6" r="1.45" fill="#a3a3a3"/>
<circle cx="531.6" cy="486.4" r="1.45" fill="#a3a3a3"/>
<circle cx="554.2" cy="489.3" r="1.45" fill="#a3a3a3"/>
<circle cx="658.9" cy="515.0" r="1.45" fill="#a3a3a3"/>
<circle cx="579.9" cy="495.2" r="1.45" fill="#a3a3a3"/>
<circle cx="606.2" cy="499.5" r="1.45" fill="#a3a3a3"/>
<circle cx="515.6" cy="477.7" r="1.45" fill="#a3a3a3"/>
<circle cx="527.5" cy="484.2" r="1.45" fill="#a3a3a3"/>
<circle cx="555.9" cy="487.9" r="1.45" fill="#a3a3a3"/>
<circle cx="556.4" cy="489.1" r="1.45" fill="#a3a3a3"/>
<circle cx="646.7" cy="511.4" r="1.45" fill="#a3a3a3"/>
<circle cx="653.2" cy="512.1" r="1.45" fill="#a3a3a3"/>
<circle cx="507.7" cy="483.6" r="1.45" fill="#a3a3a3"/>
<circle cx="651.5" cy="509.1" r="1.45" fill="#a3a3a3"/>
<circle cx="546.0" cy="488.0" r="1.45" fill="#a3a3a3"/>
<circle cx="540.2" cy="489.5" r="1.45" fill="#a3a3a3"/>
<circle cx="621.3" cy="505.1" r="1.45" fill="#a3a3a3"/>
<circle cx="547.3" cy="487.9" r="1.45" fill="#a3a3a3"/>
<circle cx="605.4" cy="501.2" r="1.45" fill="#a3a3a3"/>
<circle cx="565.1" cy="491.5" r="1.45" fill="#a3a3a3"/>
<circle cx="564.0" cy="491.6" r="1.45" fill="#a3a3a3"/>
<circle cx="561.3" cy="489.6" r="1.45" fill="#a3a3a3"/>
<circle cx="608.0" cy="502.0" r="1.45" fill="#a3a3a3"/>
<circle cx="683.8" cy="521.8" r="1.45" fill="#a3a3a3"/>
<circle cx="567.8" cy="494.1" r="1.45" fill="#a3a3a3"/>
<circle cx="524.9" cy="482.3" r="1.45" fill="#a3a3a3"/>
<circle cx="540.3" cy="487.9" r="1.45" fill="#a3a3a3"/>
<circle cx="548.8" cy="487.5" r="1.45" fill="#a3a3a3"/>
<circle cx="522.6" cy="485.6" r="1.45" fill="#a3a3a3"/>
<circle cx="621.6" cy="504.7" r="1.45" fill="#a3a3a3"/>
<circle cx="619.3" cy="505.4" r="1.45" fill="#a3a3a3"/>
<circle cx="684.7" cy="518.3" r="1.45" fill="#a3a3a3"/>
<circle cx="664.6" cy="515.5" r="1.45" fill="#a3a3a3"/>
<circle cx="637.5" cy="507.2" r="1.45" fill="#a3a3a3"/>
<circle cx="686.5" cy="520.0" r="1.45" fill="#a3a3a3"/>
<circle cx="517.9" cy="483.6" r="1.45" fill="#a3a3a3"/>
<circle cx="562.5" cy="492.3" r="1.45" fill="#a3a3a3"/>
<circle cx="622.0" cy="506.0" r="1.45" fill="#a3a3a3"/>
<circle cx="668.1" cy="517.2" r="1.45" fill="#a3a3a3"/>
<circle cx="570.7" cy="493.0" r="1.45" fill="#a3a3a3"/>
<circle cx="595.8" cy="499.6" r="1.45" fill="#a3a3a3"/>
<circle cx="617.6" cy="503.9" r="1.45" fill="#a3a3a3"/>
<circle cx="564.3" cy="491.7" r="1.45" fill="#a3a3a3"/>
<circle cx="574.2" cy="494.7" r="1.45" fill="#a3a3a3"/>
<circle cx="684.6" cy="521.0" r="1.45" fill="#a3a3a3"/>
<circle cx="568.2" cy="491.4" r="1.45" fill="#a3a3a3"/>
<circle cx="688.4" cy="524.0" r="1.45" fill="#a3a3a3"/>
<circle cx="661.6" cy="515.8" r="1.45" fill="#a3a3a3"/>
<circle cx="605.3" cy="501.0" r="1.45" fill="#a3a3a3"/>
<circle cx="596.3" cy="494.7" r="1.45" fill="#a3a3a3"/>
<circle cx="603.7" cy="501.7" r="1.45" fill="#a3a3a3"/>
<circle cx="572.3" cy="494.0" r="1.45" fill="#a3a3a3"/>
<circle cx="524.2" cy="485.6" r="1.45" fill="#a3a3a3"/>
<circle cx="572.2" cy="495.0" r="1.45" fill="#a3a3a3"/>
<circle cx="600.8" cy="500.2" r="1.45" fill="#a3a3a3"/>
<circle cx="562.9" cy="490.6" r="1.45" fill="#a3a3a3"/>
<circle cx="652.0" cy="511.6" r="1.45" fill="#a3a3a3"/>
<circle cx="620.3" cy="505.8" r="1.45" fill="#a3a3a3"/>
<circle cx="520.1" cy="482.5" r="1.45" fill="#a3a3a3"/>
<circle cx="672.0" cy="517.5" r="1.45" fill="#a3a3a3"/>
<circle cx="654.8" cy="512.8" r="1.45" fill="#a3a3a3"/>
<circle cx="640.6" cy="507.2" r="1.45" fill="#a3a3a3"/>
<circle cx="519.9" cy="485.6" r="1.45" fill="#a3a3a3"/>
<circle cx="640.6" cy="508.6" r="1.45" fill="#a3a3a3"/>
<circle cx="586.7" cy="497.8" r="1.45" fill="#a3a3a3"/>
<circle cx="673.3" cy="515.9" r="1.45" fill="#a3a3a3"/>
<circle cx="690.6" cy="525.1" r="1.45" fill="#a3a3a3"/>
<circle cx="567.9" cy="492.6" r="1.45" fill="#a3a3a3"/>
<circle cx="532.1" cy="485.2" r="1.45" fill="#a3a3a3"/>
<circle cx="538.1" cy="485.4" r="1.45" fill="#a3a3a3"/>
<circle cx="623.6" cy="506.5" r="1.45" fill="#a3a3a3"/>
<circle cx="580.5" cy="496.5" r="1.45" fill="#a3a3a3"/>
<circle cx="517.6" cy="484.7" r="1.45" fill="#a3a3a3"/>
<circle cx="692.5" cy="524.4" r="1.45" fill="#a3a3a3"/>
<circle cx="541.8" cy="487.3" r="1.45" fill="#a3a3a3"/>
<circle cx="546.4" cy="489.9" r="1.45" fill="#a3a3a3"/>
<circle cx="600.0" cy="494.4" r="1.45" fill="#a3a3a3"/>
<circle cx="562.4" cy="490.9" r="1.45" fill="#a3a3a3"/>
<circle cx="620.5" cy="503.2" r="1.45" fill="#a3a3a3"/>
<circle cx="649.9" cy="510.7" r="1.45" fill="#a3a3a3"/>
<circle cx="613.1" cy="501.8" r="1.45" fill="#a3a3a3"/>
<circle cx="679.0" cy="516.6" r="1.45" fill="#a3a3a3"/>
<circle cx="642.6" cy="510.7" r="1.45" fill="#a3a3a3"/>
<circle cx="685.4" cy="515.9" r="1.45" fill="#a3a3a3"/>
<circle cx="539.1" cy="486.2" r="1.45" fill="#a3a3a3"/>
<circle cx="667.0" cy="516.4" r="1.45" fill="#a3a3a3"/>
<circle cx="591.9" cy="498.3" r="1.45" fill="#a3a3a3"/>
<circle cx="598.8" cy="500.8" r="1.45" fill="#a3a3a3"/>
<circle cx="590.8" cy="496.8" r="1.45" fill="#a3a3a3"/>
<circle cx="533.3" cy="487.3" r="1.45" fill="#a3a3a3"/>
<circle cx="520.0" cy="483.5" r="1.45" fill="#a3a3a3"/>
<circle cx="518.8" cy="483.6" r="1.45" fill="#a3a3a3"/>
<circle cx="625.3" cy="506.9" r="1.45" fill="#a3a3a3"/>
<circle cx="613.4" cy="503.0" r="1.45" fill="#a3a3a3"/>
<circle cx="529.0" cy="484.2" r="1.45" fill="#a3a3a3"/>
<circle cx="504.8" cy="482.6" r="1.45" fill="#a3a3a3"/>
<circle cx="570.1" cy="493.0" r="1.45" fill="#a3a3a3"/>
<circle cx="507.6" cy="484.3" r="1.45" fill="#a3a3a3"/>
<circle cx="662.7" cy="512.2" r="1.45" fill="#a3a3a3"/>
<circle cx="663.4" cy="514.9" r="1.45" fill="#a3a3a3"/>
<circle cx="634.8" cy="508.4" r="1.45" fill="#a3a3a3"/>
<circle cx="683.4" cy="517.3" r="1.45" fill="#a3a3a3"/>
<circle cx="665.8" cy="516.4" r="1.45" fill="#a3a3a3"/>
<circle cx="635.2" cy="509.7" r="1.45" fill="#a3a3a3"/>
<circle cx="683.7" cy="515.3" r="1.45" fill="#a3a3a3"/>
<circle cx="546.7" cy="489.3" r="1.45" fill="#a3a3a3"/>
<circle cx="613.4" cy="502.5" r="1.45" fill="#a3a3a3"/>
<circle cx="603.9" cy="500.8" r="1.45" fill="#a3a3a3"/>
<circle cx="521.1" cy="481.0" r="1.45" fill="#a3a3a3"/>
<circle cx="553.1" cy="489.3" r="1.45" fill="#a3a3a3"/>
<circle cx="605.6" cy="499.7" r="1.45" fill="#a3a3a3"/>
<circle cx="565.9" cy="492.6" r="1.45" fill="#a3a3a3"/>
<circle cx="521.5" cy="481.2" r="1.45" fill="#a3a3a3"/>
<circle cx="689.4" cy="523.7" r="1.45" fill="#a3a3a3"/>
<circle cx="535.5" cy="485.8" r="1.45" fill="#a3a3a3"/>
<circle cx="557.1" cy="490.0" r="1.45" fill="#a3a3a3"/>
<circle cx="664.9" cy="516.3" r="1.45" fill="#a3a3a3"/>
<circle cx="503.4" cy="483.7" r="1.45" fill="#a3a3a3"/>
<circle cx="683.8" cy="519.4" r="1.45" fill="#a3a3a3"/>
<circle cx="562.5" cy="489.4" r="1.45" fill="#a3a3a3"/>
<circle cx="558.9" cy="492.3" r="1.45" fill="#a3a3a3"/>
<circle cx="563.3" cy="490.1" r="1.45" fill="#a3a3a3"/>
<circle cx="576.7" cy="495.6" r="1.45" fill="#a3a3a3"/>
<circle cx="501.3" cy="477.6" r="1.45" fill="#a3a3a3"/>
<circle cx="633.4" cy="505.5" r="1.45" fill="#a3a3a3"/>
<circle cx="549.5" cy="488.3" r="1.45" fill="#a3a3a3"/>
<circle cx="585.8" cy="494.8" r="1.45" fill="#a3a3a3"/>
<circle cx="627.5" cy="505.6" r="1.45" fill="#a3a3a3"/>
<circle cx="612.1" cy="503.2" r="1.45" fill="#a3a3a3"/>
<circle cx="645.9" cy="511.5" r="1.45" fill="#a3a3a3"/>
<circle cx="523.7" cy="483.5" r="1.45" fill="#a3a3a3"/>
<circle cx="620.6" cy="503.9" r="1.45" fill="#a3a3a3"/>
<circle cx="560.3" cy="488.2" r="1.45" fill="#a3a3a3"/>
<circle cx="568.9" cy="494.3" r="1.45" fill="#a3a3a3"/>
<circle cx="577.5" cy="490.9" r="1.45" fill="#a3a3a3"/>
<circle cx="566.2" cy="488.5" r="1.45" fill="#a3a3a3"/>
<circle cx="647.4" cy="509.1" r="1.45" fill="#a3a3a3"/>
<circle cx="613.4" cy="503.8" r="1.45" fill="#a3a3a3"/>
<circle cx="593.8" cy="500.1" r="1.45" fill="#a3a3a3"/>
<circle cx="599.5" cy="496.9" r="1.45" fill="#a3a3a3"/>
<circle cx="583.8" cy="491.9" r="1.45" fill="#a3a3a3"/>
<circle cx="615.7" cy="502.5" r="1.45" fill="#a3a3a3"/>
<circle cx="609.1" cy="498.9" r="1.45" fill="#a3a3a3"/>
<circle cx="559.2" cy="492.1" r="1.45" fill="#a3a3a3"/>
<circle cx="624.3" cy="506.2" r="1.45" fill="#a3a3a3"/>
<circle cx="556.8" cy="488.8" r="1.45" fill="#a3a3a3"/>
<circle cx="584.2" cy="492.6" r="1.45" fill="#a3a3a3"/>
<circle cx="656.1" cy="511.0" r="1.45" fill="#a3a3a3"/>
<circle cx="522.2" cy="480.4" r="1.45" fill="#a3a3a3"/>
<circle cx="565.2" cy="490.7" r="1.45" fill="#a3a3a3"/>
<circle cx="660.4" cy="514.3" r="1.45" fill="#a3a3a3"/>
<circle cx="608.9" cy="502.2" r="1.45" fill="#a3a3a3"/>
<circle cx="561.3" cy="489.8" r="1.45" fill="#a3a3a3"/>
<circle cx="637.9" cy="509.0" r="1.45" fill="#a3a3a3"/>
<circle cx="591.1" cy="546.0" r="1.45" fill="#a3a3a3"/>
<circle cx="667.9" cy="535.3" r="1.45" fill="#a3a3a3"/>
<circle cx="554.4" cy="544.6" r="1.45" fill="#a3a3a3"/>
<circle cx="560.1" cy="548.3" r="1.45" fill="#a3a3a3"/>
<circle cx="660.2" cy="539.1" r="1.45" fill="#a3a3a3"/>
<circle cx="511.1" cy="556.5" r="1.45" fill="#a3a3a3"/>
<circle cx="600.3" cy="542.6" r="1.45" fill="#a3a3a3"/>
<circle cx="673.5" cy="533.5" r="1.45" fill="#a3a3a3"/>
<circle cx="688.0" cy="532.1" r="1.45" fill="#a3a3a3"/>
<circle cx="591.0" cy="545.2" r="1.45" fill="#a3a3a3"/>
<circle cx="527.6" cy="551.8" r="1.45" fill="#a3a3a3"/>
<circle cx="563.2" cy="549.1" r="1.45" fill="#a3a3a3"/>
<circle cx="598.2" cy="542.3" r="1.45" fill="#a3a3a3"/>
<circle cx="685.3" cy="533.1" r="1.45" fill="#a3a3a3"/>
<circle cx="690.3" cy="532.3" r="1.45" fill="#a3a3a3"/>
<circle cx="592.0" cy="545.1" r="1.45" fill="#a3a3a3"/>
<circle cx="678.8" cy="534.8" r="1.45" fill="#a3a3a3"/>
<circle cx="567.2" cy="548.6" r="1.45" fill="#a3a3a3"/>
<circle cx="681.5" cy="531.9" r="1.45" fill="#a3a3a3"/>
<circle cx="534.3" cy="549.8" r="1.45" fill="#a3a3a3"/>
<circle cx="524.5" cy="549.2" r="1.45" fill="#a3a3a3"/>
<circle cx="622.8" cy="542.9" r="1.45" fill="#a3a3a3"/>
<circle cx="535.4" cy="549.0" r="1.45" fill="#a3a3a3"/>
<circle cx="621.3" cy="540.7" r="1.45" fill="#a3a3a3"/>
<circle cx="534.1" cy="548.7" r="1.45" fill="#a3a3a3"/>
<circle cx="698.6" cy="527.7" r="1.45" fill="#a3a3a3"/>
<circle cx="696.8" cy="530.2" r="1.45" fill="#a3a3a3"/>
<circle cx="575.5" cy="542.9" r="1.45" fill="#a3a3a3"/>
<circle cx="679.3" cy="532.9" r="1.45" fill="#a3a3a3"/>
<circle cx="706.7" cy="526.4" r="1.45" fill="#a3a3a3"/>
<circle cx="578.0" cy="543.2" r="1.45" fill="#a3a3a3"/>
<circle cx="666.1" cy="535.1" r="1.45" fill="#a3a3a3"/>
<circle cx="684.7" cy="532.8" r="1.45" fill="#a3a3a3"/>
<circle cx="690.8" cy="530.2" r="1.45" fill="#a3a3a3"/>
<circle cx="689.1" cy="531.1" r="1.45" fill="#a3a3a3"/>
<circle cx="515.6" cy="550.2" r="1.45" fill="#a3a3a3"/>
<circle cx="509.7" cy="553.4" r="1.45" fill="#a3a3a3"/>
<circle cx="602.1" cy="541.0" r="1.45" fill="#a3a3a3"/>
<circle cx="652.0" cy="536.3" r="1.45" fill="#a3a3a3"/>
<circle cx="496.5" cy="553.2" r="1.45" fill="#a3a3a3"/>
<circle cx="686.6" cy="532.1" r="1.45" fill="#a3a3a3"/>
<circle cx="531.4" cy="550.3" r="1.45" fill="#a3a3a3"/>
<circle cx="601.2" cy="542.3" r="1.45" fill="#a3a3a3"/>
<circle cx="702.1" cy="526.5" r="1.45" fill="#a3a3a3"/>
<circle cx="598.3" cy="545.2" r="1.45" fill="#a3a3a3"/>
<circle cx="651.0" cy="537.3" r="1.45" fill="#a3a3a3"/>
<circle cx="707.6" cy="525.1" r="1.45" fill="#a3a3a3"/>
<circle cx="582.1" cy="542.6" r="1.45" fill="#a3a3a3"/>
<circle cx="697.9" cy="527.8" r="1.45" fill="#a3a3a3"/>
<circle cx="608.4" cy="543.4" r="1.45" fill="#a3a3a3"/>
<circle cx="538.6" cy="552.9" r="1.45" fill="#a3a3a3"/>
<circle cx="555.7" cy="543.9" r="1.45" fill="#a3a3a3"/>
<circle cx="619.6" cy="543.3" r="1.45" fill="#a3a3a3"/>
<circle cx="527.4" cy="550.8" r="1.45" fill="#a3a3a3"/>
<circle cx="696.4" cy="528.3" r="1.45" fill="#a3a3a3"/>
<circle cx="670.1" cy="535.1" r="1.45" fill="#a3a3a3"/>
<circle cx="538.6" cy="550.7" r="1.45" fill="#a3a3a3"/>
<circle cx="668.1" cy="536.8" r="1.45" fill="#a3a3a3"/>
<circle cx="519.8" cy="551.6" r="1.45" fill="#a3a3a3"/>
<circle cx="538.1" cy="551.9" r="1.45" fill="#a3a3a3"/>
<circle cx="527.6" cy="553.4" r="1.45" fill="#a3a3a3"/>
<circle cx="625.3" cy="540.4" r="1.45" fill="#a3a3a3"/>
<circle cx="682.1" cy="535.3" r="1.45" fill="#a3a3a3"/>
<circle cx="694.5" cy="530.4" r="1.45" fill="#a3a3a3"/>
<circle cx="507.2" cy="557.1" r="1.45" fill="#a3a3a3"/>
<circle cx="594.8" cy="542.7" r="1.45" fill="#a3a3a3"/>
<circle cx="532.1" cy="552.7" r="1.45" fill="#a3a3a3"/>
<circle cx="600.6" cy="541.1" r="1.45" fill="#a3a3a3"/>
<circle cx="671.0" cy="537.9" r="1.45" fill="#a3a3a3"/>
<circle cx="681.4" cy="533.6" r="1.45" fill="#a3a3a3"/>
<circle cx="674.3" cy="535.0" r="1.45" fill="#a3a3a3"/>
<circle cx="532.7" cy="549.1" r="1.45" fill="#a3a3a3"/>
<circle cx="586.6" cy="541.9" r="1.45" fill="#a3a3a3"/>
<circle cx="591.9" cy="542.7" r="1.45" fill="#a3a3a3"/>
<circle cx="630.4" cy="541.8" r="1.45" fill="#a3a3a3"/>
<circle cx="556.8" cy="544.8" r="1.45" fill="#a3a3a3"/>
<circle cx="627.1" cy="542.2" r="1.45" fill="#a3a3a3"/>
<circle cx="513.4" cy="555.3" r="1.45" fill="#a3a3a3"/>
<circle cx="520.9" cy="552.1" r="1.45" fill="#a3a3a3"/>
<circle cx="631.3" cy="542.3" r="1.45" fill="#a3a3a3"/>
<circle cx="527.9" cy="549.6" r="1.45" fill="#a3a3a3"/>
<circle cx="634.0" cy="540.9" r="1.45" fill="#a3a3a3"/>
<circle cx="626.2" cy="544.1" r="1.45" fill="#a3a3a3"/>
<circle cx="550.6" cy="545.8" r="1.45" fill="#a3a3a3"/>
<circle cx="575.9" cy="546.9" r="1.45" fill="#a3a3a3"/>
<circle cx="547.5" cy="548.8" r="1.45" fill="#a3a3a3"/>
<circle cx="636.6" cy="540.4" r="1.45" fill="#a3a3a3"/>
<circle cx="548.5" cy="552.3" r="1.45" fill="#a3a3a3"/>
<circle cx="520.3" cy="550.8" r="1.45" fill="#a3a3a3"/>
<circle cx="583.9" cy="542.2" r="1.45" fill="#a3a3a3"/>
<circle cx="672.5" cy="533.7" r="1.45" fill="#a3a3a3"/>
<circle cx="640.1" cy="540.2" r="1.45" fill="#a3a3a3"/>
<circle cx="591.4" cy="542.4" r="1.45" fill="#a3a3a3"/>
<circle cx="552.4" cy="547.7" r="1.45" fill="#a3a3a3"/>
<circle cx="589.8" cy="544.3" r="1.45" fill="#a3a3a3"/>
<circle cx="617.4" cy="541.3" r="1.45" fill="#a3a3a3"/>
<circle cx="701.1" cy="526.8" r="1.45" fill="#a3a3a3"/>
<circle cx="537.1" cy="548.9" r="1.45" fill="#a3a3a3"/>
<circle cx="531.3" cy="553.6" r="1.45" fill="#a3a3a3"/>
<circle cx="544.0" cy="548.7" r="1.45" fill="#a3a3a3"/>
<circle cx="683.3" cy="532.8" r="1.45" fill="#a3a3a3"/>
<circle cx="658.4" cy="535.4" r="1.45" fill="#a3a3a3"/>
<circle cx="613.2" cy="539.9" r="1.45" fill="#a3a3a3"/>
<circle cx="613.8" cy="540.7" r="1.45" fill="#a3a3a3"/>
<circle cx="504.3" cy="558.2" r="1.45" fill="#a3a3a3"/>
<circle cx="551.7" cy="544.8" r="1.45" fill="#a3a3a3"/>
<circle cx="632.8" cy="540.6" r="1.45" fill="#a3a3a3"/>
<circle cx="635.3" cy="540.0" r="1.45" fill="#a3a3a3"/>
<circle cx="609.7" cy="542.8" r="1.45" fill="#a3a3a3"/>
<circle cx="511.8" cy="556.8" r="1.45" fill="#a3a3a3"/>
<circle cx="615.7" cy="539.7" r="1.45" fill="#a3a3a3"/>
<circle cx="642.9" cy="541.7" r="1.45" fill="#a3a3a3"/>
<circle cx="673.4" cy="534.7" r="1.45" fill="#a3a3a3"/>
<circle cx="514.4" cy="549.8" r="1.45" fill="#a3a3a3"/>
<circle cx="582.3" cy="543.3" r="1.45" fill="#a3a3a3"/>
<circle cx="532.2" cy="551.8" r="1.45" fill="#a3a3a3"/>
<circle cx="680.5" cy="532.1" r="1.45" fill="#a3a3a3"/>
<circle cx="652.0" cy="536.3" r="1.45" fill="#a3a3a3"/>
<circle cx="685.7" cy="531.0" r="1.45" fill="#a3a3a3"/>
<circle cx="513.2" cy="560.4" r="1.45" fill="#a3a3a3"/>
<circle cx="581.1" cy="545.1" r="1.45" fill="#a3a3a3"/>
<circle cx="603.0" cy="541.6" r="1.45" fill="#a3a3a3"/>
<circle cx="536.5" cy="549.4" r="1.45" fill="#a3a3a3"/>
<circle cx="639.4" cy="544.2" r="1.45" fill="#a3a3a3"/>
<circle cx="639.8" cy="539.9" r="1.45" fill="#a3a3a3"/>
<circle cx="644.1" cy="537.6" r="1.45" fill="#a3a3a3"/>
<circle cx="634.5" cy="542.7" r="1.45" fill="#a3a3a3"/>
<circle cx="592.5" cy="546.2" r="1.45" fill="#a3a3a3"/>
<circle cx="706.7" cy="525.6" r="1.45" fill="#a3a3a3"/>
<circle cx="690.4" cy="531.9" r="1.45" fill="#a3a3a3"/>
<circle cx="560.5" cy="547.8" r="1.45" fill="#a3a3a3"/>
<circle cx="661.8" cy="537.6" r="1.45" fill="#a3a3a3"/>
<circle cx="651.5" cy="539.8" r="1.45" fill="#a3a3a3"/>
<circle cx="697.8" cy="527.8" r="1.45" fill="#a3a3a3"/>
<circle cx="583.0" cy="542.5" r="1.45" fill="#a3a3a3"/>
<circle cx="584.4" cy="545.9" r="1.45" fill="#a3a3a3"/>
<circle cx="636.7" cy="540.9" r="1.45" fill="#a3a3a3"/>
<circle cx="592.6" cy="542.6" r="1.45" fill="#a3a3a3"/>
<circle cx="631.5" cy="541.6" r="1.45" fill="#a3a3a3"/>
<circle cx="549.2" cy="546.4" r="1.45" fill="#a3a3a3"/>
<circle cx="500.5" cy="552.4" r="1.45" fill="#a3a3a3"/>
<circle cx="568.7" cy="543.6" r="1.45" fill="#a3a3a3"/>
<circle cx="678.5" cy="535.1" r="1.45" fill="#a3a3a3"/>
<circle cx="508.8" cy="558.9" r="1.45" fill="#a3a3a3"/>
<circle cx="602.2" cy="542.8" r="1.45" fill="#a3a3a3"/>
<circle cx="703.0" cy="526.7" r="1.45" fill="#a3a3a3"/>
<circle cx="654.2" cy="536.4" r="1.45" fill="#a3a3a3"/>
<circle cx="517.8" cy="549.6" r="1.45" fill="#a3a3a3"/>
<circle cx="702.1" cy="526.5" r="1.45" fill="#a3a3a3"/>
<circle cx="621.0" cy="540.8" r="1.45" fill="#a3a3a3"/>
<circle cx="646.8" cy="539.0" r="1.45" fill="#a3a3a3"/>
<circle cx="636.6" cy="539.4" r="1.45" fill="#a3a3a3"/>
<circle cx="496.7" cy="554.7" r="1.45" fill="#a3a3a3"/>
<circle cx="551.8" cy="550.8" r="1.45" fill="#a3a3a3"/>
<circle cx="704.6" cy="526.3" r="1.45" fill="#a3a3a3"/>
<circle cx="542.2" cy="549.4" r="1.45" fill="#a3a3a3"/>
<circle cx="613.6" cy="540.9" r="1.45" fill="#a3a3a3"/>
<circle cx="510.9" cy="554.9" r="1.45" fill="#a3a3a3"/>
<circle cx="701.3" cy="528.1" r="1.45" fill="#a3a3a3"/>
<circle cx="633.0" cy="540.1" r="1.45" fill="#a3a3a3"/>
<circle cx="560.1" cy="548.1" r="1.45" fill="#a3a3a3"/>
<circle cx="590.7" cy="541.4" r="1.45" fill="#a3a3a3"/>
<circle cx="589.2" cy="542.9" r="1.45" fill="#a3a3a3"/>
<circle cx="604.9" cy="544.2" r="1.45" fill="#a3a3a3"/>
<circle cx="582.9" cy="545.0" r="1.45" fill="#a3a3a3"/>
<circle cx="685.1" cy="531.3" r="1.45" fill="#a3a3a3"/>
<circle cx="550.4" cy="553.0" r="1.45" fill="#a3a3a3"/>
<circle cx="518.9" cy="550.3" r="1.45" fill="#a3a3a3"/>
<circle cx="634.8" cy="540.7" r="1.45" fill="#a3a3a3"/>
<circle cx="611.7" cy="542.2" r="1.45" fill="#a3a3a3"/>
<circle cx="528.9" cy="554.5" r="1.45" fill="#a3a3a3"/>
<circle cx="636.7" cy="541.5" r="1.45" fill="#a3a3a3"/>
<circle cx="630.7" cy="543.7" r="1.45" fill="#a3a3a3"/>
<circle cx="612.8" cy="540.9" r="1.45" fill="#a3a3a3"/>
<circle cx="557.0" cy="545.6" r="1.45" fill="#a3a3a3"/>
<circle cx="554.1" cy="547.7" r="1.45" fill="#a3a3a3"/>
<circle cx="619.0" cy="539.7" r="1.45" fill="#a3a3a3"/>
<circle cx="574.1" cy="544.1" r="1.45" fill="#a3a3a3"/>
<circle cx="601.5" cy="541.0" r="1.45" fill="#a3a3a3"/>
<circle cx="535.7" cy="551.0" r="1.45" fill="#a3a3a3"/>
<circle cx="571.0" cy="546.9" r="1.45" fill="#a3a3a3"/>
<circle cx="662.1" cy="535.7" r="1.45" fill="#a3a3a3"/>
<circle cx="643.6" cy="538.3" r="1.45" fill="#a3a3a3"/>
<circle cx="589.0" cy="542.5" r="1.45" fill="#a3a3a3"/>
<circle cx="653.7" cy="538.7" r="1.45" fill="#a3a3a3"/>
<circle cx="663.1" cy="535.1" r="1.45" fill="#a3a3a3"/>
<circle cx="553.6" cy="548.1" r="1.45" fill="#a3a3a3"/>
<circle cx="573.4" cy="545.8" r="1.45" fill="#a3a3a3"/>
<circle cx="634.5" cy="539.8" r="1.45" fill="#a3a3a3"/>
<circle cx="563.0" cy="542.9" r="1.45" fill="#a3a3a3"/>
<circle cx="500.1" cy="555.0" r="1.45" fill="#a3a3a3"/>
<circle cx="665.1" cy="537.7" r="1.45" fill="#a3a3a3"/>
<circle cx="499.5" cy="556.2" r="1.45" fill="#a3a3a3"/>
<circle cx="529.3" cy="549.5" r="1.45" fill="#a3a3a3"/>
<circle cx="555.9" cy="545.8" r="1.45" fill="#a3a3a3"/>
<circle cx="693.2" cy="531.4" r="1.45" fill="#a3a3a3"/>
<circle cx="667.3" cy="537.9" r="1.45" fill="#a3a3a3"/>
<circle cx="684.7" cy="531.1" r="1.45" fill="#a3a3a3"/>
<circle cx="520.9" cy="550.7" r="1.45" fill="#a3a3a3"/>
<circle cx="610.2" cy="542.2" r="1.45" fill="#a3a3a3"/>
<circle cx="558.6" cy="544.5" r="1.45" fill="#a3a3a3"/>
<circle cx="571.4" cy="546.1" r="1.45" fill="#a3a3a3"/>
<circle cx="615.0" cy="540.0" r="1.45" fill="#a3a3a3"/>
<circle cx="586.1" cy="542.5" r="1.45" fill="#a3a3a3"/>
<circle cx="671.5" cy="535.8" r="1.45" fill="#a3a3a3"/>
<circle cx="575.7" cy="546.5" r="1.45" fill="#a3a3a3"/>
<circle cx="689.5" cy="530.1" r="1.45" fill="#a3a3a3"/>
<circle cx="496.2" cy="554.2" r="1.45" fill="#a3a3a3"/>
<circle cx="503.9" cy="559.7" r="1.45" fill="#a3a3a3"/>
<circle cx="526.5" cy="555.4" r="1.45" fill="#a3a3a3"/>
<circle cx="703.3" cy="527.4" r="1.45" fill="#a3a3a3"/>
<circle cx="553.0" cy="546.5" r="1.45" fill="#a3a3a3"/>
<circle cx="500.7" cy="561.7" r="1.45" fill="#a3a3a3"/>
<circle cx="554.0" cy="547.5" r="1.45" fill="#a3a3a3"/>
<circle cx="693.5" cy="530.5" r="1.45" fill="#a3a3a3"/>
<circle cx="507.1" cy="553.9" r="1.45" fill="#a3a3a3"/>
<circle cx="622.8" cy="541.4" r="1.45" fill="#a3a3a3"/>
<circle cx="663.0" cy="535.9" r="1.45" fill="#a3a3a3"/>
<circle cx="666.5" cy="534.7" r="1.45" fill="#a3a3a3"/>
<circle cx="531.6" cy="548.7" r="1.45" fill="#a3a3a3"/>
<circle cx="644.5" cy="538.0" r="1.45" fill="#a3a3a3"/>
<circle cx="631.8" cy="543.3" r="1.45" fill="#a3a3a3"/>
<circle cx="538.4" cy="552.7" r="1.45" fill="#a3a3a3"/>
<circle cx="492.6" cy="556.4" r="1.45" fill="#a3a3a3"/>
<circle cx="510.6" cy="558.2" r="1.45" fill="#a3a3a3"/>
<circle cx="641.7" cy="537.7" r="1.45" fill="#a3a3a3"/>
<circle cx="679.0" cy="533.9" r="1.45" fill="#a3a3a3"/>
<circle cx="525.3" cy="550.2" r="1.45" fill="#a3a3a3"/>
<circle cx="509.7" cy="556.2" r="1.45" fill="#a3a3a3"/>
<circle cx="630.9" cy="544.3" r="1.45" fill="#a3a3a3"/>
<circle cx="497.2" cy="562.7" r="1.45" fill="#a3a3a3"/>
<circle cx="538.0" cy="555.3" r="1.45" fill="#a3a3a3"/>
<circle cx="553.5" cy="548.4" r="1.45" fill="#a3a3a3"/>
<circle cx="703.7" cy="527.2" r="1.45" fill="#a3a3a3"/>
<circle cx="699.6" cy="528.1" r="1.45" fill="#a3a3a3"/>
<circle cx="586.5" cy="542.8" r="1.45" fill="#a3a3a3"/>
<circle cx="502.2" cy="551.6" r="1.45" fill="#a3a3a3"/>
<circle cx="652.0" cy="536.6" r="1.45" fill="#a3a3a3"/>
<circle cx="595.6" cy="544.9" r="1.45" fill="#a3a3a3"/>
<circle cx="623.6" cy="543.6" r="1.45" fill="#a3a3a3"/>
<circle cx="581.6" cy="541.8" r="1.45" fill="#a3a3a3"/>
<circle cx="532.4" cy="555.6" r="1.45" fill="#a3a3a3"/>
<circle cx="637.0" cy="540.0" r="1.45" fill="#a3a3a3"/>
<circle cx="529.1" cy="549.0" r="1.45" fill="#a3a3a3"/>
<circle cx="698.9" cy="529.7" r="1.45" fill="#a3a3a3"/>
<circle cx="638.7" cy="541.7" r="1.45" fill="#a3a3a3"/>
<circle cx="653.3" cy="539.1" r="1.45" fill="#a3a3a3"/>
<circle cx="557.4" cy="543.7" r="1.45" fill="#a3a3a3"/>
<circle cx="671.1" cy="534.5" r="1.45" fill="#a3a3a3"/>
<circle cx="592.4" cy="545.5" r="1.45" fill="#a3a3a3"/>
<circle cx="615.1" cy="543.2" r="1.45" fill="#a3a3a3"/>
<circle cx="606.4" cy="543.5" r="1.45" fill="#a3a3a3"/>
<circle cx="505.7" cy="558.9" r="1.45" fill="#a3a3a3"/>
<circle cx="510.6" cy="553.8" r="1.45" fill="#a3a3a3"/>
<circle cx="501.4" cy="558.0" r="1.45" fill="#a3a3a3"/>
<circle cx="522.6" cy="555.2" r="1.45" fill="#a3a3a3"/>
<circle cx="500.8" cy="551.9" r="1.45" fill="#a3a3a3"/>
<circle cx="523.3" cy="554.4" r="1.45" fill="#a3a3a3"/>
<circle cx="673.2" cy="536.5" r="1.45" fill="#a3a3a3"/>
<circle cx="605.3" cy="544.3" r="1.45" fill="#a3a3a3"/>
<circle cx="521.8" cy="550.7" r="1.45" fill="#a3a3a3"/>
<circle cx="588.0" cy="542.5" r="1.45" fill="#a3a3a3"/>
<circle cx="675.9" cy="536.3" r="1.45" fill="#a3a3a3"/>
<circle cx="612.2" cy="542.6" r="1.45" fill="#a3a3a3"/>
<circle cx="614.4" cy="542.1" r="1.45" fill="#a3a3a3"/>
<circle cx="539.7" cy="551.2" r="1.45" fill="#a3a3a3"/>
<circle cx="704.7" cy="527.5" r="1.45" fill="#a3a3a3"/>
<circle cx="650.4" cy="538.0" r="1.45" fill="#a3a3a3"/>
<circle cx="555.8" cy="552.5" r="1.45" fill="#a3a3a3"/>
<circle cx="504.7" cy="553.8" r="1.45" fill="#a3a3a3"/>
<circle cx="629.8" cy="542.1" r="1.45" fill="#a3a3a3"/>
<circle cx="674.0" cy="535.0" r="1.45" fill="#a3a3a3"/>
<circle cx="669.2" cy="537.2" r="1.45" fill="#a3a3a3"/>
<circle cx="707.5" cy="525.3" r="1.45" fill="#a3a3a3"/>
<circle cx="532.8" cy="554.9" r="1.45" fill="#a3a3a3"/>
<circle cx="613.6" cy="543.1" r="1.45" fill="#a3a3a3"/>
<circle cx="543.5" cy="547.7" r="1.45" fill="#a3a3a3"/>
<circle cx="509.6" cy="552.8" r="1.45" fill="#a3a3a3"/>
<circle cx="512.8" cy="554.3" r="1.45" fill="#a3a3a3"/>
<circle cx="621.4" cy="541.0" r="1.45" fill="#a3a3a3"/>
<circle cx="648.1" cy="539.7" r="1.45" fill="#a3a3a3"/>
<circle cx="598.2" cy="541.0" r="1.45" fill="#a3a3a3"/>
<circle cx="661.5" cy="535.4" r="1.45" fill="#a3a3a3"/>
<circle cx="643.3" cy="538.0" r="1.45" fill="#a3a3a3"/>
<circle cx="555.4" cy="545.7" r="1.45" fill="#a3a3a3"/>
<circle cx="531.2" cy="550.3" r="1.45" fill="#a3a3a3"/>
<circle cx="599.6" cy="541.4" r="1.45" fill="#a3a3a3"/>
<circle cx="645.7" cy="537.2" r="1.45" fill="#a3a3a3"/>
<circle cx="703.8" cy="525.6" r="1.45" fill="#a3a3a3"/>
<circle cx="598.5" cy="546.1" r="1.45" fill="#a3a3a3"/>
<circle cx="494.9" cy="556.5" r="1.45" fill="#a3a3a3"/>
<circle cx="593.9" cy="542.1" r="1.45" fill="#a3a3a3"/>
<circle cx="529.8" cy="550.7" r="1.45" fill="#a3a3a3"/>
<circle cx="667.8" cy="537.8" r="1.45" fill="#a3a3a3"/>
<circle cx="590.3" cy="542.4" r="1.45" fill="#a3a3a3"/>
<circle cx="511.7" cy="551.0" r="1.45" fill="#a3a3a3"/>
<circle cx="590.8" cy="546.4" r="1.45" fill="#a3a3a3"/>
<circle cx="555.7" cy="550.0" r="1.45" fill="#a3a3a3"/>
<circle cx="501.6" cy="554.1" r="1.45" fill="#a3a3a3"/>
<circle cx="637.5" cy="540.6" r="1.45" fill="#a3a3a3"/>
<circle cx="572.8" cy="546.7" r="1.45" fill="#a3a3a3"/>
<circle cx="570.5" cy="542.6" r="1.45" fill="#a3a3a3"/>
<circle cx="612.9" cy="542.4" r="1.45" fill="#a3a3a3"/>
<circle cx="576.5" cy="544.1" r="1.45" fill="#a3a3a3"/>
<circle cx="648.0" cy="537.7" r="1.45" fill="#a3a3a3"/>
<circle cx="678.0" cy="532.6" r="1.45" fill="#a3a3a3"/>
<circle cx="662.6" cy="536.4" r="1.45" fill="#a3a3a3"/>
<circle cx="643.0" cy="540.8" r="1.45" fill="#a3a3a3"/>
<circle cx="660.9" cy="538.4" r="1.45" fill="#a3a3a3"/>
<circle cx="625.7" cy="542.6" r="1.45" fill="#a3a3a3"/>
<circle cx="636.1" cy="541.9" r="1.45" fill="#a3a3a3"/>
<circle cx="545.9" cy="548.0" r="1.45" fill="#a3a3a3"/>
<circle cx="695.5" cy="529.0" r="1.45" fill="#a3a3a3"/>
<circle cx="509.3" cy="554.5" r="1.45" fill="#a3a3a3"/>
<circle cx="661.0" cy="535.8" r="1.45" fill="#a3a3a3"/>
<circle cx="580.3" cy="544.0" r="1.45" fill="#a3a3a3"/>
<circle cx="567.8" cy="543.5" r="1.45" fill="#a3a3a3"/>
<circle cx="610.9" cy="542.1" r="1.45" fill="#a3a3a3"/>
<circle cx="688.1" cy="531.2" r="1.45" fill="#a3a3a3"/>
<circle cx="633.1" cy="543.5" r="1.45" fill="#a3a3a3"/>
<circle cx="675.5" cy="519.3" r="1.45" fill="#a3a3a3"/>
<circle cx="676.7" cy="525.1" r="1.45" fill="#a3a3a3"/>
<circle cx="682.5" cy="527.5" r="1.45" fill="#a3a3a3"/>
<circle cx="681.2" cy="523.2" r="1.45" fill="#a3a3a3"/>
<circle cx="681.1" cy="527.0" r="1.45" fill="#a3a3a3"/>
<circle cx="676.9" cy="522.9" r="1.45" fill="#a3a3a3"/>
<circle cx="676.7" cy="530.4" r="1.45" fill="#a3a3a3"/>
<circle cx="684.2" cy="524.0" r="1.45" fill="#a3a3a3"/>
<circle cx="675.4" cy="524.1" r="1.45" fill="#a3a3a3"/>
<circle cx="688.6" cy="526.2" r="1.45" fill="#a3a3a3"/>
<circle cx="673.1" cy="532.4" r="1.45" fill="#a3a3a3"/>
<circle cx="686.2" cy="528.7" r="1.45" fill="#a3a3a3"/>
<circle cx="679.2" cy="520.7" r="1.45" fill="#a3a3a3"/>
<circle cx="685.0" cy="526.8" r="1.45" fill="#a3a3a3"/>
<circle cx="692.4" cy="525.8" r="1.45" fill="#a3a3a3"/>
<circle cx="691.8" cy="529.2" r="1.45" fill="#a3a3a3"/>
<circle cx="685.6" cy="528.6" r="1.45" fill="#a3a3a3"/>
<circle cx="691.1" cy="528.0" r="1.45" fill="#a3a3a3"/>
<circle cx="686.4" cy="523.9" r="1.45" fill="#a3a3a3"/>
<circle cx="681.8" cy="523.1" r="1.45" fill="#a3a3a3"/>
<circle cx="688.3" cy="527.3" r="1.45" fill="#a3a3a3"/>
<circle cx="673.5" cy="531.5" r="1.45" fill="#a3a3a3"/>
<circle cx="689.0" cy="530.4" r="1.45" fill="#a3a3a3"/>
<circle cx="681.1" cy="520.1" r="1.45" fill="#a3a3a3"/>
<circle cx="673.5" cy="529.4" r="1.45" fill="#a3a3a3"/>
<circle cx="686.5" cy="528.5" r="1.45" fill="#a3a3a3"/>
<circle cx="672.6" cy="527.6" r="1.45" fill="#a3a3a3"/>
<circle cx="692.9" cy="528.7" r="1.45" fill="#a3a3a3"/>
<circle cx="692.4" cy="525.7" r="1.45" fill="#a3a3a3"/>
<circle cx="682.0" cy="527.2" r="1.45" fill="#a3a3a3"/>
<circle cx="682.2" cy="525.3" r="1.45" fill="#a3a3a3"/>
<circle cx="688.9" cy="527.5" r="1.45" fill="#a3a3a3"/>
<circle cx="677.2" cy="528.4" r="1.45" fill="#a3a3a3"/>
<circle cx="672.6" cy="524.1" r="1.45" fill="#a3a3a3"/>
<circle cx="686.3" cy="522.6" r="1.45" fill="#a3a3a3"/>
<circle cx="690.9" cy="527.1" r="1.45" fill="#a3a3a3"/>
<circle cx="670.3" cy="528.7" r="1.45" fill="#a3a3a3"/>
<circle cx="679.5" cy="526.2" r="1.45" fill="#a3a3a3"/>
<circle cx="671.5" cy="528.7" r="1.45" fill="#a3a3a3"/>
<circle cx="689.0" cy="525.0" r="1.45" fill="#a3a3a3"/>
<circle cx="675.7" cy="531.6" r="1.45" fill="#a3a3a3"/>
<circle cx="691.2" cy="529.1" r="1.45" fill="#a3a3a3"/>
<circle cx="691.4" cy="527.4" r="1.45" fill="#a3a3a3"/>
<circle cx="680.2" cy="522.7" r="1.45" fill="#a3a3a3"/>
<circle cx="678.3" cy="519.7" r="1.45" fill="#a3a3a3"/>
<circle cx="675.2" cy="525.7" r="1.45" fill="#a3a3a3"/>
<circle cx="677.2" cy="531.5" r="1.45" fill="#a3a3a3"/>
<circle cx="675.3" cy="520.7" r="1.45" fill="#a3a3a3"/>
<circle cx="680.0" cy="530.4" r="1.45" fill="#a3a3a3"/>
<circle cx="686.8" cy="528.2" r="1.45" fill="#a3a3a3"/>
<circle cx="676.4" cy="529.6" r="1.45" fill="#a3a3a3"/>
<circle cx="687.0" cy="529.8" r="1.45" fill="#a3a3a3"/>
<circle cx="688.7" cy="526.3" r="1.45" fill="#a3a3a3"/>
<circle cx="674.1" cy="529.3" r="1.45" fill="#a3a3a3"/>
<circle cx="675.8" cy="522.9" r="1.45" fill="#a3a3a3"/>
<circle cx="673.7" cy="524.3" r="1.45" fill="#a3a3a3"/>
<circle cx="688.6" cy="524.1" r="1.45" fill="#a3a3a3"/>
<circle cx="676.5" cy="520.8" r="1.45" fill="#a3a3a3"/>
<circle cx="671.0" cy="526.2" r="1.45" fill="#a3a3a3"/>
<circle cx="675.2" cy="529.3" r="1.45" fill="#a3a3a3"/>
<circle cx="677.4" cy="524.7" r="1.45" fill="#a3a3a3"/>
<circle cx="671.5" cy="527.2" r="1.45" fill="#a3a3a3"/>
<circle cx="672.4" cy="532.9" r="1.45" fill="#a3a3a3"/>
<circle cx="687.4" cy="526.8" r="1.45" fill="#a3a3a3"/>
<circle cx="686.2" cy="530.7" r="1.45" fill="#a3a3a3"/>
<circle cx="673.4" cy="524.5" r="1.45" fill="#a3a3a3"/>
<circle cx="677.7" cy="532.0" r="1.45" fill="#a3a3a3"/>
<circle cx="690.9" cy="527.8" r="1.45" fill="#a3a3a3"/>
<circle cx="680.2" cy="531.7" r="1.45" fill="#a3a3a3"/>
<circle cx="676.3" cy="519.3" r="1.45" fill="#a3a3a3"/>
<circle cx="692.8" cy="528.9" r="1.45" fill="#a3a3a3"/>
<circle cx="675.0" cy="522.5" r="1.45" fill="#a3a3a3"/>
<circle cx="682.1" cy="524.2" r="1.45" fill="#a3a3a3"/>
<circle cx="677.5" cy="528.4" r="1.45" fill="#a3a3a3"/>
<circle cx="677.9" cy="521.1" r="1.45" fill="#a3a3a3"/>
<circle cx="678.6" cy="529.7" r="1.45" fill="#a3a3a3"/>
<circle cx="675.9" cy="522.9" r="1.45" fill="#a3a3a3"/>
<circle cx="677.5" cy="528.2" r="1.45" fill="#a3a3a3"/>
<circle cx="677.2" cy="520.1" r="1.45" fill="#a3a3a3"/>
<circle cx="682.1" cy="523.6" r="1.45" fill="#a3a3a3"/>
<circle cx="679.6" cy="528.5" r="1.45" fill="#a3a3a3"/>
<circle cx="675.0" cy="519.3" r="1.45" fill="#a3a3a3"/>
<circle cx="689.8" cy="524.5" r="1.45" fill="#a3a3a3"/>
<circle cx="689.4" cy="530.4" r="1.45" fill="#a3a3a3"/>
<circle cx="681.2" cy="524.9" r="1.45" fill="#a3a3a3"/>
<circle cx="686.4" cy="528.4" r="1.45" fill="#a3a3a3"/>
<circle cx="681.7" cy="520.9" r="1.45" fill="#a3a3a3"/>
<circle cx="678.7" cy="532.3" r="1.45" fill="#a3a3a3"/>
<circle cx="678.0" cy="521.3" r="1.45" fill="#a3a3a3"/>
<circle cx="675.9" cy="533.0" r="1.45" fill="#a3a3a3"/>
<circle cx="500.0" cy="463.0" r="1.5" fill="#a3a3a3"/>
<circle cx="496.9" cy="467.0" r="1.5" fill="#a3a3a3"/>
<circle cx="494.3" cy="471.0" r="1.5" fill="#a3a3a3"/>
<path d="M491.4,474.9 C490.7,476.1 488.4,479.6 487.0,482.0 C485.6,484.4 484.5,486.8 483.0,489.5 C481.5,492.2 479.5,495.3 478.0,498.0 C476.5,500.7 475.4,503.0 474.0,505.5 C472.6,508.0 470.5,511.8 469.8,513.1" fill="none" stroke="#a3a3a3" stroke-width="3.0" stroke-linecap="round"/>
<path d="M467.5,517.1 C467.3,517.7 466.6,519.9 466.4,520.5" fill="none" stroke="#a3a3a3" stroke-width="3.0" stroke-linecap="round"/>
<path d="M466.6,540.2 C467.3,541.5 469.4,545.2 471.0,548.0 C472.6,550.8 474.3,554.0 476.0,557.0 C477.7,560.0 479.4,563.0 481.0,566.0 C482.6,569.0 485.0,573.2 485.8,574.7" fill="none" stroke="#a3a3a3" stroke-width="3.0" stroke-linecap="round" stroke-dasharray="5 3 40"/>
<path d="M497.8,480.0 C497.2,480.8 495.2,483.0 494.0,484.5 C492.8,486.0 491.8,487.3 490.5,489.2 C489.2,491.1 487.8,493.7 486.5,496.0 C485.2,498.3 483.7,500.7 482.5,502.8 C481.3,504.9 480.4,506.6 479.5,508.5 C478.6,510.4 477.6,512.4 476.8,514.2 C476.0,516.0 475.3,518.0 474.8,519.5 C474.3,521.0 474.2,522.3 474.0,523.3 C473.8,524.3 473.8,524.4 473.8,525.5 C473.9,526.6 473.9,528.1 474.3,530.0 C474.7,531.9 475.1,534.3 476.0,537.0 C476.9,539.7 478.3,542.8 480.0,546.0 C481.7,549.2 483.9,552.2 486.0,556.0 C488.1,559.8 491.4,566.6 492.5,568.7" fill="none" stroke="#a3a3a3" stroke-width="2.7" stroke-linecap="round"/>
<circle cx="500.1" cy="462.7" r="1.45" fill="#a3a3a3"/>
<circle cx="497.1" cy="466.9" r="1.45" fill="#a3a3a3"/>
<circle cx="505.7" cy="467.3" r="1.45" fill="#a3a3a3"/>
<circle cx="518.7" cy="467.2" r="1.45" fill="#a3a3a3"/>
<circle cx="500.7" cy="473.3" r="1.45" fill="#a3a3a3"/>
<circle cx="511.0" cy="473.8" r="1.45" fill="#a3a3a3"/>
<circle cx="515.0" cy="474.9" r="1.45" fill="#a3a3a3"/>
<circle cx="517.0" cy="475.5" r="1.45" fill="#a3a3a3"/>
<circle cx="532.9" cy="461.0" r="1.45" fill="#a3a3a3"/>
<circle cx="536.8" cy="459.6" r="1.45" fill="#a3a3a3"/>
<circle cx="526.6" cy="470.6" r="1.45" fill="#a3a3a3"/>
<circle cx="558.0" cy="464.3" r="1.45" fill="#a3a3a3"/>
<circle cx="547.4" cy="478.2" r="1.45" fill="#a3a3a3"/>
<circle cx="538.8" cy="481.5" r="1.45" fill="#a3a3a3"/>
<circle cx="541.5" cy="483.1" r="1.45" fill="#a3a3a3"/>
<circle cx="517.5" cy="449.0" r="1.45" fill="#a3a3a3"/>
<circle cx="535.8" cy="449.7" r="1.45" fill="#a3a3a3"/>
<circle cx="552.5" cy="443.4" r="1.45" fill="#a3a3a3"/>
<circle cx="532.6" cy="461.2" r="1.45" fill="#a3a3a3"/>
<circle cx="518.3" cy="466.9" r="1.45" fill="#a3a3a3"/>
<circle cx="506.4" cy="466.4" r="1.45" fill="#a3a3a3"/>
<circle cx="558.0" cy="464.1" r="1.45" fill="#a3a3a3"/>
<circle cx="577.9" cy="473.3" r="1.45" fill="#a3a3a3"/>
<circle cx="585.9" cy="470.4" r="1.45" fill="#a3a3a3"/>
<circle cx="599.4" cy="478.7" r="1.45" fill="#a3a3a3"/>
<circle cx="578.7" cy="482.3" r="1.45" fill="#a3a3a3"/>
<circle cx="599.0" cy="478.8" r="1.45" fill="#a3a3a3"/>
<circle cx="599.6" cy="482.0" r="1.45" fill="#a3a3a3"/>
<circle cx="603.9" cy="485.3" r="1.45" fill="#a3a3a3"/>
<circle cx="618.8" cy="488.5" r="1.45" fill="#a3a3a3"/>
<circle cx="683.0" cy="499.1" r="1.45" fill="#a3a3a3"/>
<circle cx="647.7" cy="502.4" r="1.45" fill="#a3a3a3"/>
<circle cx="654.1" cy="506.6" r="1.45" fill="#a3a3a3"/>
<circle cx="638.1" cy="507.7" r="1.45" fill="#a3a3a3"/>
<circle cx="709.7" cy="518.4" r="1.45" fill="#a3a3a3"/>
<circle cx="719.3" cy="518.4" r="1.45" fill="#a3a3a3"/>
<circle cx="737.4" cy="526.5" r="1.45" fill="#a3a3a3"/>
<circle cx="720.3" cy="530.1" r="1.45" fill="#a3a3a3"/>
<circle cx="713.9" cy="537.6" r="1.45" fill="#a3a3a3"/>
<circle cx="721.4" cy="538.0" r="1.45" fill="#a3a3a3"/>
<circle cx="616.7" cy="562.2" r="1.45" fill="#a3a3a3"/>
<circle cx="596.4" cy="556.8" r="1.45" fill="#a3a3a3"/>
<circle cx="611.4" cy="553.6" r="1.45" fill="#a3a3a3"/>
<circle cx="624.2" cy="553.6" r="1.45" fill="#a3a3a3"/>
<circle cx="633.8" cy="549.4" r="1.45" fill="#a3a3a3"/>
<circle cx="647.7" cy="549.4" r="1.45" fill="#a3a3a3"/>
<circle cx="657.3" cy="548.7" r="1.45" fill="#a3a3a3"/>
<circle cx="665.9" cy="541.9" r="1.45" fill="#a3a3a3"/>
<circle cx="684.0" cy="547.9" r="1.45" fill="#a3a3a3"/>
<circle cx="688.7" cy="547.2" r="1.45" fill="#a3a3a3"/>
<circle cx="495.1" cy="573.0" r="1.45" fill="#a3a3a3"/>
<circle cx="491.4" cy="581.6" r="1.45" fill="#a3a3a3"/>
<circle cx="500.7" cy="568.0" r="1.45" fill="#a3a3a3"/>
<circle cx="507.7" cy="564.7" r="1.45" fill="#a3a3a3"/>
<circle cx="515.6" cy="565.8" r="1.45" fill="#a3a3a3"/>
<circle cx="541.5" cy="564.7" r="1.45" fill="#a3a3a3"/>
<circle cx="552.7" cy="567.4" r="1.45" fill="#a3a3a3"/>
<circle cx="552.7" cy="562.1" r="1.45" fill="#a3a3a3"/>
<circle cx="463.3" cy="530.3" r="1.45" fill="#a3a3a3"/>
<circle cx="565.0" cy="556.5" r="1.45" fill="#a3a3a3"/>
<circle cx="579.5" cy="554.5" r="1.45" fill="#a3a3a3"/>
<circle cx="601.4" cy="553.8" r="1.45" fill="#a3a3a3"/>
<circle cx="611.3" cy="553.8" r="1.45" fill="#a3a3a3"/>
<circle cx="623.9" cy="553.1" r="1.45" fill="#a3a3a3"/>
<circle cx="637.1" cy="553.1" r="1.45" fill="#a3a3a3"/>
<circle cx="594.7" cy="551.8" r="1.45" fill="#a3a3a3"/>
<circle cx="604.0" cy="484.9" r="1.45" fill="#a3a3a3"/>
<circle cx="609.3" cy="488.9" r="1.45" fill="#a3a3a3"/>
<circle cx="619.2" cy="487.6" r="1.45" fill="#a3a3a3"/>
<circle cx="593.4" cy="488.2" r="1.45" fill="#a3a3a3"/>
<circle cx="577.5" cy="482.3" r="1.45" fill="#a3a3a3"/>
<circle cx="561.6" cy="480.3" r="1.45" fill="#a3a3a3"/>
<circle cx="654.3" cy="506.1" r="1.45" fill="#a3a3a3"/>
<circle cx="702.9" cy="518.2" r="1.45" fill="#a3a3a3"/>
<circle cx="710.2" cy="517.5" r="1.45" fill="#a3a3a3"/>
<circle cx="717.5" cy="522.2" r="1.45" fill="#a3a3a3"/>
<circle cx="698.3" cy="523.1" r="1.45" fill="#a3a3a3"/>
<circle cx="706.9" cy="522.8" r="1.45" fill="#a3a3a3"/>
<circle cx="736.7" cy="526.5" r="1.45" fill="#a3a3a3"/>
<circle cx="721.5" cy="529.4" r="1.45" fill="#a3a3a3"/>
<circle cx="710.2" cy="529.2" r="1.45" fill="#a3a3a3"/>
<circle cx="712.8" cy="538.0" r="1.45" fill="#a3a3a3"/>
<circle cx="692.3" cy="538.7" r="1.45" fill="#a3a3a3"/>
<circle cx="688.3" cy="548.0" r="1.45" fill="#a3a3a3"/>
<circle cx="682.1" cy="546.0" r="1.45" fill="#a3a3a3"/>
<circle cx="657.2" cy="549.3" r="1.45" fill="#a3a3a3"/>
<circle cx="647.3" cy="548.6" r="1.45" fill="#a3a3a3"/>
<circle cx="643.3" cy="544.7" r="1.45" fill="#a3a3a3"/>
<circle cx="669.8" cy="508.9" r="1.45" fill="#a3a3a3"/>
<circle cx="654.6" cy="506.3" r="1.45" fill="#a3a3a3"/>
<circle cx="648.0" cy="503.0" r="1.45" fill="#a3a3a3"/>
<circle cx="685.0" cy="513.5" r="1.45" fill="#a3a3a3"/>
<line x1="452.3" y1="525.50" x2="747.2" y2="525.50" stroke="#ff1a1a" stroke-opacity="0.62" stroke-width="2.8"/>
<circle cx="527.8" cy="424.6" r="1.6" fill="#d40f0f"/>
<circle cx="540.5" cy="456.1" r="1.6" fill="#d40f0f"/>
<circle cx="542.6" cy="457.7" r="1.6" fill="#d40f0f"/>
<circle cx="505.6" cy="455.3" r="1.6" fill="#d40f0f"/>
<circle cx="514.0" cy="469.6" r="1.6" fill="#d40f0f"/>
<circle cx="524.6" cy="472.0" r="1.6" fill="#d40f0f"/>
<circle cx="531.8" cy="468.8" r="1.6" fill="#d40f0f"/>
<circle cx="536.2" cy="470.1" r="1.6" fill="#d40f0f"/>
<circle cx="537.4" cy="466.4" r="1.6" fill="#d40f0f"/>
<circle cx="528.6" cy="473.6" r="1.6" fill="#d40f0f"/>
<circle cx="522.3" cy="478.4" r="1.6" fill="#d40f0f"/>
<circle cx="523.8" cy="479.5" r="1.6" fill="#d40f0f"/>
<circle cx="528.3" cy="481.1" r="1.6" fill="#d40f0f"/>
<circle cx="535.3" cy="478.0" r="1.6" fill="#d40f0f"/>
<circle cx="533.9" cy="486.8" r="1.6" fill="#d40f0f"/>
<circle cx="542.1" cy="486.3" r="1.6" fill="#d40f0f"/>
<circle cx="544.5" cy="491.1" r="1.6" fill="#d40f0f"/>
<circle cx="550.4" cy="483.1" r="1.6" fill="#d40f0f"/>
<circle cx="555.2" cy="485.0" r="1.6" fill="#d40f0f"/>
<circle cx="554.8" cy="489.5" r="1.6" fill="#d40f0f"/>
<circle cx="557.2" cy="488.7" r="1.6" fill="#d40f0f"/>
<circle cx="554.1" cy="475.2" r="1.6" fill="#d40f0f"/>
<circle cx="555.6" cy="472.0" r="1.6" fill="#d40f0f"/>
<circle cx="568.4" cy="479.5" r="1.6" fill="#d40f0f"/>
<circle cx="575.8" cy="486.3" r="1.6" fill="#d40f0f"/>
<circle cx="581.9" cy="484.7" r="1.6" fill="#d40f0f"/>
<circle cx="583.9" cy="483.6" r="1.6" fill="#d40f0f"/>
<circle cx="581.4" cy="493.5" r="1.6" fill="#d40f0f"/>
<circle cx="593.0" cy="496.6" r="1.6" fill="#d40f0f"/>
<circle cx="550.9" cy="494.3" r="1.6" fill="#d40f0f"/>
<circle cx="546.1" cy="491.9" r="1.6" fill="#d40f0f"/>
<circle cx="543.2" cy="487.4" r="1.6" fill="#d40f0f"/>
<circle cx="570.0" cy="487.9" r="1.6" fill="#d40f0f"/>
<circle cx="608.1" cy="495.9" r="1.6" fill="#d40f0f"/>
<circle cx="612.4" cy="494.4" r="1.6" fill="#d40f0f"/>
<circle cx="593.2" cy="495.9" r="1.6" fill="#d40f0f"/>
<circle cx="593.8" cy="492.7" r="1.6" fill="#d40f0f"/>
<circle cx="553.8" cy="577.1" r="1.6" fill="#d40f0f"/>
<circle cx="667.3" cy="560.5" r="1.6" fill="#d40f0f"/>
<circle cx="671.2" cy="554.1" r="1.6" fill="#d40f0f"/>
<circle cx="673.4" cy="554.1" r="1.6" fill="#d40f0f"/>
<circle cx="675.6" cy="554.1" r="1.6" fill="#d40f0f"/>
<circle cx="671.5" cy="558.1" r="1.6" fill="#d40f0f"/>
<circle cx="673.4" cy="558.1" r="1.6" fill="#d40f0f"/>
<circle cx="675.3" cy="558.1" r="1.6" fill="#d40f0f"/>
<circle cx="679.0" cy="553.0" r="1.6" fill="#d40f0f"/>
<circle cx="682.0" cy="552.9" r="1.6" fill="#d40f0f"/>
<circle cx="685.0" cy="554.0" r="1.6" fill="#d40f0f"/>
<circle cx="679.0" cy="556.5" r="1.6" fill="#d40f0f"/>
<circle cx="681.0" cy="559.0" r="1.6" fill="#d40f0f"/>
<circle cx="684.0" cy="561.5" r="1.6" fill="#d40f0f"/>
<circle cx="680.0" cy="562.0" r="1.6" fill="#d40f0f"/>
<circle cx="676.0" cy="568.4" r="1.6" fill="#d40f0f"/>
<polygon points="632.4,405.5 634.2,408.3 630.6,408.3" fill="none" stroke="#dd1c1c" stroke-width="1.25" stroke-linejoin="round"/>
<text x="636.9" y="414.0" font-size="14.4" text-anchor="start" font-weight="normal" fill="#000">dSaCas9</text>
<text x="696.0" y="409.1" font-size="10.4" letter-spacing="0.7">KRAB</text>
<text x="519.9" y="421.0" font-size="14.4" text-anchor="start" font-weight="normal" font-style="italic" fill="#000">Pdcd1</text>
<text x="561.6" y="437.7" font-size="14.4" text-anchor="start" font-weight="normal" font-style="italic" fill="#000">Gzma</text>
<text x="601.0" y="447.6" font-size="14.4" text-anchor="start" font-weight="normal" font-style="italic" fill="#000">Cd8</text>
<text x="637.1" y="458.3" font-size="14.4" text-anchor="start" font-weight="normal" font-style="italic" fill="#000">Btla</text>
<text x="616.1" y="472.9" font-size="14.4" text-anchor="start" font-weight="normal" font-style="italic" fill="#000">Ccl5</text>
<text x="667.8" y="494.6" font-size="14.4" text-anchor="start" font-weight="normal" font-style="italic" fill="#000">Irf7</text>
<text x="560.8" y="581.8" font-size="14.4" text-anchor="start" font-weight="normal" font-style="italic" fill="#000">Mmd2</text>
<text x="690.7" y="568.3" font-size="14.4" text-anchor="start" font-weight="normal" font-style="italic" fill="#000">Mup</text>
<text x="690.0" y="585.5" font-size="14.4" text-anchor="start" font-weight="normal" fill="#000">family</text>
<text x="690.0" y="602.1" font-size="14.4" text-anchor="start" font-weight="normal" fill="#000">genes</text>
<line x1="560.40" y1="437.30" x2="543.20" y2="454.50" stroke="#000" stroke-width="1.1"/>
<line x1="599.40" y1="443.40" x2="538.20" y2="466.40" stroke="#000" stroke-width="1.1"/>
<line x1="599.40" y1="443.40" x2="537.00" y2="468.60" stroke="#000" stroke-width="1.1"/>
<line x1="634.00" y1="453.30" x2="528.60" y2="474.00" stroke="#000" stroke-width="1.1"/>
<line x1="612.90" y1="467.20" x2="554.80" y2="472.80" stroke="#000" stroke-width="1.1"/>
<line x1="664.60" y1="489.70" x2="608.20" y2="495.30" stroke="#000" stroke-width="1.1"/>
<polygon points="550.2,642.9 554.8,642.9 552.5,647" fill="none" stroke="#999" stroke-width="1.0"/>
<rect x="451.7" y="397.9" width="296.1" height="255.8" fill="none" stroke="#333" stroke-width="1.2"/>
<line x1="445.20" y1="406.88" x2="451.70" y2="406.88" stroke="#000" stroke-width="1.1"/>
<text x="439.5" y="412.0" font-size="14.4" text-anchor="end" font-weight="normal" fill="#000">6</text>
<line x1="445.20" y1="446.42" x2="451.70" y2="446.42" stroke="#000" stroke-width="1.1"/>
<text x="439.5" y="451.5" font-size="14.4" text-anchor="end" font-weight="normal" fill="#000">4</text>
<line x1="445.20" y1="485.96" x2="451.70" y2="485.96" stroke="#000" stroke-width="1.1"/>
<text x="439.5" y="491.1" font-size="14.4" text-anchor="end" font-weight="normal" fill="#000">2</text>
<line x1="445.20" y1="525.50" x2="451.70" y2="525.50" stroke="#000" stroke-width="1.1"/>
<text x="439.5" y="530.6" font-size="14.4" text-anchor="end" font-weight="normal" fill="#000">0</text>
<line x1="445.20" y1="565.04" x2="451.70" y2="565.04" stroke="#000" stroke-width="1.1"/>
<text x="439.5" y="570.1" font-size="14.4" text-anchor="end" font-weight="normal" fill="#000">−2</text>
<line x1="445.20" y1="604.58" x2="451.70" y2="604.58" stroke="#000" stroke-width="1.1"/>
<text x="439.5" y="609.7" font-size="14.4" text-anchor="end" font-weight="normal" fill="#000">−4</text>
<line x1="445.20" y1="644.12" x2="451.70" y2="644.12" stroke="#000" stroke-width="1.1"/>
<text x="439.5" y="649.2" font-size="14.4" text-anchor="end" font-weight="normal" fill="#000">−6</text>
<line x1="462.10" y1="653.70" x2="462.10" y2="660.20" stroke="#000" stroke-width="1.1"/>
<text x="462.1" y="677.0" font-size="14.4" text-anchor="middle" font-weight="normal" fill="#000">1</text>
<line x1="563.10" y1="653.70" x2="563.10" y2="660.20" stroke="#000" stroke-width="1.1"/>
<text x="563.1" y="677.0" font-size="14.4" text-anchor="middle" font-weight="normal" fill="#000">100</text>
<line x1="664.10" y1="653.70" x2="664.10" y2="660.20" stroke="#000" stroke-width="1.1"/>
<text x="664.1" y="677.0" font-size="14.4" text-anchor="middle" font-weight="normal" fill="#000">10,000</text>
<text x="599.7" y="698.2" font-size="14.4" text-anchor="middle" font-weight="normal" fill="#000">Mean normalized RNA-seq signal</text>
<text transform="translate(406.6,525.5) rotate(-90)" font-size="14.4" text-anchor="middle">Log<tspan font-size="10.4" dy="4.6">2</tspan><tspan dy="-4.6">(fold change)</tspan></text>
</svg></body></html>
